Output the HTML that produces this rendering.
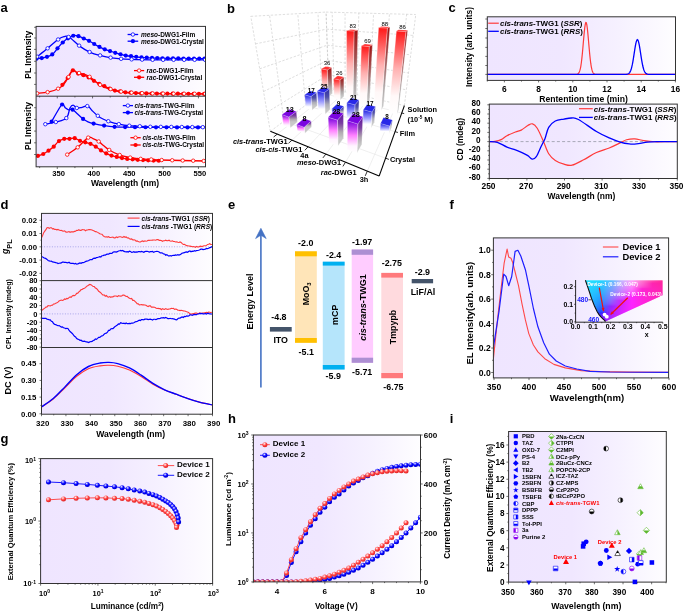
<!DOCTYPE html>
<html><head><meta charset="utf-8"><style>
html,body{margin:0;padding:0;background:#fff;}
svg{display:block;font-family:"Liberation Sans", sans-serif;will-change:transform;}
</style></head><body>
<svg width="685" height="613" viewBox="0 0 685 613">
<defs><linearGradient id="bgL" x1="0" y1="0" x2="1" y2="0"><stop offset="0" stop-color="#efe5ff"/><stop offset="0.4" stop-color="#f0e7ff"/><stop offset="0.7" stop-color="#f6f1ff"/><stop offset="1" stop-color="#fefdff"/></linearGradient><linearGradient id="bgLc" x1="0" y1="0" x2="1" y2="0"><stop offset="0" stop-color="#eee6ff"/><stop offset="0.45" stop-color="#f0e9ff"/><stop offset="1" stop-color="#fdfcff"/></linearGradient><clipPath id="clipA"><rect x="36.1" y="26.4" width="169.4" height="140.4"/></clipPath><clipPath id="clipC1"><rect x="487.3" y="16.8" width="188.2" height="63.6"/></clipPath><clipPath id="clipC2"><rect x="489.3" y="104.1" width="188" height="74.4"/></clipPath><linearGradient id="bgC" x1="0" y1="0" x2="1" y2="0"><stop offset="0" stop-color="#efe5ff"/><stop offset="0.4" stop-color="#f0e7ff"/><stop offset="0.7" stop-color="#f6f1ff"/><stop offset="1" stop-color="#fefdff"/></linearGradient><clipPath id="clipD"><rect x="41.5" y="213.4" width="171" height="200.8"/></clipPath><linearGradient id="cr0" gradientUnits="userSpaceOnUse" x1="580" y1="0" x2="663" y2="0"><stop offset="0.000" stop-color="#00e6ff"/><stop offset="0.125" stop-color="#00dfff"/><stop offset="0.250" stop-color="#00d2ff"/><stop offset="0.375" stop-color="#35b7ff"/><stop offset="0.500" stop-color="#b9acff"/><stop offset="0.625" stop-color="#ff97f9"/><stop offset="0.750" stop-color="#ff62c4"/><stop offset="0.875" stop-color="#ff2ea0"/><stop offset="1.000" stop-color="#ff008a"/></linearGradient><linearGradient id="cr1" gradientUnits="userSpaceOnUse" x1="580" y1="0" x2="663" y2="0"><stop offset="0.000" stop-color="#00e4ff"/><stop offset="0.125" stop-color="#00ddff"/><stop offset="0.250" stop-color="#00cfff"/><stop offset="0.375" stop-color="#3cb3ff"/><stop offset="0.500" stop-color="#baa7ff"/><stop offset="0.625" stop-color="#ff92f9"/><stop offset="0.750" stop-color="#ff5cc5"/><stop offset="0.875" stop-color="#ff21a1"/><stop offset="1.000" stop-color="#ff008d"/></linearGradient><linearGradient id="cr2" gradientUnits="userSpaceOnUse" x1="580" y1="0" x2="663" y2="0"><stop offset="0.000" stop-color="#00e3ff"/><stop offset="0.125" stop-color="#00daff"/><stop offset="0.250" stop-color="#00ccff"/><stop offset="0.375" stop-color="#43afff"/><stop offset="0.500" stop-color="#bba2ff"/><stop offset="0.625" stop-color="#ff8bf9"/><stop offset="0.750" stop-color="#ff55c6"/><stop offset="0.875" stop-color="#ff0da2"/><stop offset="1.000" stop-color="#ff008f"/></linearGradient><linearGradient id="cr3" gradientUnits="userSpaceOnUse" x1="580" y1="0" x2="663" y2="0"><stop offset="0.000" stop-color="#00e1ff"/><stop offset="0.125" stop-color="#00d8ff"/><stop offset="0.250" stop-color="#00c9ff"/><stop offset="0.375" stop-color="#48aaff"/><stop offset="0.500" stop-color="#bc9cff"/><stop offset="0.625" stop-color="#ff85fa"/><stop offset="0.750" stop-color="#ff4ec7"/><stop offset="0.875" stop-color="#ff00a4"/><stop offset="1.000" stop-color="#ff0092"/></linearGradient><linearGradient id="cr4" gradientUnits="userSpaceOnUse" x1="580" y1="0" x2="663" y2="0"><stop offset="0.000" stop-color="#00dfff"/><stop offset="0.125" stop-color="#00d6ff"/><stop offset="0.250" stop-color="#00c5ff"/><stop offset="0.375" stop-color="#4da6ff"/><stop offset="0.500" stop-color="#bc97ff"/><stop offset="0.625" stop-color="#ff7ffa"/><stop offset="0.750" stop-color="#ff46c7"/><stop offset="0.875" stop-color="#ff00a7"/><stop offset="1.000" stop-color="#ff0094"/></linearGradient><linearGradient id="cr5" gradientUnits="userSpaceOnUse" x1="580" y1="0" x2="663" y2="0"><stop offset="0.000" stop-color="#00deff"/><stop offset="0.125" stop-color="#00d4ff"/><stop offset="0.250" stop-color="#00c2ff"/><stop offset="0.375" stop-color="#51a1ff"/><stop offset="0.500" stop-color="#bd92ff"/><stop offset="0.625" stop-color="#ff78fa"/><stop offset="0.750" stop-color="#ff3cc8"/><stop offset="0.875" stop-color="#ff00a9"/><stop offset="1.000" stop-color="#ff0096"/></linearGradient><linearGradient id="cr6" gradientUnits="userSpaceOnUse" x1="580" y1="0" x2="663" y2="0"><stop offset="0.000" stop-color="#00dcff"/><stop offset="0.125" stop-color="#00d2ff"/><stop offset="0.250" stop-color="#00bfff"/><stop offset="0.375" stop-color="#569dff"/><stop offset="0.500" stop-color="#be8cff"/><stop offset="0.625" stop-color="#ff71fb"/><stop offset="0.750" stop-color="#ff31c9"/><stop offset="0.875" stop-color="#ff00ab"/><stop offset="1.000" stop-color="#ff0099"/></linearGradient><linearGradient id="cr7" gradientUnits="userSpaceOnUse" x1="580" y1="0" x2="663" y2="0"><stop offset="0.000" stop-color="#00daff"/><stop offset="0.125" stop-color="#00cfff"/><stop offset="0.250" stop-color="#00bbff"/><stop offset="0.375" stop-color="#5998ff"/><stop offset="0.500" stop-color="#be87ff"/><stop offset="0.625" stop-color="#ff69fb"/><stop offset="0.750" stop-color="#ff22ca"/><stop offset="0.875" stop-color="#ff00ad"/><stop offset="1.000" stop-color="#ff009b"/></linearGradient><linearGradient id="cr8" gradientUnits="userSpaceOnUse" x1="580" y1="0" x2="663" y2="0"><stop offset="0.000" stop-color="#00d8ff"/><stop offset="0.125" stop-color="#00cdff"/><stop offset="0.250" stop-color="#00b8ff"/><stop offset="0.375" stop-color="#5d94ff"/><stop offset="0.500" stop-color="#bf81ff"/><stop offset="0.625" stop-color="#ff61fb"/><stop offset="0.750" stop-color="#ff06cb"/><stop offset="0.875" stop-color="#ff00af"/><stop offset="1.000" stop-color="#ff009d"/></linearGradient><linearGradient id="cr9" gradientUnits="userSpaceOnUse" x1="580" y1="0" x2="663" y2="0"><stop offset="0.000" stop-color="#00d7ff"/><stop offset="0.125" stop-color="#00cbff"/><stop offset="0.250" stop-color="#00b4ff"/><stop offset="0.375" stop-color="#608fff"/><stop offset="0.500" stop-color="#c07bff"/><stop offset="0.625" stop-color="#ff58fc"/><stop offset="0.750" stop-color="#ff00cc"/><stop offset="0.875" stop-color="#ff00b1"/><stop offset="1.000" stop-color="#ff009f"/></linearGradient><linearGradient id="cr10" gradientUnits="userSpaceOnUse" x1="580" y1="0" x2="663" y2="0"><stop offset="0.000" stop-color="#00d5ff"/><stop offset="0.125" stop-color="#00c8ff"/><stop offset="0.250" stop-color="#00b1ff"/><stop offset="0.375" stop-color="#638aff"/><stop offset="0.500" stop-color="#c075ff"/><stop offset="0.625" stop-color="#ff4ffc"/><stop offset="0.750" stop-color="#ff00ce"/><stop offset="0.875" stop-color="#ff00b3"/><stop offset="1.000" stop-color="#ff00a1"/></linearGradient><linearGradient id="cr11" gradientUnits="userSpaceOnUse" x1="580" y1="0" x2="663" y2="0"><stop offset="0.000" stop-color="#00d3ff"/><stop offset="0.125" stop-color="#00c6ff"/><stop offset="0.250" stop-color="#00adff"/><stop offset="0.375" stop-color="#6685ff"/><stop offset="0.500" stop-color="#c16eff"/><stop offset="0.625" stop-color="#ff44fc"/><stop offset="0.750" stop-color="#ff00cf"/><stop offset="0.875" stop-color="#ff00b4"/><stop offset="1.000" stop-color="#ff00a2"/></linearGradient><linearGradient id="cr12" gradientUnits="userSpaceOnUse" x1="580" y1="0" x2="663" y2="0"><stop offset="0.000" stop-color="#00d2ff"/><stop offset="0.125" stop-color="#00c4ff"/><stop offset="0.250" stop-color="#00a9ff"/><stop offset="0.375" stop-color="#6980ff"/><stop offset="0.500" stop-color="#c167ff"/><stop offset="0.625" stop-color="#ff36fd"/><stop offset="0.750" stop-color="#ff00d0"/><stop offset="0.875" stop-color="#ff00b6"/><stop offset="1.000" stop-color="#ff00a4"/></linearGradient><linearGradient id="cr13" gradientUnits="userSpaceOnUse" x1="580" y1="0" x2="663" y2="0"><stop offset="0.000" stop-color="#00d0ff"/><stop offset="0.125" stop-color="#00c1ff"/><stop offset="0.250" stop-color="#00a5ff"/><stop offset="0.375" stop-color="#6b7bff"/><stop offset="0.500" stop-color="#c260ff"/><stop offset="0.625" stop-color="#ff24fd"/><stop offset="0.750" stop-color="#ff00d2"/><stop offset="0.875" stop-color="#ff00b8"/><stop offset="1.000" stop-color="#ff00a6"/></linearGradient><linearGradient id="cr14" gradientUnits="userSpaceOnUse" x1="580" y1="0" x2="663" y2="0"><stop offset="0.000" stop-color="#00ceff"/><stop offset="0.125" stop-color="#00bfff"/><stop offset="0.250" stop-color="#00a1ff"/><stop offset="0.375" stop-color="#6e76ff"/><stop offset="0.500" stop-color="#c358ff"/><stop offset="0.625" stop-color="#ff00fd"/><stop offset="0.750" stop-color="#ff00d3"/><stop offset="0.875" stop-color="#ff00b9"/><stop offset="1.000" stop-color="#ff00a7"/></linearGradient><linearGradient id="cr15" gradientUnits="userSpaceOnUse" x1="580" y1="0" x2="663" y2="0"><stop offset="0.000" stop-color="#00ccff"/><stop offset="0.125" stop-color="#00bcff"/><stop offset="0.250" stop-color="#009dff"/><stop offset="0.375" stop-color="#7070ff"/><stop offset="0.500" stop-color="#c350ff"/><stop offset="0.625" stop-color="#ff00fe"/><stop offset="0.750" stop-color="#ff00d4"/><stop offset="0.875" stop-color="#ff00bb"/><stop offset="1.000" stop-color="#ff00a9"/></linearGradient><linearGradient id="cr16" gradientUnits="userSpaceOnUse" x1="580" y1="0" x2="663" y2="0"><stop offset="0.000" stop-color="#00caff"/><stop offset="0.125" stop-color="#00baff"/><stop offset="0.250" stop-color="#0099ff"/><stop offset="0.375" stop-color="#736bff"/><stop offset="0.500" stop-color="#c447ff"/><stop offset="0.625" stop-color="#ff00fe"/><stop offset="0.750" stop-color="#ff00d5"/><stop offset="0.875" stop-color="#ff00bc"/><stop offset="1.000" stop-color="#ff00aa"/></linearGradient><linearGradient id="cr17" gradientUnits="userSpaceOnUse" x1="580" y1="0" x2="663" y2="0"><stop offset="0.000" stop-color="#00c8ff"/><stop offset="0.125" stop-color="#00b7ff"/><stop offset="0.250" stop-color="#0094ff"/><stop offset="0.375" stop-color="#7565ff"/><stop offset="0.500" stop-color="#c43cff"/><stop offset="0.625" stop-color="#ff00fe"/><stop offset="0.750" stop-color="#ff00d6"/><stop offset="0.875" stop-color="#ff00bd"/><stop offset="1.000" stop-color="#ff00ac"/></linearGradient><linearGradient id="cr18" gradientUnits="userSpaceOnUse" x1="580" y1="0" x2="663" y2="0"><stop offset="0.000" stop-color="#00c7ff"/><stop offset="0.125" stop-color="#00b4ff"/><stop offset="0.250" stop-color="#0090ff"/><stop offset="0.375" stop-color="#775eff"/><stop offset="0.500" stop-color="#c52eff"/><stop offset="0.625" stop-color="#ff00fe"/><stop offset="0.750" stop-color="#ff00d7"/><stop offset="0.875" stop-color="#ff00bf"/><stop offset="1.000" stop-color="#ff00ad"/></linearGradient><linearGradient id="cr19" gradientUnits="userSpaceOnUse" x1="580" y1="0" x2="663" y2="0"><stop offset="0.000" stop-color="#00c5ff"/><stop offset="0.125" stop-color="#00b2ff"/><stop offset="0.250" stop-color="#008bff"/><stop offset="0.375" stop-color="#7958ff"/><stop offset="0.500" stop-color="#c51bff"/><stop offset="0.625" stop-color="#ff00ff"/><stop offset="0.750" stop-color="#ff00d8"/><stop offset="0.875" stop-color="#ff00c0"/><stop offset="1.000" stop-color="#ff00af"/></linearGradient><linearGradient id="cr20" gradientUnits="userSpaceOnUse" x1="580" y1="0" x2="663" y2="0"><stop offset="0.000" stop-color="#00c3ff"/><stop offset="0.125" stop-color="#00afff"/><stop offset="0.250" stop-color="#0086ff"/><stop offset="0.375" stop-color="#7b50ff"/><stop offset="0.500" stop-color="#c600ff"/><stop offset="0.625" stop-color="#ff00ff"/><stop offset="0.750" stop-color="#ff00d9"/><stop offset="0.875" stop-color="#ff00c1"/><stop offset="1.000" stop-color="#ff00b0"/></linearGradient><linearGradient id="cr21" gradientUnits="userSpaceOnUse" x1="580" y1="0" x2="663" y2="0"><stop offset="0.000" stop-color="#00c1ff"/><stop offset="0.125" stop-color="#00acff"/><stop offset="0.250" stop-color="#0081ff"/><stop offset="0.375" stop-color="#7c48ff"/><stop offset="0.500" stop-color="#c700ff"/><stop offset="0.625" stop-color="#ff00ff"/><stop offset="0.750" stop-color="#ff00da"/><stop offset="0.875" stop-color="#ff00c2"/><stop offset="1.000" stop-color="#ff00b1"/></linearGradient><linearGradient id="cr22" gradientUnits="userSpaceOnUse" x1="580" y1="0" x2="663" y2="0"><stop offset="0.000" stop-color="#00bfff"/><stop offset="0.125" stop-color="#00a9ff"/><stop offset="0.250" stop-color="#007bff"/><stop offset="0.375" stop-color="#7e3fff"/><stop offset="0.500" stop-color="#c900ff"/><stop offset="0.625" stop-color="#ff00ff"/><stop offset="0.750" stop-color="#ff00db"/><stop offset="0.875" stop-color="#ff00c3"/><stop offset="1.000" stop-color="#ff00b2"/></linearGradient><linearGradient id="cr23" gradientUnits="userSpaceOnUse" x1="580" y1="0" x2="663" y2="0"><stop offset="0.000" stop-color="#00bdff"/><stop offset="0.125" stop-color="#00a7ff"/><stop offset="0.250" stop-color="#0075ff"/><stop offset="0.375" stop-color="#8035ff"/><stop offset="0.500" stop-color="#ca00ff"/><stop offset="0.625" stop-color="#ff00ff"/><stop offset="0.750" stop-color="#ff00dc"/><stop offset="0.875" stop-color="#ff00c4"/><stop offset="1.000" stop-color="#ff00b4"/></linearGradient><linearGradient id="cr24" gradientUnits="userSpaceOnUse" x1="580" y1="0" x2="663" y2="0"><stop offset="0.000" stop-color="#00bbff"/><stop offset="0.125" stop-color="#00a4ff"/><stop offset="0.250" stop-color="#006fff"/><stop offset="0.375" stop-color="#8227ff"/><stop offset="0.500" stop-color="#cb00ff"/><stop offset="0.625" stop-color="#fe00ff"/><stop offset="0.750" stop-color="#ff00dd"/><stop offset="0.875" stop-color="#ff00c6"/><stop offset="1.000" stop-color="#ff00b5"/></linearGradient><linearGradient id="cr25" gradientUnits="userSpaceOnUse" x1="580" y1="0" x2="663" y2="0"><stop offset="0.000" stop-color="#00b9ff"/><stop offset="0.125" stop-color="#00a1ff"/><stop offset="0.250" stop-color="#0069ff"/><stop offset="0.375" stop-color="#8312ff"/><stop offset="0.500" stop-color="#cd00ff"/><stop offset="0.625" stop-color="#fe00ff"/><stop offset="0.750" stop-color="#ff00dd"/><stop offset="0.875" stop-color="#ff00c7"/><stop offset="1.000" stop-color="#ff00b6"/></linearGradient><linearGradient id="cr26" gradientUnits="userSpaceOnUse" x1="580" y1="0" x2="663" y2="0"><stop offset="0.000" stop-color="#00b7ff"/><stop offset="0.125" stop-color="#009eff"/><stop offset="0.250" stop-color="#0062ff"/><stop offset="0.375" stop-color="#8600ff"/><stop offset="0.500" stop-color="#ce00ff"/><stop offset="0.625" stop-color="#fe00ff"/><stop offset="0.750" stop-color="#ff00de"/><stop offset="0.875" stop-color="#ff00c8"/><stop offset="1.000" stop-color="#ff00b7"/></linearGradient><linearGradient id="cr27" gradientUnits="userSpaceOnUse" x1="580" y1="0" x2="663" y2="0"><stop offset="0.000" stop-color="#00b5ff"/><stop offset="0.125" stop-color="#009aff"/><stop offset="0.250" stop-color="#005aff"/><stop offset="0.375" stop-color="#8a00ff"/><stop offset="0.500" stop-color="#cf00ff"/><stop offset="0.625" stop-color="#fe00ff"/><stop offset="0.750" stop-color="#ff00df"/><stop offset="0.875" stop-color="#ff00c8"/><stop offset="1.000" stop-color="#ff00b8"/></linearGradient><linearGradient id="cr28" gradientUnits="userSpaceOnUse" x1="580" y1="0" x2="663" y2="0"><stop offset="0.000" stop-color="#00b2ff"/><stop offset="0.125" stop-color="#0097ff"/><stop offset="0.250" stop-color="#0051ff"/><stop offset="0.375" stop-color="#8e00ff"/><stop offset="0.500" stop-color="#d000ff"/><stop offset="0.625" stop-color="#fe00ff"/><stop offset="0.750" stop-color="#ff00e0"/><stop offset="0.875" stop-color="#ff00c9"/><stop offset="1.000" stop-color="#ff00b9"/></linearGradient><linearGradient id="cr29" gradientUnits="userSpaceOnUse" x1="580" y1="0" x2="663" y2="0"><stop offset="0.000" stop-color="#00b0ff"/><stop offset="0.125" stop-color="#0094ff"/><stop offset="0.250" stop-color="#0047ff"/><stop offset="0.375" stop-color="#9100ff"/><stop offset="0.500" stop-color="#d100ff"/><stop offset="0.625" stop-color="#fe00ff"/><stop offset="0.750" stop-color="#ff00e0"/><stop offset="0.875" stop-color="#ff00ca"/><stop offset="1.000" stop-color="#ff00ba"/></linearGradient><linearGradient id="cr30" gradientUnits="userSpaceOnUse" x1="580" y1="0" x2="663" y2="0"><stop offset="0.000" stop-color="#00aeff"/><stop offset="0.125" stop-color="#0091ff"/><stop offset="0.250" stop-color="#003bff"/><stop offset="0.375" stop-color="#9400ff"/><stop offset="0.500" stop-color="#d200ff"/><stop offset="0.625" stop-color="#fd00ff"/><stop offset="0.750" stop-color="#ff00e1"/><stop offset="0.875" stop-color="#ff00cb"/><stop offset="1.000" stop-color="#ff00bb"/></linearGradient><linearGradient id="cr31" gradientUnits="userSpaceOnUse" x1="580" y1="0" x2="663" y2="0"><stop offset="0.000" stop-color="#00acff"/><stop offset="0.125" stop-color="#008dff"/><stop offset="0.250" stop-color="#002cff"/><stop offset="0.375" stop-color="#9700ff"/><stop offset="0.500" stop-color="#d300ff"/><stop offset="0.625" stop-color="#fd00ff"/><stop offset="0.750" stop-color="#ff00e2"/><stop offset="0.875" stop-color="#ff00cc"/><stop offset="1.000" stop-color="#ff00bc"/></linearGradient><linearGradient id="cr32" gradientUnits="userSpaceOnUse" x1="580" y1="0" x2="663" y2="0"><stop offset="0.000" stop-color="#00aaff"/><stop offset="0.125" stop-color="#0089ff"/><stop offset="0.250" stop-color="#0012ff"/><stop offset="0.375" stop-color="#9a00ff"/><stop offset="0.500" stop-color="#d300ff"/><stop offset="0.625" stop-color="#fd00ff"/><stop offset="0.750" stop-color="#ff00e2"/><stop offset="0.875" stop-color="#ff00cd"/><stop offset="1.000" stop-color="#ff00bd"/></linearGradient><linearGradient id="cr33" gradientUnits="userSpaceOnUse" x1="580" y1="0" x2="663" y2="0"><stop offset="0.000" stop-color="#00a7ff"/><stop offset="0.125" stop-color="#0086ff"/><stop offset="0.250" stop-color="#1d00ff"/><stop offset="0.375" stop-color="#9d00ff"/><stop offset="0.500" stop-color="#d400ff"/><stop offset="0.625" stop-color="#fd00ff"/><stop offset="0.750" stop-color="#ff00e3"/><stop offset="0.875" stop-color="#ff00ce"/><stop offset="1.000" stop-color="#ff00be"/></linearGradient><linearGradient id="cr34" gradientUnits="userSpaceOnUse" x1="580" y1="0" x2="663" y2="0"><stop offset="0.000" stop-color="#00a5ff"/><stop offset="0.125" stop-color="#0082ff"/><stop offset="0.250" stop-color="#3100ff"/><stop offset="0.375" stop-color="#9f00ff"/><stop offset="0.500" stop-color="#d500ff"/><stop offset="0.625" stop-color="#fd00ff"/><stop offset="0.750" stop-color="#ff00e3"/><stop offset="0.875" stop-color="#ff00ce"/><stop offset="1.000" stop-color="#ff00bf"/></linearGradient><linearGradient id="cr35" gradientUnits="userSpaceOnUse" x1="580" y1="0" x2="663" y2="0"><stop offset="0.000" stop-color="#00a3ff"/><stop offset="0.125" stop-color="#007eff"/><stop offset="0.250" stop-color="#3e00ff"/><stop offset="0.375" stop-color="#a200ff"/><stop offset="0.500" stop-color="#d600ff"/><stop offset="0.625" stop-color="#fd00ff"/><stop offset="0.750" stop-color="#ff00e4"/><stop offset="0.875" stop-color="#ff00cf"/><stop offset="1.000" stop-color="#ff00bf"/></linearGradient><linearGradient id="cr36" gradientUnits="userSpaceOnUse" x1="580" y1="0" x2="663" y2="0"><stop offset="0.000" stop-color="#00a0ff"/><stop offset="0.125" stop-color="#007aff"/><stop offset="0.250" stop-color="#4800ff"/><stop offset="0.375" stop-color="#a400ff"/><stop offset="0.500" stop-color="#d600ff"/><stop offset="0.625" stop-color="#fd00ff"/><stop offset="0.750" stop-color="#ff00e4"/><stop offset="0.875" stop-color="#ff00d0"/><stop offset="1.000" stop-color="#ff00c0"/></linearGradient><linearGradient id="cr37" gradientUnits="userSpaceOnUse" x1="580" y1="0" x2="663" y2="0"><stop offset="0.000" stop-color="#009eff"/><stop offset="0.125" stop-color="#0076ff"/><stop offset="0.250" stop-color="#5000ff"/><stop offset="0.375" stop-color="#a600ff"/><stop offset="0.500" stop-color="#d700ff"/><stop offset="0.625" stop-color="#fd00ff"/><stop offset="0.750" stop-color="#ff00e5"/><stop offset="0.875" stop-color="#ff00d1"/><stop offset="1.000" stop-color="#ff00c1"/></linearGradient><linearGradient id="cr38" gradientUnits="userSpaceOnUse" x1="580" y1="0" x2="663" y2="0"><stop offset="0.000" stop-color="#009bff"/><stop offset="0.125" stop-color="#0071ff"/><stop offset="0.250" stop-color="#5700ff"/><stop offset="0.375" stop-color="#a800ff"/><stop offset="0.500" stop-color="#d800ff"/><stop offset="0.625" stop-color="#fc00ff"/><stop offset="0.750" stop-color="#ff00e5"/><stop offset="0.875" stop-color="#ff00d1"/><stop offset="1.000" stop-color="#ff00c2"/></linearGradient><linearGradient id="cr39" gradientUnits="userSpaceOnUse" x1="580" y1="0" x2="663" y2="0"><stop offset="0.000" stop-color="#0099ff"/><stop offset="0.125" stop-color="#006cff"/><stop offset="0.250" stop-color="#5e00ff"/><stop offset="0.375" stop-color="#aa00ff"/><stop offset="0.500" stop-color="#d800ff"/><stop offset="0.625" stop-color="#fc00ff"/><stop offset="0.750" stop-color="#ff00e6"/><stop offset="0.875" stop-color="#ff00d2"/><stop offset="1.000" stop-color="#ff00c3"/></linearGradient><linearGradient id="cr40" gradientUnits="userSpaceOnUse" x1="580" y1="0" x2="663" y2="0"><stop offset="0.000" stop-color="#0096ff"/><stop offset="0.125" stop-color="#0067ff"/><stop offset="0.250" stop-color="#6300ff"/><stop offset="0.375" stop-color="#ab00ff"/><stop offset="0.500" stop-color="#d900ff"/><stop offset="0.625" stop-color="#fc00ff"/><stop offset="0.750" stop-color="#ff00e6"/><stop offset="0.875" stop-color="#ff00d3"/><stop offset="1.000" stop-color="#ff00c3"/></linearGradient><linearGradient id="cr41" gradientUnits="userSpaceOnUse" x1="580" y1="0" x2="663" y2="0"><stop offset="0.000" stop-color="#0094ff"/><stop offset="0.125" stop-color="#0062ff"/><stop offset="0.250" stop-color="#6800ff"/><stop offset="0.375" stop-color="#ad00ff"/><stop offset="0.500" stop-color="#d900ff"/><stop offset="0.625" stop-color="#fc00ff"/><stop offset="0.750" stop-color="#ff00e7"/><stop offset="0.875" stop-color="#ff00d3"/><stop offset="1.000" stop-color="#ff00c4"/></linearGradient><clipPath id="clipF"><rect x="493.4" y="237.9" width="175.2" height="140"/></clipPath><linearGradient id="cieBase" gradientUnits="userSpaceOnUse" x1="585" y1="0" x2="663" y2="0"><stop offset="0" stop-color="#2a4cff"/><stop offset="0.25" stop-color="#5a22ff"/><stop offset="0.5" stop-color="#c012f0"/><stop offset="0.75" stop-color="#f010d0"/><stop offset="1" stop-color="#ff10a8"/></linearGradient><radialGradient id="cieCyan" gradientUnits="userSpaceOnUse" cx="586" cy="279" r="24"><stop offset="0" stop-color="#00f0f8" stop-opacity="1"/><stop offset="0.55" stop-color="#10c8f8" stop-opacity="0.85"/><stop offset="1" stop-color="#2060ff" stop-opacity="0"/></radialGradient><radialGradient id="cieWhite" gradientUnits="userSpaceOnUse" cx="620" cy="281" r="17"><stop offset="0" stop-color="#ffffff" stop-opacity="0.85"/><stop offset="1" stop-color="#ffd0ff" stop-opacity="0"/></radialGradient><clipPath id="cieClip"><path id="cieShape" d="M585.4,280.2 L587.6,286.6 L589.6,292.5 L591.5,298.5 L594.7,306.6 L597.2,311.7 L599.2,314.9 L600.7,316.7 L602.9,318.8 L604.6,320.4 L605.4,321.6 L662.6,295.3 L662.6,280.2 Z"/></clipPath><radialGradient id="ballB" cx="0.38" cy="0.32" r="0.65"><stop offset="0" stop-color="#ffffff"/><stop offset="0.28" stop-color="#6a6aff"/><stop offset="0.6" stop-color="#0000ff"/><stop offset="1" stop-color="#0000d0"/></radialGradient><radialGradient id="ballR" cx="0.38" cy="0.32" r="0.65"><stop offset="0" stop-color="#ffffff"/><stop offset="0.28" stop-color="#ff9a9a"/><stop offset="0.6" stop-color="#ff3c3c"/><stop offset="1" stop-color="#e02a2a"/></radialGradient><clipPath id="hT" clipPathUnits="objectBoundingBox"><rect x="0" y="0" width="1" height="0.5"/></clipPath><clipPath id="hB" clipPathUnits="objectBoundingBox"><rect x="0" y="0.5" width="1" height="0.5"/></clipPath><clipPath id="hL" clipPathUnits="objectBoundingBox"><rect x="0" y="0" width="0.5" height="1"/></clipPath><clipPath id="hR" clipPathUnits="objectBoundingBox"><rect x="0.5" y="0" width="0.5" height="1"/></clipPath></defs>
<rect width="685" height="613" fill="#fff"/>
<text x="0.40" y="11.90" font-size="13" font-weight="bold" text-anchor="start" fill="#000">a</text>
<rect x="36.10" y="26.40" width="169.40" height="140.40" fill="url(#bgL)" stroke="none" stroke-width="1"/>
<g clip-path="url(#clipA)">
<path d="M37.10,56.70 C38.92,55.25 44.40,50.95 48.00,48.00 C51.60,45.05 56.03,40.90 58.70,39.00 C61.37,37.10 62.28,36.93 64.00,36.60 C65.72,36.27 66.33,35.37 69.00,37.00 C71.67,38.63 76.48,43.85 80.00,46.40 C83.52,48.95 86.65,50.77 90.10,52.30 C93.55,53.83 97.15,54.68 100.70,55.60 C104.25,56.52 107.35,57.20 111.40,57.80 C115.45,58.40 118.57,58.87 125.00,59.20 C131.43,59.53 136.58,59.70 150.00,59.80 C163.42,59.90 196.25,59.80 205.50,59.80" fill="none" stroke="#0000ff" stroke-width="1.3"/>
<path d="M36.30,58.70 C37.25,58.58 40.15,58.33 42.00,58.00 C43.85,57.67 45.63,57.32 47.40,56.70 C49.17,56.08 50.87,55.75 52.60,54.30 C54.33,52.85 56.03,50.05 57.80,48.00 C59.57,45.95 61.40,43.68 63.20,42.00 C65.00,40.32 66.83,38.98 68.60,37.90 C70.37,36.82 72.07,35.77 73.80,35.50 C75.53,35.23 77.23,35.75 79.00,36.30 C80.77,36.85 82.60,37.98 84.40,38.80 C86.20,39.62 88.03,40.25 89.80,41.20 C91.57,42.15 93.25,43.47 95.00,44.50 C96.75,45.53 98.53,46.53 100.30,47.40 C102.07,48.27 103.83,49.05 105.60,49.70 C107.37,50.35 109.13,50.73 110.90,51.30 C112.67,51.87 113.85,52.40 116.20,53.10 C118.55,53.80 121.03,54.80 125.00,55.50 C128.97,56.20 134.17,56.85 140.00,57.30 C145.83,57.75 153.33,58.00 160.00,58.20 C166.67,58.40 172.42,58.43 180.00,58.50 C187.58,58.57 201.25,58.58 205.50,58.60" fill="none" stroke="#0000ff" stroke-width="1.3"/>
<path d="M37.10,93.40 C38.92,93.18 44.40,92.92 48.00,92.10 C51.60,91.28 56.03,89.85 58.70,88.50 C61.37,87.15 62.28,86.03 64.00,84.00 C65.72,81.97 67.55,78.60 69.00,76.30 C70.45,74.00 71.53,70.92 72.70,70.20 C73.87,69.48 74.78,71.48 76.00,72.00 C77.22,72.52 78.33,72.83 80.00,73.30 C81.67,73.77 84.32,74.17 86.00,74.80 C87.68,75.43 88.60,76.07 90.10,77.10 C91.60,78.13 93.23,79.63 95.00,81.00 C96.77,82.37 98.87,84.17 100.70,85.30 C102.53,86.43 104.22,87.13 106.00,87.80 C107.78,88.47 109.07,88.68 111.40,89.30 C113.73,89.92 116.07,90.88 120.00,91.50 C123.93,92.12 128.33,92.65 135.00,93.00 C141.67,93.35 148.25,93.47 160.00,93.60 C171.75,93.73 197.92,93.77 205.50,93.80" fill="none" stroke="#ff0000" stroke-width="1.3"/>
<path d="M62.40,84.80 C63.17,83.83 65.28,81.43 67.00,79.00 C68.72,76.57 70.87,71.12 72.70,70.20 C74.53,69.28 76.23,72.68 78.00,73.50 C79.77,74.32 81.63,74.52 83.30,75.10 C84.97,75.68 86.27,76.07 88.00,77.00 C89.73,77.93 91.87,79.57 93.70,80.70 C95.53,81.83 97.23,82.90 99.00,83.80 C100.77,84.70 102.63,85.35 104.30,86.10 C105.97,86.85 107.28,87.57 109.00,88.30 C110.72,89.03 111.93,89.83 114.60,90.50 C117.27,91.17 120.77,91.82 125.00,92.30 C129.23,92.78 126.58,93.13 140.00,93.40 C153.42,93.67 194.58,93.82 205.50,93.90" fill="none" stroke="#ff0000" stroke-width="1.3"/>
<path d="M45.30,124.20 C47.08,123.83 52.47,123.03 56.00,122.00 C59.53,120.97 64.17,120.33 66.50,118.00 C68.83,115.67 68.90,110.13 70.00,108.00 C71.10,105.87 71.93,105.18 73.10,105.20 C74.27,105.22 75.52,107.73 77.00,108.10 C78.48,108.47 80.22,107.75 82.00,107.40 C83.78,107.05 86.03,105.48 87.70,106.00 C89.37,106.52 90.30,108.85 92.00,110.50 C93.70,112.15 96.07,114.48 97.90,115.90 C99.73,117.32 101.23,118.10 103.00,119.00 C104.77,119.90 105.83,120.43 108.50,121.30 C111.17,122.17 115.53,123.47 119.00,124.20 C122.47,124.93 124.13,125.27 129.30,125.70 C134.47,126.13 137.30,126.55 150.00,126.80 C162.70,127.05 196.25,127.13 205.50,127.20" fill="none" stroke="#0000ff" stroke-width="1.3"/>
<path d="M51.60,121.70 C52.42,120.25 54.75,115.87 56.50,113.00 C58.25,110.13 60.60,105.33 62.10,104.50 C63.60,103.67 64.43,107.12 65.50,108.00 C66.57,108.88 67.42,109.60 68.50,109.80 C69.58,110.00 70.58,108.58 72.00,109.20 C73.42,109.82 75.12,111.85 77.00,113.50 C78.88,115.15 81.47,117.72 83.30,119.10 C85.13,120.48 86.25,121.05 88.00,121.80 C89.75,122.55 91.05,122.95 93.80,123.60 C96.55,124.25 101.02,125.17 104.50,125.70 C107.98,126.23 111.25,126.57 114.70,126.80 C118.15,127.03 119.32,127.02 125.20,127.10 C131.08,127.18 136.62,127.23 150.00,127.30 C163.38,127.37 196.25,127.47 205.50,127.50" fill="none" stroke="#0000ff" stroke-width="1.3"/>
<path d="M67.20,154.60 C68.90,153.43 73.92,150.43 77.40,147.60 C80.88,144.77 85.50,139.10 88.10,137.60 C90.70,136.10 91.25,137.97 93.00,138.60 C94.75,139.23 96.85,140.25 98.60,141.40 C100.35,142.55 101.80,144.12 103.50,145.50 C105.20,146.88 106.17,148.13 108.80,149.70 C111.43,151.27 115.85,153.60 119.30,154.90 C122.75,156.20 126.10,156.85 129.50,157.50 C132.90,158.15 134.62,158.38 139.70,158.80 C144.78,159.22 149.03,159.63 160.00,160.00 C170.97,160.37 197.92,160.83 205.50,161.00" fill="none" stroke="#ff0000" stroke-width="1.3"/>
<path d="M36.10,156.50 C37.27,156.10 41.08,155.03 43.10,154.10 C45.12,153.17 46.45,152.12 48.20,150.90 C49.95,149.68 51.82,148.43 53.60,146.80 C55.38,145.17 57.12,142.43 58.90,141.10 C60.68,139.77 62.55,139.18 64.30,138.80 C66.05,138.42 67.70,138.92 69.40,138.80 C71.10,138.68 72.67,137.73 74.50,138.10 C76.33,138.47 78.57,140.28 80.40,141.00 C82.23,141.72 83.80,141.92 85.50,142.40 C87.20,142.88 88.85,143.17 90.60,143.90 C92.35,144.63 94.25,145.70 96.00,146.80 C97.75,147.90 99.40,149.40 101.10,150.50 C102.80,151.60 104.47,152.55 106.20,153.40 C107.93,154.25 109.72,155.00 111.50,155.60 C113.28,156.20 115.15,156.58 116.90,157.00 C118.65,157.42 120.30,157.78 122.00,158.10 C123.70,158.42 124.10,158.58 127.10,158.90 C130.10,159.22 134.02,159.67 140.00,160.00 C145.98,160.33 159.17,160.75 163.00,160.90" fill="none" stroke="#ff0000" stroke-width="1.3"/>
<circle cx="36.50" cy="58.68" r="2.1" fill="#0000ff" stroke="none" stroke-width="1"/>
<circle cx="41.75" cy="58.03" r="2.1" fill="#0000ff" stroke="none" stroke-width="1"/>
<circle cx="47.00" cy="56.80" r="2.1" fill="#0000ff" stroke="none" stroke-width="1"/>
<circle cx="52.25" cy="54.46" r="2.1" fill="#0000ff" stroke="none" stroke-width="1"/>
<circle cx="57.50" cy="48.36" r="2.1" fill="#0000ff" stroke="none" stroke-width="1"/>
<circle cx="62.75" cy="42.50" r="2.1" fill="#0000ff" stroke="none" stroke-width="1"/>
<circle cx="68.00" cy="38.36" r="2.1" fill="#0000ff" stroke="none" stroke-width="1"/>
<circle cx="73.25" cy="35.75" r="2.1" fill="#0000ff" stroke="none" stroke-width="1"/>
<circle cx="78.50" cy="36.22" r="2.1" fill="#0000ff" stroke="none" stroke-width="1"/>
<circle cx="83.75" cy="38.50" r="2.1" fill="#0000ff" stroke="none" stroke-width="1"/>
<circle cx="89.00" cy="40.84" r="2.1" fill="#0000ff" stroke="none" stroke-width="1"/>
<circle cx="94.25" cy="44.02" r="2.1" fill="#0000ff" stroke="none" stroke-width="1"/>
<circle cx="99.50" cy="46.96" r="2.1" fill="#0000ff" stroke="none" stroke-width="1"/>
<circle cx="104.75" cy="49.33" r="2.1" fill="#0000ff" stroke="none" stroke-width="1"/>
<circle cx="110.00" cy="51.03" r="2.1" fill="#0000ff" stroke="none" stroke-width="1"/>
<circle cx="115.25" cy="52.78" r="2.1" fill="#0000ff" stroke="none" stroke-width="1"/>
<circle cx="120.50" cy="54.27" r="2.1" fill="#0000ff" stroke="none" stroke-width="1"/>
<circle cx="125.75" cy="55.59" r="2.1" fill="#0000ff" stroke="none" stroke-width="1"/>
<circle cx="131.00" cy="56.22" r="2.1" fill="#0000ff" stroke="none" stroke-width="1"/>
<circle cx="136.25" cy="56.85" r="2.1" fill="#0000ff" stroke="none" stroke-width="1"/>
<circle cx="141.50" cy="57.37" r="2.1" fill="#0000ff" stroke="none" stroke-width="1"/>
<circle cx="146.75" cy="57.60" r="2.1" fill="#0000ff" stroke="none" stroke-width="1"/>
<circle cx="152.00" cy="57.84" r="2.1" fill="#0000ff" stroke="none" stroke-width="1"/>
<circle cx="157.25" cy="58.08" r="2.1" fill="#0000ff" stroke="none" stroke-width="1"/>
<circle cx="162.50" cy="58.24" r="2.1" fill="#0000ff" stroke="none" stroke-width="1"/>
<circle cx="167.75" cy="58.32" r="2.1" fill="#0000ff" stroke="none" stroke-width="1"/>
<circle cx="173.00" cy="58.40" r="2.1" fill="#0000ff" stroke="none" stroke-width="1"/>
<circle cx="178.25" cy="58.47" r="2.1" fill="#0000ff" stroke="none" stroke-width="1"/>
<circle cx="183.50" cy="58.51" r="2.1" fill="#0000ff" stroke="none" stroke-width="1"/>
<circle cx="188.75" cy="58.53" r="2.1" fill="#0000ff" stroke="none" stroke-width="1"/>
<circle cx="194.00" cy="58.55" r="2.1" fill="#0000ff" stroke="none" stroke-width="1"/>
<circle cx="199.25" cy="58.58" r="2.1" fill="#0000ff" stroke="none" stroke-width="1"/>
<circle cx="204.50" cy="58.60" r="2.1" fill="#0000ff" stroke="none" stroke-width="1"/>
<circle cx="37.10" cy="56.70" r="1.75" fill="#fff" stroke="#0000ff" stroke-width="0.8"/>
<circle cx="47.60" cy="48.32" r="1.75" fill="#fff" stroke="#0000ff" stroke-width="0.8"/>
<circle cx="58.10" cy="39.50" r="1.75" fill="#fff" stroke="#0000ff" stroke-width="0.8"/>
<circle cx="68.60" cy="36.97" r="1.75" fill="#fff" stroke="#0000ff" stroke-width="0.8"/>
<circle cx="79.10" cy="45.63" r="1.75" fill="#fff" stroke="#0000ff" stroke-width="0.8"/>
<circle cx="89.60" cy="52.01" r="1.75" fill="#fff" stroke="#0000ff" stroke-width="0.8"/>
<circle cx="100.10" cy="55.41" r="1.75" fill="#fff" stroke="#0000ff" stroke-width="0.8"/>
<circle cx="110.60" cy="57.64" r="1.75" fill="#fff" stroke="#0000ff" stroke-width="0.8"/>
<circle cx="121.10" cy="58.80" r="1.75" fill="#fff" stroke="#0000ff" stroke-width="0.8"/>
<circle cx="131.60" cy="59.36" r="1.75" fill="#fff" stroke="#0000ff" stroke-width="0.8"/>
<circle cx="142.10" cy="59.61" r="1.75" fill="#fff" stroke="#0000ff" stroke-width="0.8"/>
<circle cx="152.60" cy="59.80" r="1.75" fill="#fff" stroke="#0000ff" stroke-width="0.8"/>
<circle cx="163.10" cy="59.80" r="1.75" fill="#fff" stroke="#0000ff" stroke-width="0.8"/>
<circle cx="173.60" cy="59.80" r="1.75" fill="#fff" stroke="#0000ff" stroke-width="0.8"/>
<circle cx="184.10" cy="59.80" r="1.75" fill="#fff" stroke="#0000ff" stroke-width="0.8"/>
<circle cx="194.60" cy="59.80" r="1.75" fill="#fff" stroke="#0000ff" stroke-width="0.8"/>
<circle cx="205.10" cy="59.80" r="1.75" fill="#fff" stroke="#0000ff" stroke-width="0.8"/>
<circle cx="62.40" cy="84.80" r="2.1" fill="#ff0000" stroke="none" stroke-width="1"/>
<circle cx="67.65" cy="78.00" r="2.1" fill="#ff0000" stroke="none" stroke-width="1"/>
<circle cx="72.90" cy="70.32" r="2.1" fill="#ff0000" stroke="none" stroke-width="1"/>
<circle cx="78.15" cy="73.55" r="2.1" fill="#ff0000" stroke="none" stroke-width="1"/>
<circle cx="83.40" cy="75.14" r="2.1" fill="#ff0000" stroke="none" stroke-width="1"/>
<circle cx="88.65" cy="77.42" r="2.1" fill="#ff0000" stroke="none" stroke-width="1"/>
<circle cx="93.90" cy="80.82" r="2.1" fill="#ff0000" stroke="none" stroke-width="1"/>
<circle cx="99.15" cy="83.87" r="2.1" fill="#ff0000" stroke="none" stroke-width="1"/>
<circle cx="104.40" cy="86.15" r="2.1" fill="#ff0000" stroke="none" stroke-width="1"/>
<circle cx="109.65" cy="88.56" r="2.1" fill="#ff0000" stroke="none" stroke-width="1"/>
<circle cx="114.90" cy="90.55" r="2.1" fill="#ff0000" stroke="none" stroke-width="1"/>
<circle cx="120.15" cy="91.46" r="2.1" fill="#ff0000" stroke="none" stroke-width="1"/>
<circle cx="125.40" cy="92.33" r="2.1" fill="#ff0000" stroke="none" stroke-width="1"/>
<circle cx="130.65" cy="92.71" r="2.1" fill="#ff0000" stroke="none" stroke-width="1"/>
<circle cx="135.90" cy="93.10" r="2.1" fill="#ff0000" stroke="none" stroke-width="1"/>
<circle cx="141.15" cy="93.41" r="2.1" fill="#ff0000" stroke="none" stroke-width="1"/>
<circle cx="146.40" cy="93.45" r="2.1" fill="#ff0000" stroke="none" stroke-width="1"/>
<circle cx="151.65" cy="93.49" r="2.1" fill="#ff0000" stroke="none" stroke-width="1"/>
<circle cx="156.90" cy="93.53" r="2.1" fill="#ff0000" stroke="none" stroke-width="1"/>
<circle cx="162.15" cy="93.57" r="2.1" fill="#ff0000" stroke="none" stroke-width="1"/>
<circle cx="167.40" cy="93.61" r="2.1" fill="#ff0000" stroke="none" stroke-width="1"/>
<circle cx="172.65" cy="93.65" r="2.1" fill="#ff0000" stroke="none" stroke-width="1"/>
<circle cx="177.90" cy="93.69" r="2.1" fill="#ff0000" stroke="none" stroke-width="1"/>
<circle cx="183.15" cy="93.73" r="2.1" fill="#ff0000" stroke="none" stroke-width="1"/>
<circle cx="188.40" cy="93.77" r="2.1" fill="#ff0000" stroke="none" stroke-width="1"/>
<circle cx="193.65" cy="93.81" r="2.1" fill="#ff0000" stroke="none" stroke-width="1"/>
<circle cx="198.90" cy="93.85" r="2.1" fill="#ff0000" stroke="none" stroke-width="1"/>
<circle cx="204.15" cy="93.89" r="2.1" fill="#ff0000" stroke="none" stroke-width="1"/>
<circle cx="37.10" cy="93.40" r="1.75" fill="#fff" stroke="#ff0000" stroke-width="0.8"/>
<circle cx="47.60" cy="92.15" r="1.75" fill="#fff" stroke="#ff0000" stroke-width="0.8"/>
<circle cx="58.10" cy="88.70" r="1.75" fill="#fff" stroke="#ff0000" stroke-width="0.8"/>
<circle cx="68.60" cy="76.92" r="1.75" fill="#fff" stroke="#ff0000" stroke-width="0.8"/>
<circle cx="79.10" cy="73.01" r="1.75" fill="#fff" stroke="#ff0000" stroke-width="0.8"/>
<circle cx="89.60" cy="76.82" r="1.75" fill="#fff" stroke="#ff0000" stroke-width="0.8"/>
<circle cx="100.10" cy="84.85" r="1.75" fill="#fff" stroke="#ff0000" stroke-width="0.8"/>
<circle cx="110.60" cy="89.08" r="1.75" fill="#fff" stroke="#ff0000" stroke-width="0.8"/>
<circle cx="121.10" cy="91.61" r="1.75" fill="#fff" stroke="#ff0000" stroke-width="0.8"/>
<circle cx="131.60" cy="92.66" r="1.75" fill="#fff" stroke="#ff0000" stroke-width="0.8"/>
<circle cx="142.10" cy="93.17" r="1.75" fill="#fff" stroke="#ff0000" stroke-width="0.8"/>
<circle cx="152.60" cy="93.42" r="1.75" fill="#fff" stroke="#ff0000" stroke-width="0.8"/>
<circle cx="163.10" cy="93.61" r="1.75" fill="#fff" stroke="#ff0000" stroke-width="0.8"/>
<circle cx="173.60" cy="93.66" r="1.75" fill="#fff" stroke="#ff0000" stroke-width="0.8"/>
<circle cx="184.10" cy="93.71" r="1.75" fill="#fff" stroke="#ff0000" stroke-width="0.8"/>
<circle cx="194.60" cy="93.75" r="1.75" fill="#fff" stroke="#ff0000" stroke-width="0.8"/>
<circle cx="205.10" cy="93.80" r="1.75" fill="#fff" stroke="#ff0000" stroke-width="0.8"/>
<circle cx="51.60" cy="121.70" r="2.1" fill="#0000ff" stroke="none" stroke-width="1"/>
<circle cx="62.10" cy="104.50" r="2.1" fill="#0000ff" stroke="none" stroke-width="1"/>
<circle cx="72.60" cy="109.72" r="2.1" fill="#0000ff" stroke="none" stroke-width="1"/>
<circle cx="83.10" cy="118.92" r="2.1" fill="#0000ff" stroke="none" stroke-width="1"/>
<circle cx="93.60" cy="123.54" r="2.1" fill="#0000ff" stroke="none" stroke-width="1"/>
<circle cx="104.10" cy="125.62" r="2.1" fill="#0000ff" stroke="none" stroke-width="1"/>
<circle cx="114.60" cy="126.79" r="2.1" fill="#0000ff" stroke="none" stroke-width="1"/>
<circle cx="125.10" cy="127.10" r="2.1" fill="#0000ff" stroke="none" stroke-width="1"/>
<circle cx="135.00" cy="127.18" r="2.1" fill="#0000ff" stroke="none" stroke-width="1"/>
<circle cx="145.50" cy="127.26" r="2.1" fill="#0000ff" stroke="none" stroke-width="1"/>
<circle cx="156.00" cy="127.32" r="2.1" fill="#0000ff" stroke="none" stroke-width="1"/>
<circle cx="166.50" cy="127.36" r="2.1" fill="#0000ff" stroke="none" stroke-width="1"/>
<circle cx="177.00" cy="127.40" r="2.1" fill="#0000ff" stroke="none" stroke-width="1"/>
<circle cx="187.50" cy="127.44" r="2.1" fill="#0000ff" stroke="none" stroke-width="1"/>
<circle cx="198.00" cy="127.47" r="2.1" fill="#0000ff" stroke="none" stroke-width="1"/>
<circle cx="45.30" cy="124.20" r="1.75" fill="#fff" stroke="#0000ff" stroke-width="0.8"/>
<circle cx="55.80" cy="122.04" r="1.75" fill="#fff" stroke="#0000ff" stroke-width="0.8"/>
<circle cx="66.30" cy="118.08" r="1.75" fill="#fff" stroke="#0000ff" stroke-width="0.8"/>
<circle cx="76.80" cy="107.95" r="1.75" fill="#fff" stroke="#0000ff" stroke-width="0.8"/>
<circle cx="87.30" cy="106.10" r="1.75" fill="#fff" stroke="#0000ff" stroke-width="0.8"/>
<circle cx="97.80" cy="115.81" r="1.75" fill="#fff" stroke="#0000ff" stroke-width="0.8"/>
<circle cx="108.30" cy="121.22" r="1.75" fill="#fff" stroke="#0000ff" stroke-width="0.8"/>
<circle cx="118.80" cy="124.14" r="1.75" fill="#fff" stroke="#0000ff" stroke-width="0.8"/>
<circle cx="129.30" cy="125.70" r="1.75" fill="#fff" stroke="#0000ff" stroke-width="0.8"/>
<circle cx="139.80" cy="126.26" r="1.75" fill="#fff" stroke="#0000ff" stroke-width="0.8"/>
<circle cx="150.30" cy="126.80" r="1.75" fill="#fff" stroke="#0000ff" stroke-width="0.8"/>
<circle cx="160.80" cy="126.88" r="1.75" fill="#fff" stroke="#0000ff" stroke-width="0.8"/>
<circle cx="171.30" cy="126.95" r="1.75" fill="#fff" stroke="#0000ff" stroke-width="0.8"/>
<circle cx="181.80" cy="127.03" r="1.75" fill="#fff" stroke="#0000ff" stroke-width="0.8"/>
<circle cx="192.30" cy="127.10" r="1.75" fill="#fff" stroke="#0000ff" stroke-width="0.8"/>
<circle cx="202.80" cy="127.18" r="1.75" fill="#fff" stroke="#0000ff" stroke-width="0.8"/>
<circle cx="38.00" cy="155.85" r="2.1" fill="#ff0000" stroke="none" stroke-width="1"/>
<circle cx="43.25" cy="154.01" r="2.1" fill="#ff0000" stroke="none" stroke-width="1"/>
<circle cx="48.50" cy="150.67" r="2.1" fill="#ff0000" stroke="none" stroke-width="1"/>
<circle cx="53.75" cy="146.64" r="2.1" fill="#ff0000" stroke="none" stroke-width="1"/>
<circle cx="59.00" cy="141.06" r="2.1" fill="#ff0000" stroke="none" stroke-width="1"/>
<circle cx="64.25" cy="138.82" r="2.1" fill="#ff0000" stroke="none" stroke-width="1"/>
<circle cx="69.50" cy="138.79" r="2.1" fill="#ff0000" stroke="none" stroke-width="1"/>
<circle cx="74.75" cy="138.22" r="2.1" fill="#ff0000" stroke="none" stroke-width="1"/>
<circle cx="80.00" cy="140.80" r="2.1" fill="#ff0000" stroke="none" stroke-width="1"/>
<circle cx="85.25" cy="142.33" r="2.1" fill="#ff0000" stroke="none" stroke-width="1"/>
<circle cx="90.50" cy="143.87" r="2.1" fill="#ff0000" stroke="none" stroke-width="1"/>
<circle cx="95.75" cy="146.67" r="2.1" fill="#ff0000" stroke="none" stroke-width="1"/>
<circle cx="101.00" cy="150.43" r="2.1" fill="#ff0000" stroke="none" stroke-width="1"/>
<circle cx="106.25" cy="153.42" r="2.1" fill="#ff0000" stroke="none" stroke-width="1"/>
<circle cx="111.50" cy="155.60" r="2.1" fill="#ff0000" stroke="none" stroke-width="1"/>
<circle cx="116.75" cy="156.96" r="2.1" fill="#ff0000" stroke="none" stroke-width="1"/>
<circle cx="122.00" cy="158.10" r="2.1" fill="#ff0000" stroke="none" stroke-width="1"/>
<circle cx="127.25" cy="158.91" r="2.1" fill="#ff0000" stroke="none" stroke-width="1"/>
<circle cx="132.50" cy="159.36" r="2.1" fill="#ff0000" stroke="none" stroke-width="1"/>
<circle cx="137.75" cy="159.81" r="2.1" fill="#ff0000" stroke="none" stroke-width="1"/>
<circle cx="143.00" cy="160.12" r="2.1" fill="#ff0000" stroke="none" stroke-width="1"/>
<circle cx="148.25" cy="160.32" r="2.1" fill="#ff0000" stroke="none" stroke-width="1"/>
<circle cx="153.50" cy="160.53" r="2.1" fill="#ff0000" stroke="none" stroke-width="1"/>
<circle cx="158.75" cy="160.73" r="2.1" fill="#ff0000" stroke="none" stroke-width="1"/>
<circle cx="67.20" cy="154.60" r="1.75" fill="#fff" stroke="#ff0000" stroke-width="0.8"/>
<circle cx="77.70" cy="147.32" r="1.75" fill="#fff" stroke="#ff0000" stroke-width="0.8"/>
<circle cx="88.20" cy="137.62" r="1.75" fill="#fff" stroke="#ff0000" stroke-width="0.8"/>
<circle cx="98.70" cy="141.48" r="1.75" fill="#fff" stroke="#ff0000" stroke-width="0.8"/>
<circle cx="109.20" cy="149.90" r="1.75" fill="#fff" stroke="#ff0000" stroke-width="0.8"/>
<circle cx="119.70" cy="155.00" r="1.75" fill="#fff" stroke="#ff0000" stroke-width="0.8"/>
<circle cx="130.20" cy="157.59" r="1.75" fill="#fff" stroke="#ff0000" stroke-width="0.8"/>
<circle cx="140.70" cy="158.86" r="1.75" fill="#fff" stroke="#ff0000" stroke-width="0.8"/>
<circle cx="151.20" cy="159.48" r="1.75" fill="#fff" stroke="#ff0000" stroke-width="0.8"/>
<circle cx="161.70" cy="160.04" r="1.75" fill="#fff" stroke="#ff0000" stroke-width="0.8"/>
<circle cx="172.20" cy="160.27" r="1.75" fill="#fff" stroke="#ff0000" stroke-width="0.8"/>
<circle cx="182.70" cy="160.50" r="1.75" fill="#fff" stroke="#ff0000" stroke-width="0.8"/>
<circle cx="193.20" cy="160.73" r="1.75" fill="#fff" stroke="#ff0000" stroke-width="0.8"/>
<circle cx="203.70" cy="160.96" r="1.75" fill="#fff" stroke="#ff0000" stroke-width="0.8"/>
</g>
<rect x="36.10" y="26.40" width="169.40" height="140.40" fill="none" stroke="#333" stroke-width="1"/>
<line x1="36.10" y1="96.20" x2="205.50" y2="96.20" stroke="#333" stroke-width="1"/>
<line x1="39.63" y1="166.80" x2="39.63" y2="168.10" stroke="#333" stroke-width="0.7"/>
<line x1="39.63" y1="96.20" x2="39.63" y2="97.50" stroke="#333" stroke-width="0.7"/>
<line x1="57.27" y1="166.80" x2="57.27" y2="169.00" stroke="#333" stroke-width="0.7"/>
<line x1="57.27" y1="96.20" x2="57.27" y2="98.40" stroke="#333" stroke-width="0.7"/>
<text x="58.67" y="176.00" font-size="7.6" font-weight="bold" text-anchor="middle" fill="#000">350</text>
<line x1="74.92" y1="166.80" x2="74.92" y2="168.10" stroke="#333" stroke-width="0.7"/>
<line x1="74.92" y1="96.20" x2="74.92" y2="97.50" stroke="#333" stroke-width="0.7"/>
<line x1="92.56" y1="166.80" x2="92.56" y2="169.00" stroke="#333" stroke-width="0.7"/>
<line x1="92.56" y1="96.20" x2="92.56" y2="98.40" stroke="#333" stroke-width="0.7"/>
<text x="93.96" y="176.00" font-size="7.6" font-weight="bold" text-anchor="middle" fill="#000">400</text>
<line x1="110.21" y1="166.80" x2="110.21" y2="168.10" stroke="#333" stroke-width="0.7"/>
<line x1="110.21" y1="96.20" x2="110.21" y2="97.50" stroke="#333" stroke-width="0.7"/>
<line x1="127.85" y1="166.80" x2="127.85" y2="169.00" stroke="#333" stroke-width="0.7"/>
<line x1="127.85" y1="96.20" x2="127.85" y2="98.40" stroke="#333" stroke-width="0.7"/>
<text x="129.25" y="176.00" font-size="7.6" font-weight="bold" text-anchor="middle" fill="#000">450</text>
<line x1="145.50" y1="166.80" x2="145.50" y2="168.10" stroke="#333" stroke-width="0.7"/>
<line x1="145.50" y1="96.20" x2="145.50" y2="97.50" stroke="#333" stroke-width="0.7"/>
<line x1="163.14" y1="166.80" x2="163.14" y2="169.00" stroke="#333" stroke-width="0.7"/>
<line x1="163.14" y1="96.20" x2="163.14" y2="98.40" stroke="#333" stroke-width="0.7"/>
<text x="164.54" y="176.00" font-size="7.6" font-weight="bold" text-anchor="middle" fill="#000">500</text>
<line x1="180.79" y1="166.80" x2="180.79" y2="168.10" stroke="#333" stroke-width="0.7"/>
<line x1="180.79" y1="96.20" x2="180.79" y2="97.50" stroke="#333" stroke-width="0.7"/>
<line x1="198.43" y1="166.80" x2="198.43" y2="169.00" stroke="#333" stroke-width="0.7"/>
<line x1="198.43" y1="96.20" x2="198.43" y2="98.40" stroke="#333" stroke-width="0.7"/>
<text x="199.83" y="176.00" font-size="7.6" font-weight="bold" text-anchor="middle" fill="#000">550</text>
<line x1="34.10" y1="27.30" x2="36.10" y2="27.30" stroke="#333" stroke-width="0.7"/>
<line x1="34.10" y1="38.00" x2="36.10" y2="38.00" stroke="#333" stroke-width="0.7"/>
<line x1="34.10" y1="49.40" x2="36.10" y2="49.40" stroke="#333" stroke-width="0.7"/>
<line x1="34.10" y1="61.30" x2="36.10" y2="61.30" stroke="#333" stroke-width="0.7"/>
<line x1="34.10" y1="73.00" x2="36.10" y2="73.00" stroke="#333" stroke-width="0.7"/>
<line x1="34.10" y1="84.40" x2="36.10" y2="84.40" stroke="#333" stroke-width="0.7"/>
<line x1="34.10" y1="107.70" x2="36.10" y2="107.70" stroke="#333" stroke-width="0.7"/>
<line x1="34.10" y1="119.40" x2="36.10" y2="119.40" stroke="#333" stroke-width="0.7"/>
<line x1="34.10" y1="131.10" x2="36.10" y2="131.10" stroke="#333" stroke-width="0.7"/>
<line x1="34.10" y1="142.80" x2="36.10" y2="142.80" stroke="#333" stroke-width="0.7"/>
<line x1="34.10" y1="154.50" x2="36.10" y2="154.50" stroke="#333" stroke-width="0.7"/>
<text x="125.00" y="186.00" font-size="8.5" font-weight="bold" text-anchor="middle" fill="#000">Wavelength (nm)</text>
<text x="31.20" y="54.70" font-size="8.5" font-weight="bold" text-anchor="middle" fill="#000" transform="rotate(-90 31.20 54.70)">PL Intensity</text>
<text x="31.20" y="126.00" font-size="8.5" font-weight="bold" text-anchor="middle" fill="#000" transform="rotate(-90 31.20 126.00)">PL Intensity</text>
<line x1="127.60" y1="34.50" x2="138.20" y2="34.50" stroke="#0000ff" stroke-width="1.3"/>
<circle cx="132.90" cy="34.50" r="1.75" fill="#fff" stroke="#0000ff" stroke-width="0.8"/>
<text x="141.00" y="36.80" font-size="6.5" font-weight="bold" text-anchor="start" fill="#000"><tspan font-style="italic">meso</tspan>-DWG1-Film</text>
<line x1="127.60" y1="41.20" x2="138.20" y2="41.20" stroke="#0000ff" stroke-width="1.3"/>
<circle cx="132.90" cy="41.20" r="2.1" fill="#0000ff" stroke="none" stroke-width="1"/>
<text x="141.00" y="43.50" font-size="6.5" font-weight="bold" text-anchor="start" fill="#000"><tspan font-style="italic">meso</tspan>-DWG1-Crystal</text>
<line x1="134.00" y1="70.60" x2="144.20" y2="70.60" stroke="#ff0000" stroke-width="1.3"/>
<circle cx="139.10" cy="70.60" r="1.75" fill="#fff" stroke="#ff0000" stroke-width="0.8"/>
<text x="146.60" y="72.90" font-size="6.5" font-weight="bold" text-anchor="start" fill="#000"><tspan font-style="italic">rac</tspan>-DWG1-Film</text>
<line x1="134.00" y1="77.30" x2="144.20" y2="77.30" stroke="#ff0000" stroke-width="1.3"/>
<circle cx="139.10" cy="77.30" r="2.1" fill="#ff0000" stroke="none" stroke-width="1"/>
<text x="146.60" y="79.60" font-size="6.5" font-weight="bold" text-anchor="start" fill="#000"><tspan font-style="italic">rac</tspan>-DWG1-Crystal</text>
<line x1="122.80" y1="105.60" x2="133.00" y2="105.60" stroke="#0000ff" stroke-width="1.3"/>
<circle cx="127.90" cy="105.60" r="1.75" fill="#fff" stroke="#0000ff" stroke-width="0.8"/>
<text x="134.50" y="107.90" font-size="6.5" font-weight="bold" text-anchor="start" fill="#000"><tspan font-style="italic">cis-trans</tspan>-TWG-Film</text>
<line x1="122.80" y1="112.60" x2="133.00" y2="112.60" stroke="#0000ff" stroke-width="1.3"/>
<circle cx="127.90" cy="112.60" r="2.1" fill="#0000ff" stroke="none" stroke-width="1"/>
<text x="134.50" y="114.90" font-size="6.5" font-weight="bold" text-anchor="start" fill="#000"><tspan font-style="italic">cis-trans</tspan>-TWG-Crystal</text>
<line x1="130.40" y1="137.70" x2="140.70" y2="137.70" stroke="#ff0000" stroke-width="1.3"/>
<circle cx="135.55" cy="137.70" r="1.75" fill="#fff" stroke="#ff0000" stroke-width="0.8"/>
<text x="142.40" y="140.00" font-size="6.5" font-weight="bold" text-anchor="start" fill="#000"><tspan font-style="italic">cis-cis</tspan>-TWG-Film</text>
<line x1="130.40" y1="145.00" x2="140.70" y2="145.00" stroke="#ff0000" stroke-width="1.3"/>
<circle cx="135.55" cy="145.00" r="2.1" fill="#ff0000" stroke="none" stroke-width="1"/>
<text x="142.40" y="147.30" font-size="6.5" font-weight="bold" text-anchor="start" fill="#000"><tspan font-style="italic">cis-cis</tspan>-TWG-Crystal</text>
<text x="227.00" y="12.80" font-size="13" font-weight="bold" text-anchor="start" fill="#000">b</text>
<line x1="270.31" y1="131.34" x2="328.71" y2="88.11" stroke="#c8c8c8" stroke-width="0.6" stroke-dasharray="2.4,1.6"/>
<line x1="328.71" y1="88.11" x2="404.39" y2="105.59" stroke="#c8c8c8" stroke-width="0.6" stroke-dasharray="2.4,1.6"/>
<line x1="267.07" y1="112.29" x2="328.24" y2="74.59" stroke="#c8c8c8" stroke-width="0.6" stroke-dasharray="2.4,1.6"/>
<line x1="328.24" y1="74.59" x2="406.36" y2="89.82" stroke="#c8c8c8" stroke-width="0.6" stroke-dasharray="2.4,1.6"/>
<line x1="263.55" y1="91.53" x2="327.74" y2="60.30" stroke="#c8c8c8" stroke-width="0.6" stroke-dasharray="2.4,1.6"/>
<line x1="327.74" y1="60.30" x2="408.47" y2="72.96" stroke="#c8c8c8" stroke-width="0.6" stroke-dasharray="2.4,1.6"/>
<line x1="259.69" y1="68.82" x2="327.22" y2="45.17" stroke="#c8c8c8" stroke-width="0.6" stroke-dasharray="2.4,1.6"/>
<line x1="327.22" y1="45.17" x2="410.73" y2="54.88" stroke="#c8c8c8" stroke-width="0.6" stroke-dasharray="2.4,1.6"/>
<line x1="255.46" y1="43.88" x2="326.66" y2="29.12" stroke="#c8c8c8" stroke-width="0.6" stroke-dasharray="2.4,1.6"/>
<line x1="326.66" y1="29.12" x2="413.16" y2="35.45" stroke="#c8c8c8" stroke-width="0.6" stroke-dasharray="2.4,1.6"/>
<line x1="250.79" y1="16.35" x2="326.07" y2="12.07" stroke="#c8c8c8" stroke-width="0.6" stroke-dasharray="2.4,1.6"/>
<line x1="326.07" y1="12.07" x2="415.77" y2="14.52" stroke="#c8c8c8" stroke-width="0.6" stroke-dasharray="2.4,1.6"/>
<line x1="270.31" y1="131.34" x2="250.79" y2="16.35" stroke="#c8c8c8" stroke-width="0.6" stroke-dasharray="2.4,1.6"/>
<line x1="283.95" y1="121.24" x2="269.55" y2="15.28" stroke="#c8c8c8" stroke-width="0.6" stroke-dasharray="2.4,1.6"/>
<line x1="305.57" y1="105.24" x2="297.76" y2="13.68" stroke="#c8c8c8" stroke-width="0.6" stroke-dasharray="2.4,1.6"/>
<line x1="321.94" y1="93.12" x2="317.97" y2="12.53" stroke="#c8c8c8" stroke-width="0.6" stroke-dasharray="2.4,1.6"/>
<line x1="328.71" y1="88.11" x2="326.07" y2="12.07" stroke="#c8c8c8" stroke-width="0.6" stroke-dasharray="2.4,1.6"/>
<line x1="328.71" y1="88.11" x2="326.07" y2="12.07" stroke="#c8c8c8" stroke-width="0.6" stroke-dasharray="2.4,1.6"/>
<line x1="334.03" y1="89.34" x2="332.18" y2="12.24" stroke="#c8c8c8" stroke-width="0.6" stroke-dasharray="2.4,1.6"/>
<line x1="345.13" y1="91.90" x2="345.04" y2="12.59" stroke="#c8c8c8" stroke-width="0.6" stroke-dasharray="2.4,1.6"/>
<line x1="356.91" y1="94.62" x2="358.81" y2="12.97" stroke="#c8c8c8" stroke-width="0.6" stroke-dasharray="2.4,1.6"/>
<line x1="369.42" y1="97.51" x2="373.59" y2="13.37" stroke="#c8c8c8" stroke-width="0.6" stroke-dasharray="2.4,1.6"/>
<line x1="382.73" y1="100.59" x2="389.50" y2="13.80" stroke="#c8c8c8" stroke-width="0.6" stroke-dasharray="2.4,1.6"/>
<line x1="396.93" y1="103.87" x2="406.67" y2="14.27" stroke="#c8c8c8" stroke-width="0.6" stroke-dasharray="2.4,1.6"/>
<line x1="404.39" y1="105.59" x2="415.77" y2="14.52" stroke="#c8c8c8" stroke-width="0.6" stroke-dasharray="2.4,1.6"/>
<line x1="277.19" y1="134.17" x2="334.03" y2="89.34" stroke="#e4e4e4" stroke-width="0.6"/>
<line x1="291.91" y1="140.23" x2="345.13" y2="91.90" stroke="#e4e4e4" stroke-width="0.6"/>
<line x1="308.04" y1="146.86" x2="356.91" y2="94.62" stroke="#e4e4e4" stroke-width="0.6"/>
<line x1="325.79" y1="154.17" x2="369.42" y2="97.51" stroke="#e4e4e4" stroke-width="0.6"/>
<line x1="345.43" y1="162.25" x2="382.73" y2="100.59" stroke="#e4e4e4" stroke-width="0.6"/>
<line x1="367.27" y1="171.23" x2="396.93" y2="103.87" stroke="#e4e4e4" stroke-width="0.6"/>
<line x1="283.95" y1="121.24" x2="385.56" y2="158.18" stroke="#e4e4e4" stroke-width="0.6"/>
<line x1="305.57" y1="105.24" x2="395.06" y2="131.66" stroke="#e4e4e4" stroke-width="0.6"/>
<line x1="321.94" y1="93.12" x2="401.74" y2="112.99" stroke="#e4e4e4" stroke-width="0.6"/>
<linearGradient id="bf1" gradientUnits="userSpaceOnUse" x1="0" y1="68.83" x2="0" y2="96.91"><stop offset="0" stop-color="#ff1616"/><stop offset="0.45" stop-color="#ffb0b0"/><stop offset="0.78" stop-color="#fff8f8"/><stop offset="1" stop-color="#ffffff"/></linearGradient>
<linearGradient id="bs1" gradientUnits="userSpaceOnUse" x1="0" y1="67.44" x2="0" y2="93.57"><stop offset="0" stop-color="#a01010"/><stop offset="0.4" stop-color="#a05050"/><stop offset="0.75" stop-color="#aca4a4"/><stop offset="1" stop-color="#c8c8c8"/></linearGradient>
<polygon points="327.23,69.92 331.59,67.44 332.31,93.57 328.21,96.91" fill="url(#bs1)" stroke="#ffffff" stroke-width="0.3"/>
<polygon points="321.26,68.83 327.23,69.92 328.21,96.91 322.54,95.46" fill="url(#bf1)" stroke="#ffffff" stroke-width="0.3"/>
<polygon points="321.26,68.83 327.23,69.92 331.59,67.44 325.78,66.43" fill="#ff3030" stroke="#ffffff" stroke-width="0.3" stroke-opacity="0.6"/>
<text x="327.02" y="65.43" font-size="6.0" text-anchor="middle" fill="#000">36</text>
<linearGradient id="bf2" gradientUnits="userSpaceOnUse" x1="0" y1="78.67" x2="0" y2="99.96"><stop offset="0" stop-color="#ff1616"/><stop offset="0.45" stop-color="#ffb0b0"/><stop offset="0.78" stop-color="#fff8f8"/><stop offset="1" stop-color="#ffffff"/></linearGradient>
<linearGradient id="bs2" gradientUnits="userSpaceOnUse" x1="0" y1="77.02" x2="0" y2="96.39"><stop offset="0" stop-color="#a01010"/><stop offset="0.4" stop-color="#a05050"/><stop offset="0.75" stop-color="#aca4a4"/><stop offset="1" stop-color="#c8c8c8"/></linearGradient>
<polygon points="339.93,79.94 343.86,77.02 343.94,96.39 340.16,99.96" fill="url(#bs2)" stroke="#ffffff" stroke-width="0.3"/>
<polygon points="333.64,78.67 339.93,79.94 340.16,99.96 334.12,98.42" fill="url(#bf2)" stroke="#ffffff" stroke-width="0.3"/>
<polygon points="333.64,78.67 339.93,79.94 343.86,77.02 337.76,75.84" fill="#ff3030" stroke="#ffffff" stroke-width="0.3" stroke-opacity="0.6"/>
<text x="339.35" y="74.84" font-size="6.0" text-anchor="middle" fill="#000">26</text>
<linearGradient id="bf3" gradientUnits="userSpaceOnUse" x1="0" y1="30.49" x2="0" y2="103.20"><stop offset="0" stop-color="#ff1616"/><stop offset="0.45" stop-color="#ffb0b0"/><stop offset="0.78" stop-color="#fff8f8"/><stop offset="1" stop-color="#ffffff"/></linearGradient>
<linearGradient id="bs3" gradientUnits="userSpaceOnUse" x1="0" y1="29.90" x2="0" y2="99.40"><stop offset="0" stop-color="#a01010"/><stop offset="0.4" stop-color="#a05050"/><stop offset="0.75" stop-color="#aca4a4"/><stop offset="1" stop-color="#c8c8c8"/></linearGradient>
<polygon points="354.00,31.04 357.85,29.90 356.30,99.40 352.90,103.20" fill="url(#bs3)" stroke="#ffffff" stroke-width="0.3"/>
<polygon points="346.58,30.49 354.00,31.04 352.90,103.20 346.46,101.56" fill="url(#bf3)" stroke="#ffffff" stroke-width="0.3"/>
<polygon points="346.58,30.49 354.00,31.04 357.85,29.90 350.68,29.40" fill="#ff3030" stroke="#ffffff" stroke-width="0.3" stroke-opacity="0.6"/>
<text x="352.81" y="28.40" font-size="6.0" text-anchor="middle" fill="#000">83</text>
<linearGradient id="bf4" gradientUnits="userSpaceOnUse" x1="0" y1="45.74" x2="0" y2="106.67"><stop offset="0" stop-color="#ff1616"/><stop offset="0.45" stop-color="#ffb0b0"/><stop offset="0.78" stop-color="#fff8f8"/><stop offset="1" stop-color="#ffffff"/></linearGradient>
<linearGradient id="bs4" gradientUnits="userSpaceOnUse" x1="0" y1="44.73" x2="0" y2="102.61"><stop offset="0" stop-color="#a01010"/><stop offset="0.4" stop-color="#a05050"/><stop offset="0.75" stop-color="#aca4a4"/><stop offset="1" stop-color="#c8c8c8"/></linearGradient>
<polygon points="369.18,46.58 372.39,44.73 369.48,102.61 366.51,106.67" fill="url(#bs4)" stroke="#ffffff" stroke-width="0.3"/>
<polygon points="361.38,45.74 369.18,46.58 366.51,106.67 359.63,104.92" fill="url(#bf4)" stroke="#ffffff" stroke-width="0.3"/>
<polygon points="361.38,45.74 369.18,46.58 372.39,44.73 364.88,43.96" fill="#ff3030" stroke="#ffffff" stroke-width="0.3" stroke-opacity="0.6"/>
<text x="367.49" y="42.96" font-size="6.0" text-anchor="middle" fill="#000">69</text>
<linearGradient id="bf5" gradientUnits="userSpaceOnUse" x1="0" y1="27.56" x2="0" y2="110.39"><stop offset="0" stop-color="#ff1616"/><stop offset="0.45" stop-color="#ffb0b0"/><stop offset="0.78" stop-color="#fff8f8"/><stop offset="1" stop-color="#ffffff"/></linearGradient>
<linearGradient id="bs5" gradientUnits="userSpaceOnUse" x1="0" y1="27.00" x2="0" y2="106.03"><stop offset="0" stop-color="#a01010"/><stop offset="0.4" stop-color="#a05050"/><stop offset="0.75" stop-color="#aca4a4"/><stop offset="1" stop-color="#c8c8c8"/></linearGradient>
<polygon points="387.36,28.09 389.93,27.00 383.55,106.03 381.09,110.39" fill="url(#bs5)" stroke="#ffffff" stroke-width="0.3"/>
<polygon points="378.58,27.56 387.36,28.09 381.09,110.39 373.72,108.51" fill="url(#bf5)" stroke="#ffffff" stroke-width="0.3"/>
<polygon points="378.58,27.56 387.36,28.09 389.93,27.00 381.51,26.51" fill="#ff3030" stroke="#ffffff" stroke-width="0.3" stroke-opacity="0.6"/>
<text x="384.85" y="25.51" font-size="6.0" text-anchor="middle" fill="#000">88</text>
<linearGradient id="bf6" gradientUnits="userSpaceOnUse" x1="0" y1="30.88" x2="0" y2="114.38"><stop offset="0" stop-color="#ff1616"/><stop offset="0.45" stop-color="#ffb0b0"/><stop offset="0.78" stop-color="#fff8f8"/><stop offset="1" stop-color="#ffffff"/></linearGradient>
<linearGradient id="bs6" gradientUnits="userSpaceOnUse" x1="0" y1="30.20" x2="0" y2="109.70"><stop offset="0" stop-color="#a01010"/><stop offset="0.4" stop-color="#a05050"/><stop offset="0.75" stop-color="#aca4a4"/><stop offset="1" stop-color="#c8c8c8"/></linearGradient>
<polygon points="405.93,31.51 407.66,30.20 398.62,109.70 396.75,114.38" fill="url(#bs6)" stroke="#ffffff" stroke-width="0.3"/>
<polygon points="396.41,30.88 405.93,31.51 396.75,114.38 388.82,112.36" fill="url(#bf6)" stroke="#ffffff" stroke-width="0.3"/>
<polygon points="396.41,30.88 405.93,31.51 407.66,30.20 398.58,29.63" fill="#ff3030" stroke="#ffffff" stroke-width="0.3" stroke-opacity="0.6"/>
<text x="402.63" y="28.63" font-size="6.0" text-anchor="middle" fill="#000">86</text>
<linearGradient id="bf7" gradientUnits="userSpaceOnUse" x1="0" y1="94.77" x2="0" y2="110.16"><stop offset="0" stop-color="#2020e0"/><stop offset="0.45" stop-color="#9a9aff"/><stop offset="0.78" stop-color="#ffffff"/><stop offset="1" stop-color="#ffffff"/></linearGradient>
<linearGradient id="bs7" gradientUnits="userSpaceOnUse" x1="0" y1="92.56" x2="0" y2="105.80"><stop offset="0" stop-color="#2a2aa8"/><stop offset="0.4" stop-color="#5050a8"/><stop offset="0.75" stop-color="#acacb8"/><stop offset="1" stop-color="#c8c8c8"/></linearGradient>
<polygon points="310.97,96.46 316.51,92.56 317.31,105.80 311.96,110.16" fill="url(#bs7)" stroke="#ffffff" stroke-width="0.3"/>
<polygon points="304.61,94.77 310.97,96.46 311.96,110.16 305.77,108.28" fill="url(#bf7)" stroke="#ffffff" stroke-width="0.3"/>
<polygon points="304.61,94.77 310.97,96.46 316.51,92.56 310.33,91.01" fill="#2828e8" stroke="#ffffff" stroke-width="0.3" stroke-opacity="0.6"/>
<text x="311.16" y="92.61" font-size="6.3" font-weight="bold" text-anchor="middle" fill="#000">17</text>
<linearGradient id="bf8" gradientUnits="userSpaceOnUse" x1="0" y1="90.94" x2="0" y2="114.15"><stop offset="0" stop-color="#2020e0"/><stop offset="0.45" stop-color="#9a9aff"/><stop offset="0.78" stop-color="#ffffff"/><stop offset="1" stop-color="#ffffff"/></linearGradient>
<linearGradient id="bs8" gradientUnits="userSpaceOnUse" x1="0" y1="88.72" x2="0" y2="109.46"><stop offset="0" stop-color="#2a2aa8"/><stop offset="0.4" stop-color="#5050a8"/><stop offset="0.75" stop-color="#acacb8"/><stop offset="1" stop-color="#c8c8c8"/></linearGradient>
<polygon points="324.15,92.65 329.38,88.72 330.08,109.46 325.11,114.15" fill="url(#bs8)" stroke="#ffffff" stroke-width="0.3"/>
<polygon points="317.21,90.94 324.15,92.65 325.11,114.15 318.45,112.13" fill="url(#bf8)" stroke="#ffffff" stroke-width="0.3"/>
<polygon points="317.21,90.94 324.15,92.65 329.38,88.72 322.65,87.16" fill="#2828e8" stroke="#ffffff" stroke-width="0.3" stroke-opacity="0.6"/>
<text x="323.90" y="88.76" font-size="6.3" font-weight="bold" text-anchor="middle" fill="#000">25</text>
<linearGradient id="bf9" gradientUnits="userSpaceOnUse" x1="0" y1="108.87" x2="0" y2="118.45"><stop offset="0" stop-color="#2020e0"/><stop offset="0.45" stop-color="#9a9aff"/><stop offset="0.78" stop-color="#ffffff"/><stop offset="1" stop-color="#ffffff"/></linearGradient>
<linearGradient id="bs9" gradientUnits="userSpaceOnUse" x1="0" y1="106.15" x2="0" y2="113.40"><stop offset="0" stop-color="#2a2aa8"/><stop offset="0.4" stop-color="#5050a8"/><stop offset="0.75" stop-color="#acacb8"/><stop offset="1" stop-color="#c8c8c8"/></linearGradient>
<polygon points="339.16,110.94 343.75,106.15 343.78,113.40 339.26,118.45" fill="url(#bs9)" stroke="#ffffff" stroke-width="0.3"/>
<polygon points="331.87,108.87 339.16,110.94 339.26,118.45 332.09,116.27" fill="url(#bf9)" stroke="#ffffff" stroke-width="0.3"/>
<polygon points="331.87,108.87 339.16,110.94 343.75,106.15 336.71,104.26" fill="#2828e8" stroke="#ffffff" stroke-width="0.3" stroke-opacity="0.6"/>
<text x="338.41" y="105.86" font-size="6.3" font-weight="bold" text-anchor="middle" fill="#000">9</text>
<linearGradient id="bf10" gradientUnits="userSpaceOnUse" x1="0" y1="102.67" x2="0" y2="123.09"><stop offset="0" stop-color="#2020e0"/><stop offset="0.45" stop-color="#9a9aff"/><stop offset="0.78" stop-color="#ffffff"/><stop offset="1" stop-color="#ffffff"/></linearGradient>
<linearGradient id="bs10" gradientUnits="userSpaceOnUse" x1="0" y1="99.96" x2="0" y2="117.63"><stop offset="0" stop-color="#2a2aa8"/><stop offset="0.4" stop-color="#5050a8"/><stop offset="0.75" stop-color="#acacb8"/><stop offset="1" stop-color="#c8c8c8"/></linearGradient>
<polygon points="354.90,104.75 359.02,99.96 358.52,117.63 354.54,123.09" fill="url(#bs10)" stroke="#ffffff" stroke-width="0.3"/>
<polygon points="346.84,102.67 354.90,104.75 354.54,123.09 346.80,120.74" fill="url(#bf10)" stroke="#ffffff" stroke-width="0.3"/>
<polygon points="346.84,102.67 354.90,104.75 359.02,99.96 351.26,98.07" fill="#2828e8" stroke="#ffffff" stroke-width="0.3" stroke-opacity="0.6"/>
<text x="353.53" y="99.67" font-size="6.3" font-weight="bold" text-anchor="middle" fill="#000">21</text>
<linearGradient id="bf11" gradientUnits="userSpaceOnUse" x1="0" y1="109.63" x2="0" y2="128.12"><stop offset="0" stop-color="#2020e0"/><stop offset="0.45" stop-color="#9a9aff"/><stop offset="0.78" stop-color="#ffffff"/><stop offset="1" stop-color="#ffffff"/></linearGradient>
<linearGradient id="bs11" gradientUnits="userSpaceOnUse" x1="0" y1="106.62" x2="0" y2="122.20"><stop offset="0" stop-color="#2a2aa8"/><stop offset="0.4" stop-color="#5050a8"/><stop offset="0.75" stop-color="#acacb8"/><stop offset="1" stop-color="#c8c8c8"/></linearGradient>
<polygon points="372.01,111.93 375.42,106.62 374.43,122.20 371.10,128.12" fill="url(#bs11)" stroke="#ffffff" stroke-width="0.3"/>
<polygon points="363.30,109.63 372.01,111.93 371.10,128.12 362.70,125.57" fill="url(#bf11)" stroke="#ffffff" stroke-width="0.3"/>
<polygon points="363.30,109.63 372.01,111.93 375.42,106.62 367.06,104.53" fill="#2828e8" stroke="#ffffff" stroke-width="0.3" stroke-opacity="0.6"/>
<text x="369.96" y="106.13" font-size="6.3" font-weight="bold" text-anchor="middle" fill="#000">17</text>
<linearGradient id="bf12" gradientUnits="userSpaceOnUse" x1="0" y1="123.39" x2="0" y2="133.59"><stop offset="0" stop-color="#2020e0"/><stop offset="0.45" stop-color="#9a9aff"/><stop offset="0.78" stop-color="#ffffff"/><stop offset="1" stop-color="#ffffff"/></linearGradient>
<linearGradient id="bs12" gradientUnits="userSpaceOnUse" x1="0" y1="119.90" x2="0" y2="127.15"><stop offset="0" stop-color="#2a2aa8"/><stop offset="0.4" stop-color="#5050a8"/><stop offset="0.75" stop-color="#acacb8"/><stop offset="1" stop-color="#c8c8c8"/></linearGradient>
<polygon points="389.82,126.05 392.39,119.90 391.65,127.15 389.08,133.59" fill="url(#bs12)" stroke="#ffffff" stroke-width="0.3"/>
<polygon points="380.52,123.39 389.82,126.05 389.08,133.59 379.95,130.81" fill="url(#bf12)" stroke="#ffffff" stroke-width="0.3"/>
<polygon points="380.52,123.39 389.82,126.05 392.39,119.90 383.50,117.50" fill="#2828e8" stroke="#ffffff" stroke-width="0.3" stroke-opacity="0.6"/>
<text x="387.06" y="119.10" font-size="6.3" font-weight="bold" text-anchor="middle" fill="#000">8</text>
<linearGradient id="bf13" gradientUnits="userSpaceOnUse" x1="0" y1="114.53" x2="0" y2="127.91"><stop offset="0" stop-color="#7400dc"/><stop offset="0.45" stop-color="#ff80ff"/><stop offset="0.78" stop-color="#fff4ff"/><stop offset="1" stop-color="#ffffff"/></linearGradient>
<linearGradient id="bs13" gradientUnits="userSpaceOnUse" x1="0" y1="111.40" x2="0" y2="121.98"><stop offset="0" stop-color="#6010a0"/><stop offset="0.4" stop-color="#7a40a0"/><stop offset="0.75" stop-color="#b0a8b0"/><stop offset="1" stop-color="#c8c8c8"/></linearGradient>
<polygon points="288.84,116.92 296.34,111.40 297.47,121.98 290.20,127.91" fill="url(#bs13)" stroke="#ffffff" stroke-width="0.3"/>
<polygon points="281.92,114.53 288.84,116.92 290.20,127.91 283.42,125.35" fill="url(#bf13)" stroke="#ffffff" stroke-width="0.3"/>
<polygon points="281.92,114.53 288.84,116.92 296.34,111.40 289.61,109.24" fill="#7a06e0" stroke="#ffffff" stroke-width="0.3" stroke-opacity="0.6"/>
<text x="289.73" y="112.04" font-size="7.2" font-weight="bold" text-anchor="middle" fill="#000">13</text>
<linearGradient id="bf14" gradientUnits="userSpaceOnUse" x1="0" y1="124.47" x2="0" y2="133.38"><stop offset="0" stop-color="#7400dc"/><stop offset="0.45" stop-color="#ff80ff"/><stop offset="0.78" stop-color="#fff4ff"/><stop offset="1" stop-color="#ffffff"/></linearGradient>
<linearGradient id="bs14" gradientUnits="userSpaceOnUse" x1="0" y1="120.94" x2="0" y2="126.93"><stop offset="0" stop-color="#6010a0"/><stop offset="0.4" stop-color="#7a40a0"/><stop offset="0.75" stop-color="#b0a8b0"/><stop offset="1" stop-color="#c8c8c8"/></linearGradient>
<polygon points="304.15,127.15 311.11,120.94 311.56,126.93 304.73,133.38" fill="url(#bs14)" stroke="#ffffff" stroke-width="0.3"/>
<polygon points="296.68,124.47 304.15,127.15 304.73,133.38 297.35,130.60" fill="url(#bf14)" stroke="#ffffff" stroke-width="0.3"/>
<polygon points="296.68,124.47 304.15,127.15 311.11,120.94 303.87,118.51" fill="#7a06e0" stroke="#ffffff" stroke-width="0.3" stroke-opacity="0.6"/>
<text x="304.50" y="121.31" font-size="7.2" font-weight="bold" text-anchor="middle" fill="#000">8</text>
<linearGradient id="bf15" gradientUnits="userSpaceOnUse" x1="0" y1="117.21" x2="0" y2="145.88"><stop offset="0" stop-color="#7400dc"/><stop offset="0.45" stop-color="#ff80ff"/><stop offset="0.78" stop-color="#fff4ff"/><stop offset="1" stop-color="#ffffff"/></linearGradient>
<linearGradient id="bs15" gradientUnits="userSpaceOnUse" x1="0" y1="113.45" x2="0" y2="138.17"><stop offset="0" stop-color="#6010a0"/><stop offset="0.4" stop-color="#7a40a0"/><stop offset="0.75" stop-color="#b0a8b0"/><stop offset="1" stop-color="#c8c8c8"/></linearGradient>
<polygon points="337.47,120.10 343.44,113.45 343.56,138.17 337.93,145.88" fill="url(#bs15)" stroke="#ffffff" stroke-width="0.3"/>
<polygon points="328.13,117.21 337.47,120.10 337.93,145.88 329.10,142.56" fill="url(#bf15)" stroke="#ffffff" stroke-width="0.3"/>
<polygon points="328.13,117.21 337.47,120.10 343.44,113.45 334.49,110.87" fill="#7a06e0" stroke="#ffffff" stroke-width="0.3" stroke-opacity="0.6"/>
<text x="336.38" y="113.67" font-size="7.2" font-weight="bold" text-anchor="middle" fill="#000">28</text>
<linearGradient id="bf16" gradientUnits="userSpaceOnUse" x1="0" y1="120.74" x2="0" y2="153.07"><stop offset="0" stop-color="#7400dc"/><stop offset="0.45" stop-color="#ff80ff"/><stop offset="0.78" stop-color="#fff4ff"/><stop offset="1" stop-color="#ffffff"/></linearGradient>
<linearGradient id="bs16" gradientUnits="userSpaceOnUse" x1="0" y1="116.64" x2="0" y2="144.58"><stop offset="0" stop-color="#6010a0"/><stop offset="0.4" stop-color="#7a40a0"/><stop offset="0.75" stop-color="#b0a8b0"/><stop offset="1" stop-color="#c8c8c8"/></linearGradient>
<polygon points="357.81,123.90 362.86,116.64 361.81,144.58 357.02,153.07" fill="url(#bs16)" stroke="#ffffff" stroke-width="0.3"/>
<polygon points="347.41,120.74 357.81,123.90 357.02,153.07 347.30,149.41" fill="url(#bf16)" stroke="#ffffff" stroke-width="0.3"/>
<polygon points="347.41,120.74 357.81,123.90 362.86,116.64 352.96,113.85" fill="#7a06e0" stroke="#ffffff" stroke-width="0.3" stroke-opacity="0.6"/>
<text x="355.73" y="116.65" font-size="7.2" font-weight="bold" text-anchor="middle" fill="#000">28</text>
<line x1="270.31" y1="131.34" x2="379.14" y2="176.11" stroke="#000" stroke-width="1.1"/>
<line x1="379.14" y1="176.11" x2="404.39" y2="105.59" stroke="#000" stroke-width="1.1"/>
<line x1="277.19" y1="134.17" x2="273.63" y2="136.99" stroke="#000" stroke-width="0.8"/>
<line x1="291.91" y1="140.23" x2="288.51" y2="143.31" stroke="#000" stroke-width="0.8"/>
<line x1="308.04" y1="146.86" x2="304.86" y2="150.26" stroke="#000" stroke-width="0.8"/>
<line x1="325.79" y1="154.17" x2="322.90" y2="157.92" stroke="#000" stroke-width="0.8"/>
<line x1="345.43" y1="162.25" x2="342.90" y2="166.42" stroke="#000" stroke-width="0.8"/>
<line x1="367.27" y1="171.23" x2="365.22" y2="175.90" stroke="#000" stroke-width="0.8"/>
<line x1="385.56" y1="158.18" x2="388.91" y2="159.40" stroke="#000" stroke-width="0.8"/>
<line x1="395.06" y1="131.66" x2="397.88" y2="132.49" stroke="#000" stroke-width="0.8"/>
<line x1="401.74" y1="112.99" x2="404.18" y2="113.60" stroke="#000" stroke-width="0.8"/>
<text x="287.50" y="144.40" font-size="7.4" font-weight="bold" text-anchor="end" fill="#000"><tspan font-style="italic">cis-trans</tspan>-TWG1</text>
<text x="302.30" y="151.90" font-size="7.4" font-weight="bold" text-anchor="end" fill="#000"><tspan font-style="italic">cis-cis</tspan>-TWG1</text>
<text x="304.40" y="157.60" font-size="7.4" font-weight="bold" text-anchor="middle" fill="#000">4a</text>
<text x="341.00" y="165.40" font-size="7.4" font-weight="bold" text-anchor="end" fill="#000"><tspan font-style="italic">meso</tspan>-DWG1</text>
<text x="356.50" y="175.30" font-size="7.4" font-weight="bold" text-anchor="end" fill="#000"><tspan font-style="italic">rac</tspan>-DWG1</text>
<text x="364.00" y="182.00" font-size="7.4" font-weight="bold" text-anchor="middle" fill="#000">3h</text>
<text x="389.90" y="162.30" font-size="7.4" font-weight="bold" text-anchor="start" fill="#000">Crystal</text>
<text x="399.80" y="136.20" font-size="7.4" font-weight="bold" text-anchor="start" fill="#000">Film</text>
<text x="407.50" y="111.70" font-size="7.4" font-weight="bold" text-anchor="start" fill="#000">Solution</text>
<text x="407.50" y="121.90" font-size="7.4" font-weight="bold" text-anchor="start" fill="#000">(10<tspan font-size="4.6" dy="-2.8">-5</tspan><tspan dy="2.8"> M)</tspan></text>
<text x="448.60" y="11.70" font-size="13" font-weight="bold" text-anchor="start" fill="#000">c</text>
<rect x="487.30" y="16.80" width="188.20" height="63.60" fill="url(#bgC)" stroke="none" stroke-width="1"/>
<g clip-path="url(#clipC1)">
<path d="M487.30,74.40 L487.80,74.40 L488.30,74.40 L488.80,74.40 L489.30,74.40 L489.80,74.40 L490.30,74.40 L490.80,74.40 L491.30,74.40 L491.80,74.40 L492.30,74.40 L492.80,74.40 L493.30,74.40 L493.80,74.40 L494.30,74.40 L494.80,74.40 L495.30,74.40 L495.80,74.40 L496.30,74.40 L496.80,74.40 L497.30,74.40 L497.80,74.40 L498.30,74.40 L498.80,74.40 L499.30,74.40 L499.80,74.40 L500.30,74.40 L500.80,74.40 L501.30,74.40 L501.80,74.40 L502.30,74.40 L502.80,74.40 L503.30,74.40 L503.80,74.40 L504.30,74.40 L504.80,74.40 L505.30,74.40 L505.80,74.40 L506.30,74.40 L506.80,74.40 L507.30,74.40 L507.80,74.40 L508.30,74.40 L508.80,74.40 L509.30,74.40 L509.80,74.40 L510.30,74.40 L510.80,74.40 L511.30,74.40 L511.80,74.40 L512.30,74.40 L512.80,74.40 L513.30,74.40 L513.80,74.40 L514.30,74.40 L514.80,74.40 L515.30,74.40 L515.80,74.40 L516.30,74.40 L516.80,74.40 L517.30,74.40 L517.80,74.40 L518.30,74.40 L518.80,74.40 L519.30,74.40 L519.80,74.40 L520.30,74.40 L520.80,74.40 L521.30,74.40 L521.80,74.40 L522.30,74.40 L522.80,74.40 L523.30,74.40 L523.80,74.40 L524.30,74.40 L524.80,74.40 L525.30,74.40 L525.80,74.40 L526.30,74.40 L526.80,74.40 L527.30,74.40 L527.80,74.40 L528.30,74.40 L528.80,74.40 L529.30,74.40 L529.80,74.40 L530.30,74.40 L530.80,74.40 L531.30,74.40 L531.80,74.40 L532.30,74.40 L532.80,74.40 L533.30,74.40 L533.80,74.40 L534.30,74.40 L534.80,74.40 L535.30,74.40 L535.80,74.40 L536.30,74.40 L536.80,74.40 L537.30,74.40 L537.80,74.40 L538.30,74.40 L538.80,74.40 L539.30,74.40 L539.80,74.40 L540.30,74.40 L540.80,74.40 L541.30,74.40 L541.80,74.40 L542.30,74.40 L542.80,74.40 L543.30,74.40 L543.80,74.40 L544.30,74.40 L544.80,74.40 L545.30,74.40 L545.80,74.40 L546.30,74.40 L546.80,74.40 L547.30,74.40 L547.80,74.40 L548.30,74.40 L548.80,74.40 L549.30,74.40 L549.80,74.40 L550.30,74.40 L550.80,74.40 L551.30,74.40 L551.80,74.40 L552.30,74.40 L552.80,74.40 L553.30,74.40 L553.80,74.40 L554.30,74.40 L554.80,74.40 L555.30,74.40 L555.80,74.40 L556.30,74.40 L556.80,74.40 L557.30,74.40 L557.80,74.40 L558.30,74.40 L558.80,74.40 L559.30,74.40 L559.80,74.40 L560.30,74.40 L560.80,74.40 L561.30,74.40 L561.80,74.40 L562.30,74.40 L562.80,74.40 L563.30,74.40 L563.80,74.40 L564.30,74.40 L564.80,74.40 L565.30,74.40 L565.80,74.40 L566.30,74.40 L566.80,74.40 L567.30,74.40 L567.80,74.40 L568.30,74.40 L568.80,74.40 L569.30,74.40 L569.80,74.40 L570.30,74.40 L570.80,74.40 L571.30,74.40 L571.80,74.40 L572.30,74.40 L572.80,74.40 L573.30,74.40 L573.80,74.40 L574.30,74.40 L574.80,74.39 L575.30,74.38 L575.80,74.36 L576.30,74.32 L576.80,74.24 L577.30,74.11 L577.80,73.88 L578.30,73.51 L578.80,72.92 L579.30,72.01 L579.80,70.68 L580.30,68.81 L580.80,66.28 L581.30,62.99 L581.80,58.92 L582.30,54.11 L582.80,48.69 L583.30,42.92 L583.80,37.16 L584.30,31.83 L584.80,27.38 L585.30,24.22 L585.80,22.64 L586.30,22.82 L586.80,24.73 L587.30,28.18 L587.80,32.84 L588.30,38.29 L588.80,44.09 L589.30,49.81 L589.80,55.12 L590.30,59.80 L590.80,63.71 L591.30,66.84 L591.80,69.23 L592.30,70.99 L592.80,72.22 L593.30,73.06 L593.80,73.60 L594.30,73.94 L594.80,74.14 L595.30,74.26 L595.80,74.33 L596.30,74.36 L596.80,74.38 L597.30,74.39 L597.80,74.40 L598.30,74.40 L598.80,74.40 L599.30,74.40 L599.80,74.40 L600.30,74.40 L600.80,74.40 L601.30,74.40 L601.80,74.40 L602.30,74.40 L602.80,74.40 L603.30,74.40 L603.80,74.40 L604.30,74.40 L604.80,74.40 L605.30,74.40 L605.80,74.40 L606.30,74.40 L606.80,74.40 L607.30,74.40 L607.80,74.40 L608.30,74.40 L608.80,74.40 L609.30,74.40 L609.80,74.40 L610.30,74.40 L610.80,74.40 L611.30,74.40 L611.80,74.40 L612.30,74.40 L612.80,74.40 L613.30,74.40 L613.80,74.40 L614.30,74.40 L614.80,74.40 L615.30,74.40 L615.80,74.40 L616.30,74.40 L616.80,74.40 L617.30,74.40 L617.80,74.40 L618.30,74.40 L618.80,74.40 L619.30,74.40 L619.80,74.40 L620.30,74.40 L620.80,74.40 L621.30,74.40 L621.80,74.40 L622.30,74.40 L622.80,74.40 L623.30,74.40 L623.80,74.40 L624.30,74.40 L624.80,74.40 L625.30,74.40 L625.80,74.40 L626.30,74.40 L626.80,74.40 L627.30,74.40 L627.80,74.40 L628.30,74.40 L628.80,74.40 L629.30,74.40 L629.80,74.40 L630.30,74.40 L630.80,74.40 L631.30,74.40 L631.80,74.40 L632.30,74.40 L632.80,74.40 L633.30,74.40 L633.80,74.40 L634.30,74.40 L634.80,74.40 L635.30,74.40 L635.80,74.40 L636.30,74.40 L636.80,74.40 L637.30,74.40 L637.80,74.40 L638.30,74.40 L638.80,74.40 L639.30,74.40 L639.80,74.40 L640.30,74.40 L640.80,74.40 L641.30,74.40 L641.80,74.40 L642.30,74.40 L642.80,74.40 L643.30,74.40 L643.80,74.40 L644.30,74.40 L644.80,74.40 L645.30,74.40 L645.80,74.40 L646.30,74.40 L646.80,74.40 L647.30,74.40 L647.80,74.40 L648.30,74.40 L648.80,74.40 L649.30,74.40 L649.80,74.40 L650.30,74.40 L650.80,74.40 L651.30,74.40 L651.80,74.40 L652.30,74.40 L652.80,74.40 L653.30,74.40 L653.80,74.40 L654.30,74.40 L654.80,74.40 L655.30,74.40 L655.80,74.40 L656.30,74.40 L656.80,74.40 L657.30,74.40 L657.80,74.40 L658.30,74.40 L658.80,74.40 L659.30,74.40 L659.80,74.40 L660.30,74.40 L660.80,74.40 L661.30,74.40 L661.80,74.40 L662.30,74.40 L662.80,74.40 L663.30,74.40 L663.80,74.40 L664.30,74.40 L664.80,74.40 L665.30,74.40 L665.80,74.40 L666.30,74.40 L666.80,74.40 L667.30,74.40 L667.80,74.40 L668.30,74.40 L668.80,74.40 L669.30,74.40 L669.80,74.40 L670.30,74.40 L670.80,74.40 L671.30,74.40 L671.80,74.40 L672.30,74.40 L672.80,74.40 L673.30,74.40 L673.80,74.40 L674.30,74.40 L674.80,74.40 L675.30,74.40" fill="none" stroke="#ff3a3a" stroke-width="1.2"/>
<path d="M487.30,74.40 L487.80,74.40 L488.30,74.40 L488.80,74.40 L489.30,74.40 L489.80,74.40 L490.30,74.40 L490.80,74.40 L491.30,74.40 L491.80,74.40 L492.30,74.40 L492.80,74.40 L493.30,74.40 L493.80,74.40 L494.30,74.40 L494.80,74.40 L495.30,74.40 L495.80,74.40 L496.30,74.40 L496.80,74.40 L497.30,74.40 L497.80,74.40 L498.30,74.40 L498.80,74.40 L499.30,74.40 L499.80,74.40 L500.30,74.40 L500.80,74.40 L501.30,74.40 L501.80,74.40 L502.30,74.40 L502.80,74.40 L503.30,74.40 L503.80,74.40 L504.30,74.40 L504.80,74.40 L505.30,74.40 L505.80,74.40 L506.30,74.40 L506.80,74.40 L507.30,74.40 L507.80,74.40 L508.30,74.40 L508.80,74.40 L509.30,74.40 L509.80,74.40 L510.30,74.40 L510.80,74.40 L511.30,74.40 L511.80,74.40 L512.30,74.40 L512.80,74.40 L513.30,74.40 L513.80,74.40 L514.30,74.40 L514.80,74.40 L515.30,74.40 L515.80,74.40 L516.30,74.40 L516.80,74.40 L517.30,74.40 L517.80,74.40 L518.30,74.40 L518.80,74.40 L519.30,74.40 L519.80,74.40 L520.30,74.40 L520.80,74.40 L521.30,74.40 L521.80,74.40 L522.30,74.40 L522.80,74.40 L523.30,74.40 L523.80,74.40 L524.30,74.40 L524.80,74.40 L525.30,74.40 L525.80,74.40 L526.30,74.40 L526.80,74.40 L527.30,74.40 L527.80,74.40 L528.30,74.40 L528.80,74.40 L529.30,74.40 L529.80,74.40 L530.30,74.40 L530.80,74.40 L531.30,74.40 L531.80,74.40 L532.30,74.40 L532.80,74.40 L533.30,74.40 L533.80,74.40 L534.30,74.40 L534.80,74.40 L535.30,74.40 L535.80,74.40 L536.30,74.40 L536.80,74.40 L537.30,74.40 L537.80,74.40 L538.30,74.40 L538.80,74.40 L539.30,74.40 L539.80,74.40 L540.30,74.40 L540.80,74.40 L541.30,74.40 L541.80,74.40 L542.30,74.40 L542.80,74.40 L543.30,74.40 L543.80,74.40 L544.30,74.40 L544.80,74.40 L545.30,74.40 L545.80,74.40 L546.30,74.40 L546.80,74.40 L547.30,74.40 L547.80,74.40 L548.30,74.40 L548.80,74.40 L549.30,74.40 L549.80,74.40 L550.30,74.40 L550.80,74.40 L551.30,74.40 L551.80,74.40 L552.30,74.40 L552.80,74.40 L553.30,74.40 L553.80,74.40 L554.30,74.40 L554.80,74.40 L555.30,74.40 L555.80,74.40 L556.30,74.40 L556.80,74.40 L557.30,74.40 L557.80,74.40 L558.30,74.40 L558.80,74.40 L559.30,74.40 L559.80,74.40 L560.30,74.40 L560.80,74.40 L561.30,74.40 L561.80,74.40 L562.30,74.40 L562.80,74.40 L563.30,74.40 L563.80,74.40 L564.30,74.40 L564.80,74.40 L565.30,74.40 L565.80,74.40 L566.30,74.40 L566.80,74.40 L567.30,74.40 L567.80,74.40 L568.30,74.40 L568.80,74.40 L569.30,74.40 L569.80,74.40 L570.30,74.40 L570.80,74.40 L571.30,74.40 L571.80,74.40 L572.30,74.40 L572.80,74.40 L573.30,74.40 L573.80,74.40 L574.30,74.40 L574.80,74.40 L575.30,74.40 L575.80,74.40 L576.30,74.40 L576.80,74.40 L577.30,74.40 L577.80,74.40 L578.30,74.40 L578.80,74.40 L579.30,74.40 L579.80,74.40 L580.30,74.40 L580.80,74.40 L581.30,74.40 L581.80,74.40 L582.30,74.40 L582.80,74.40 L583.30,74.40 L583.80,74.40 L584.30,74.40 L584.80,74.40 L585.30,74.40 L585.80,74.40 L586.30,74.40 L586.80,74.40 L587.30,74.40 L587.80,74.40 L588.30,74.40 L588.80,74.40 L589.30,74.40 L589.80,74.40 L590.30,74.40 L590.80,74.40 L591.30,74.40 L591.80,74.40 L592.30,74.40 L592.80,74.40 L593.30,74.40 L593.80,74.40 L594.30,74.40 L594.80,74.40 L595.30,74.40 L595.80,74.40 L596.30,74.40 L596.80,74.40 L597.30,74.40 L597.80,74.40 L598.30,74.40 L598.80,74.40 L599.30,74.40 L599.80,74.40 L600.30,74.40 L600.80,74.40 L601.30,74.40 L601.80,74.40 L602.30,74.40 L602.80,74.40 L603.30,74.40 L603.80,74.40 L604.30,74.40 L604.80,74.40 L605.30,74.40 L605.80,74.40 L606.30,74.40 L606.80,74.40 L607.30,74.40 L607.80,74.40 L608.30,74.40 L608.80,74.40 L609.30,74.40 L609.80,74.40 L610.30,74.40 L610.80,74.40 L611.30,74.40 L611.80,74.40 L612.30,74.40 L612.80,74.40 L613.30,74.40 L613.80,74.40 L614.30,74.40 L614.80,74.40 L615.30,74.40 L615.80,74.40 L616.30,74.40 L616.80,74.40 L617.30,74.40 L617.80,74.40 L618.30,74.40 L618.80,74.40 L619.30,74.40 L619.80,74.40 L620.30,74.40 L620.80,74.40 L621.30,74.40 L621.80,74.40 L622.30,74.40 L622.80,74.40 L623.30,74.40 L623.80,74.40 L624.30,74.39 L624.80,74.39 L625.30,74.37 L625.80,74.35 L626.30,74.32 L626.80,74.26 L627.30,74.16 L627.80,74.01 L628.30,73.79 L628.80,73.46 L629.30,72.99 L629.80,72.33 L630.30,71.43 L630.80,70.25 L631.30,68.74 L631.80,66.87 L632.30,64.63 L632.80,62.02 L633.30,59.09 L633.80,55.92 L634.30,52.63 L634.80,49.38 L635.30,46.34 L635.80,43.69 L636.30,41.60 L636.80,40.21 L637.30,39.62 L637.80,39.87 L638.30,40.95 L638.80,42.78 L639.30,45.22 L639.80,48.13 L640.30,51.32 L640.80,54.61 L641.30,57.84 L641.80,60.88 L642.30,63.62 L642.80,66.02 L643.30,68.04 L643.80,69.69 L644.30,71.00 L644.80,72.00 L645.30,72.75 L645.80,73.29 L646.30,73.67 L646.80,73.93 L647.30,74.11 L647.80,74.22 L648.30,74.29 L648.80,74.34 L649.30,74.37 L649.80,74.38 L650.30,74.39 L650.80,74.39 L651.30,74.40 L651.80,74.40 L652.30,74.40 L652.80,74.40 L653.30,74.40 L653.80,74.40 L654.30,74.40 L654.80,74.40 L655.30,74.40 L655.80,74.40 L656.30,74.40 L656.80,74.40 L657.30,74.40 L657.80,74.40 L658.30,74.40 L658.80,74.40 L659.30,74.40 L659.80,74.40 L660.30,74.40 L660.80,74.40 L661.30,74.40 L661.80,74.40 L662.30,74.40 L662.80,74.40 L663.30,74.40 L663.80,74.40 L664.30,74.40 L664.80,74.40 L665.30,74.40 L665.80,74.40 L666.30,74.40 L666.80,74.40 L667.30,74.40 L667.80,74.40 L668.30,74.40 L668.80,74.40 L669.30,74.40 L669.80,74.40 L670.30,74.40 L670.80,74.40 L671.30,74.40 L671.80,74.40 L672.30,74.40 L672.80,74.40 L673.30,74.40 L673.80,74.40 L674.30,74.40 L674.80,74.40 L675.30,74.40" fill="none" stroke="#0000ff" stroke-width="1.3"/>
</g>
<rect x="487.30" y="16.80" width="188.20" height="63.60" fill="none" stroke="#333" stroke-width="1"/>
<line x1="487.30" y1="80.40" x2="487.30" y2="81.60" stroke="#333" stroke-width="0.7"/>
<line x1="504.40" y1="80.40" x2="504.40" y2="82.40" stroke="#333" stroke-width="0.7"/>
<text x="504.40" y="92.20" font-size="8.4" font-weight="bold" text-anchor="middle" fill="#000">6</text>
<line x1="521.50" y1="80.40" x2="521.50" y2="81.60" stroke="#333" stroke-width="0.7"/>
<line x1="538.60" y1="80.40" x2="538.60" y2="82.40" stroke="#333" stroke-width="0.7"/>
<text x="538.60" y="92.20" font-size="8.4" font-weight="bold" text-anchor="middle" fill="#000">8</text>
<line x1="555.70" y1="80.40" x2="555.70" y2="81.60" stroke="#333" stroke-width="0.7"/>
<line x1="572.80" y1="80.40" x2="572.80" y2="82.40" stroke="#333" stroke-width="0.7"/>
<text x="572.80" y="92.20" font-size="8.4" font-weight="bold" text-anchor="middle" fill="#000">10</text>
<line x1="589.90" y1="80.40" x2="589.90" y2="81.60" stroke="#333" stroke-width="0.7"/>
<line x1="607.00" y1="80.40" x2="607.00" y2="82.40" stroke="#333" stroke-width="0.7"/>
<text x="607.00" y="92.20" font-size="8.4" font-weight="bold" text-anchor="middle" fill="#000">12</text>
<line x1="624.10" y1="80.40" x2="624.10" y2="81.60" stroke="#333" stroke-width="0.7"/>
<line x1="641.20" y1="80.40" x2="641.20" y2="82.40" stroke="#333" stroke-width="0.7"/>
<text x="641.20" y="92.20" font-size="8.4" font-weight="bold" text-anchor="middle" fill="#000">14</text>
<line x1="658.30" y1="80.40" x2="658.30" y2="81.60" stroke="#333" stroke-width="0.7"/>
<line x1="675.40" y1="80.40" x2="675.40" y2="82.40" stroke="#333" stroke-width="0.7"/>
<text x="675.40" y="92.20" font-size="8.4" font-weight="bold" text-anchor="middle" fill="#000">16</text>
<line x1="485.30" y1="19.00" x2="487.30" y2="19.00" stroke="#333" stroke-width="0.7"/>
<line x1="485.30" y1="28.50" x2="487.30" y2="28.50" stroke="#333" stroke-width="0.7"/>
<line x1="485.30" y1="38.00" x2="487.30" y2="38.00" stroke="#333" stroke-width="0.7"/>
<line x1="485.30" y1="47.40" x2="487.30" y2="47.40" stroke="#333" stroke-width="0.7"/>
<line x1="485.30" y1="56.40" x2="487.30" y2="56.40" stroke="#333" stroke-width="0.7"/>
<line x1="485.30" y1="65.50" x2="487.30" y2="65.50" stroke="#333" stroke-width="0.7"/>
<line x1="485.30" y1="74.40" x2="487.30" y2="74.40" stroke="#333" stroke-width="0.7"/>
<text x="583.50" y="101.60" font-size="8.65" font-weight="bold" text-anchor="middle" fill="#000">Rentention time (min)</text>
<text x="471.80" y="47.00" font-size="8.4" font-weight="bold" text-anchor="middle" fill="#000" transform="rotate(-90 471.80 47.00)">Intensity (arb. units)</text>
<line x1="488.20" y1="23.20" x2="498.80" y2="23.20" stroke="#ff3a3a" stroke-width="1.2"/>
<line x1="488.20" y1="31.30" x2="498.80" y2="31.30" stroke="#0000ff" stroke-width="1.3"/>
<text x="500.00" y="26.00" font-size="7.95" font-weight="bold" text-anchor="start" fill="#000"><tspan font-style="italic">cis-trans</tspan>-TWG1 (<tspan font-style="italic">SSR</tspan>)</text>
<text x="500.00" y="34.10" font-size="7.95" font-weight="bold" text-anchor="start" fill="#000"><tspan font-style="italic">cis-trans</tspan>-TWG1 (<tspan font-style="italic">RRS</tspan>)</text>
<rect x="489.30" y="104.10" width="188.00" height="74.40" fill="url(#bgC)" stroke="none" stroke-width="1"/>
<line x1="489.30" y1="141.60" x2="677.30" y2="141.60" stroke="#a8a8b8" stroke-width="1" stroke-dasharray="3,2.2"/>
<g clip-path="url(#clipC2)">
<path d="M489.30,141.60 C490.24,141.55 492.97,141.65 494.94,141.32 C496.91,140.99 499.14,140.56 501.14,139.62 C503.15,138.69 504.59,136.99 506.97,135.71 C509.35,134.43 513.05,132.88 515.43,131.94 C517.81,131.00 519.19,131.17 521.26,130.10 C523.33,129.03 525.96,126.55 527.84,125.50 C529.72,124.45 530.97,123.34 532.54,123.80 C534.11,124.26 535.49,125.48 537.24,128.26 C538.99,131.04 541.16,136.24 543.07,140.50 C544.98,144.75 546.67,150.46 548.71,153.79 C550.74,157.12 552.75,158.73 555.29,160.46 C557.83,162.18 561.15,163.35 563.94,164.14 C566.72,164.93 568.73,165.93 572.02,165.20 C575.31,164.47 579.60,161.89 583.68,159.77 C587.75,157.65 592.20,154.47 596.46,152.50 C600.72,150.53 605.30,149.56 609.24,147.95 C613.19,146.34 617.27,144.21 620.15,142.84 C623.03,141.48 624.10,140.43 626.54,139.76 C628.98,139.09 631.93,138.69 634.81,138.84 C637.69,138.99 640.51,140.15 643.84,140.63 C647.16,141.12 650.73,141.58 654.74,141.74 C658.75,141.90 664.14,141.62 667.90,141.60 C671.66,141.58 675.73,141.60 677.30,141.60" fill="none" stroke="#ff3a3a" stroke-width="1.2"/>
<path d="M489.30,141.60 C490.65,141.72 494.44,141.37 497.38,142.29 C500.33,143.21 503.96,145.86 506.97,147.12 C509.98,148.38 512.93,148.96 515.43,149.88 C517.94,150.80 519.94,151.68 522.01,152.64 C524.08,153.60 526.15,154.56 527.84,155.63 C529.53,156.70 530.75,158.92 532.16,159.08 C533.57,159.24 534.80,158.74 536.30,156.60 C537.80,154.45 539.75,149.18 541.19,146.20 C542.63,143.22 543.69,141.85 544.95,138.70 C546.20,135.56 546.98,130.28 548.71,127.34 C550.43,124.40 552.75,122.41 555.29,121.04 C557.83,119.67 561.24,119.61 563.94,119.11 C566.63,118.60 569.04,117.93 571.46,118.00 C573.87,118.07 574.24,117.27 578.41,119.52 C582.58,121.77 591.32,128.41 596.46,131.48 C601.60,134.55 605.30,136.16 609.24,137.92 C613.19,139.68 616.83,141.06 620.15,142.06 C623.47,143.06 626.45,143.59 629.17,143.90 C631.90,144.21 633.43,144.21 636.50,143.90 C639.57,143.59 643.93,142.44 647.60,142.06 C651.26,141.68 653.55,141.68 658.50,141.60 C663.45,141.52 674.17,141.60 677.30,141.60" fill="none" stroke="#0000ff" stroke-width="1.3"/>
</g>
<rect x="489.30" y="104.10" width="188.00" height="74.40" fill="none" stroke="#333" stroke-width="1"/>
<line x1="489.30" y1="178.50" x2="489.30" y2="180.50" stroke="#333" stroke-width="0.7"/>
<text x="488.50" y="188.80" font-size="8.4" font-weight="bold" text-anchor="middle" fill="#000">250</text>
<line x1="508.10" y1="178.50" x2="508.10" y2="179.70" stroke="#333" stroke-width="0.7"/>
<line x1="526.90" y1="178.50" x2="526.90" y2="180.50" stroke="#333" stroke-width="0.7"/>
<text x="526.10" y="188.80" font-size="8.4" font-weight="bold" text-anchor="middle" fill="#000">270</text>
<line x1="545.70" y1="178.50" x2="545.70" y2="179.70" stroke="#333" stroke-width="0.7"/>
<line x1="564.50" y1="178.50" x2="564.50" y2="180.50" stroke="#333" stroke-width="0.7"/>
<text x="563.70" y="188.80" font-size="8.4" font-weight="bold" text-anchor="middle" fill="#000">290</text>
<line x1="583.30" y1="178.50" x2="583.30" y2="179.70" stroke="#333" stroke-width="0.7"/>
<line x1="602.10" y1="178.50" x2="602.10" y2="180.50" stroke="#333" stroke-width="0.7"/>
<text x="601.30" y="188.80" font-size="8.4" font-weight="bold" text-anchor="middle" fill="#000">310</text>
<line x1="620.90" y1="178.50" x2="620.90" y2="179.70" stroke="#333" stroke-width="0.7"/>
<line x1="639.70" y1="178.50" x2="639.70" y2="180.50" stroke="#333" stroke-width="0.7"/>
<text x="638.90" y="188.80" font-size="8.4" font-weight="bold" text-anchor="middle" fill="#000">330</text>
<line x1="658.50" y1="178.50" x2="658.50" y2="179.70" stroke="#333" stroke-width="0.7"/>
<line x1="677.30" y1="178.50" x2="677.30" y2="180.50" stroke="#333" stroke-width="0.7"/>
<text x="676.50" y="188.80" font-size="8.4" font-weight="bold" text-anchor="middle" fill="#000">350</text>
<line x1="487.30" y1="178.40" x2="489.30" y2="178.40" stroke="#333" stroke-width="0.7"/>
<text x="480.60" y="179.60" font-size="8.2" font-weight="bold" text-anchor="end" fill="#000">-80</text>
<line x1="488.10" y1="173.80" x2="489.30" y2="173.80" stroke="#333" stroke-width="0.7"/>
<line x1="487.30" y1="169.20" x2="489.30" y2="169.20" stroke="#333" stroke-width="0.7"/>
<text x="480.60" y="170.40" font-size="8.2" font-weight="bold" text-anchor="end" fill="#000">-60</text>
<line x1="488.10" y1="164.60" x2="489.30" y2="164.60" stroke="#333" stroke-width="0.7"/>
<line x1="487.30" y1="160.00" x2="489.30" y2="160.00" stroke="#333" stroke-width="0.7"/>
<text x="480.60" y="161.20" font-size="8.2" font-weight="bold" text-anchor="end" fill="#000">-40</text>
<line x1="488.10" y1="155.40" x2="489.30" y2="155.40" stroke="#333" stroke-width="0.7"/>
<line x1="487.30" y1="150.80" x2="489.30" y2="150.80" stroke="#333" stroke-width="0.7"/>
<text x="480.60" y="152.00" font-size="8.2" font-weight="bold" text-anchor="end" fill="#000">-20</text>
<line x1="488.10" y1="146.20" x2="489.30" y2="146.20" stroke="#333" stroke-width="0.7"/>
<line x1="487.30" y1="141.60" x2="489.30" y2="141.60" stroke="#333" stroke-width="0.7"/>
<text x="480.60" y="142.80" font-size="8.2" font-weight="bold" text-anchor="end" fill="#000">0</text>
<line x1="488.10" y1="137.00" x2="489.30" y2="137.00" stroke="#333" stroke-width="0.7"/>
<line x1="487.30" y1="132.40" x2="489.30" y2="132.40" stroke="#333" stroke-width="0.7"/>
<text x="480.60" y="133.60" font-size="8.2" font-weight="bold" text-anchor="end" fill="#000">20</text>
<line x1="488.10" y1="127.80" x2="489.30" y2="127.80" stroke="#333" stroke-width="0.7"/>
<line x1="487.30" y1="123.20" x2="489.30" y2="123.20" stroke="#333" stroke-width="0.7"/>
<text x="480.60" y="124.40" font-size="8.2" font-weight="bold" text-anchor="end" fill="#000">40</text>
<line x1="488.10" y1="118.60" x2="489.30" y2="118.60" stroke="#333" stroke-width="0.7"/>
<line x1="487.30" y1="114.00" x2="489.30" y2="114.00" stroke="#333" stroke-width="0.7"/>
<text x="480.60" y="115.20" font-size="8.2" font-weight="bold" text-anchor="end" fill="#000">60</text>
<line x1="488.10" y1="109.40" x2="489.30" y2="109.40" stroke="#333" stroke-width="0.7"/>
<line x1="487.30" y1="104.80" x2="489.30" y2="104.80" stroke="#333" stroke-width="0.7"/>
<text x="480.60" y="106.00" font-size="8.2" font-weight="bold" text-anchor="end" fill="#000">80</text>
<text x="581.40" y="199.40" font-size="8.45" font-weight="bold" text-anchor="middle" fill="#000">Wavelength (nm)</text>
<text x="463.50" y="139.20" font-size="8.45" font-weight="bold" text-anchor="middle" fill="#000" transform="rotate(-90 463.50 139.20)">CD (mdeg)</text>
<line x1="579.00" y1="108.70" x2="592.80" y2="108.70" stroke="#ff3a3a" stroke-width="1.2"/>
<line x1="579.00" y1="117.40" x2="592.80" y2="117.40" stroke="#0000ff" stroke-width="1.3"/>
<text x="593.80" y="111.50" font-size="7.95" font-weight="bold" text-anchor="start" fill="#000"><tspan font-style="italic">cis-trans</tspan>-TWG1 (<tspan font-style="italic">SSR</tspan>)</text>
<text x="593.80" y="120.20" font-size="7.95" font-weight="bold" text-anchor="start" fill="#000"><tspan font-style="italic">cis-trans</tspan>-TWG1 (<tspan font-style="italic">RRS</tspan>)</text>
<text x="0.50" y="208.80" font-size="13" font-weight="bold" text-anchor="start" fill="#000">d</text>
<rect x="41.50" y="213.40" width="171.00" height="200.80" fill="url(#bgL)" stroke="none" stroke-width="1"/>
<line x1="41.50" y1="246.80" x2="212.50" y2="246.80" stroke="#8a8ae0" stroke-width="0.7" stroke-dasharray="1,1.6"/>
<line x1="41.50" y1="313.90" x2="212.50" y2="313.90" stroke="#8a8ae0" stroke-width="0.7" stroke-dasharray="1,1.6"/>
<g clip-path="url(#clipD)">
<path d="M41.50,237.89 L42.60,235.54 L43.70,232.66 L44.80,231.16 L45.90,229.69 L47.00,227.74 L48.10,227.61 L49.20,228.45 L50.29,227.75 L51.39,227.70 L52.49,228.90 L53.59,228.68 L54.69,229.44 L55.79,229.40 L56.89,229.80 L57.99,229.41 L59.09,230.10 L60.19,230.50 L61.29,230.31 L62.39,230.90 L63.49,231.17 L64.59,230.84 L65.69,231.95 L66.79,232.11 L67.88,231.93 L68.98,231.51 L70.08,232.30 L71.18,231.74 L72.28,231.89 L73.38,231.92 L74.48,231.40 L75.58,231.29 L76.68,230.37 L77.78,230.48 L78.88,229.75 L79.98,230.36 L81.08,230.36 L82.18,229.57 L83.28,229.68 L84.37,229.83 L85.47,230.72 L86.57,229.99 L87.67,230.04 L88.77,229.52 L89.87,229.59 L90.97,229.69 L92.07,230.00 L93.17,230.61 L94.27,230.95 L95.37,231.65 L96.47,231.75 L97.57,232.37 L98.67,232.93 L99.77,233.76 L100.86,234.08 L101.96,234.20 L103.06,235.64 L104.16,236.43 L105.26,236.93 L106.36,236.74 L107.46,237.07 L108.56,236.69 L109.66,237.55 L110.76,237.44 L111.86,237.29 L112.96,237.13 L114.06,237.91 L115.16,237.96 L116.26,236.88 L117.36,237.57 L118.45,237.07 L119.55,236.72 L120.65,236.81 L121.75,237.27 L122.85,237.32 L123.95,236.38 L125.05,237.29 L126.15,236.96 L127.25,237.99 L128.35,237.85 L129.45,238.74 L130.55,239.14 L131.65,238.95 L132.75,239.99 L133.85,239.73 L134.94,239.98 L136.04,241.05 L137.14,240.92 L138.24,241.60 L139.34,241.94 L140.44,241.95 L141.54,241.24 L142.64,240.90 L143.74,241.59 L144.84,240.77 L145.94,241.27 L147.04,241.05 L148.14,240.37 L149.24,240.34 L150.34,240.29 L151.43,240.31 L152.53,240.14 L153.63,239.98 L154.73,239.93 L155.83,240.17 L156.93,239.57 L158.03,239.60 L159.13,240.32 L160.23,240.19 L161.33,240.61 L162.43,241.33 L163.53,240.81 L164.63,240.82 L165.73,240.21 L166.83,240.64 L167.93,240.80 L169.02,240.21 L170.12,241.03 L171.22,241.22 L172.32,240.76 L173.42,241.55 L174.52,241.54 L175.62,241.94 L176.72,241.75 L177.82,242.31 L178.92,242.51 L180.02,241.90 L181.12,242.46 L182.22,243.65 L183.32,244.49 L184.42,244.23 L185.51,244.97 L186.61,245.64 L187.71,245.82 L188.81,246.03 L189.91,246.12 L191.01,246.34 L192.11,246.74 L193.21,246.57 L194.31,246.81 L195.41,247.34 L196.51,246.41 L197.61,246.90 L198.71,246.97 L199.81,246.39 L200.91,246.19 L202.01,246.72 L203.10,245.98 L204.20,245.82 L205.30,245.70 L206.40,245.52 L207.50,244.40 L208.60,244.18 L209.70,243.72 L210.80,244.43 L211.90,244.48" fill="none" stroke="#ff3a3a" stroke-width="1.1"/>
<path d="M41.50,256.46 L42.60,256.91 L43.70,257.83 L44.80,258.16 L45.90,258.58 L47.00,259.43 L48.10,260.48 L49.20,260.83 L50.29,261.26 L51.39,261.14 L52.49,261.90 L53.59,262.03 L54.69,262.34 L55.79,262.68 L56.89,262.85 L57.99,263.50 L59.09,263.26 L60.19,263.10 L61.29,262.96 L62.39,262.16 L63.49,262.15 L64.59,262.36 L65.69,262.35 L66.79,262.64 L67.88,262.91 L68.98,262.28 L70.08,263.09 L71.18,263.41 L72.28,263.47 L73.38,263.35 L74.48,263.91 L75.58,263.48 L76.68,264.21 L77.78,263.92 L78.88,263.36 L79.98,262.89 L81.08,263.30 L82.18,262.62 L83.28,262.65 L84.37,262.30 L85.47,261.61 L86.57,261.18 L87.67,261.00 L88.77,260.43 L89.87,259.75 L90.97,259.53 L92.07,259.71 L93.17,258.48 L94.27,258.10 L95.37,258.36 L96.47,257.60 L97.57,257.50 L98.67,257.07 L99.77,256.58 L100.86,256.95 L101.96,255.72 L103.06,255.61 L104.16,255.02 L105.26,255.15 L106.36,254.40 L107.46,254.14 L108.56,254.22 L109.66,253.44 L110.76,253.40 L111.86,253.48 L112.96,252.30 L114.06,251.96 L115.16,251.84 L116.26,252.13 L117.36,251.67 L118.45,250.96 L119.55,250.76 L120.65,250.47 L121.75,250.89 L122.85,250.53 L123.95,251.36 L125.05,251.68 L126.15,251.85 L127.25,251.71 L128.35,252.06 L129.45,251.13 L130.55,251.53 L131.65,252.36 L132.75,252.15 L133.85,251.74 L134.94,252.33 L136.04,251.98 L137.14,252.19 L138.24,251.62 L139.34,251.50 L140.44,251.78 L141.54,251.44 L142.64,251.71 L143.74,252.35 L144.84,251.66 L145.94,251.30 L147.04,251.34 L148.14,251.48 L149.24,252.15 L150.34,251.69 L151.43,251.61 L152.53,251.40 L153.63,252.37 L154.73,251.76 L155.83,251.52 L156.93,251.36 L158.03,251.52 L159.13,252.02 L160.23,252.96 L161.33,252.75 L162.43,253.01 L163.53,253.88 L164.63,253.99 L165.73,255.19 L166.83,254.61 L167.93,255.43 L169.02,255.98 L170.12,255.54 L171.22,256.14 L172.32,255.54 L173.42,255.24 L174.52,255.39 L175.62,254.94 L176.72,255.22 L177.82,254.68 L178.92,255.04 L180.02,254.62 L181.12,253.91 L182.22,253.04 L183.32,252.94 L184.42,252.57 L185.51,252.18 L186.61,251.86 L187.71,252.23 L188.81,251.25 L189.91,250.97 L191.01,251.75 L192.11,251.17 L193.21,251.45 L194.31,250.63 L195.41,250.99 L196.51,250.54 L197.61,250.51 L198.71,250.27 L199.81,249.80 L200.91,249.16 L202.01,249.09 L203.10,249.62 L204.20,249.45 L205.30,249.28 L206.40,248.43 L207.50,248.59 L208.60,248.30 L209.70,247.65 L210.80,247.36 L211.90,246.57" fill="none" stroke="#0000ff" stroke-width="1.2"/>
<path d="M41.50,310.55 L42.60,309.76 L43.70,308.89 L44.80,308.13 L45.90,307.11 L47.00,306.97 L48.10,305.63 L49.20,305.77 L50.29,305.94 L51.39,305.27 L52.49,305.20 L53.59,303.98 L54.69,304.03 L55.79,303.17 L56.89,302.82 L57.99,302.17 L59.09,300.87 L60.19,300.41 L61.29,300.05 L62.39,300.44 L63.49,299.96 L64.59,298.99 L65.69,299.38 L66.79,298.35 L67.88,298.56 L68.98,297.57 L70.08,296.88 L71.18,297.27 L72.28,295.98 L73.38,295.43 L74.48,295.71 L75.58,294.91 L76.68,293.35 L77.78,293.17 L78.88,291.79 L79.98,291.02 L81.08,289.58 L82.18,289.50 L83.28,288.61 L84.37,288.31 L85.47,287.61 L86.57,286.35 L87.67,285.81 L88.77,284.98 L89.87,284.35 L90.97,284.64 L92.07,285.57 L93.17,286.56 L94.27,286.57 L95.37,287.98 L96.47,288.55 L97.57,289.62 L98.67,291.27 L99.77,291.99 L100.86,292.91 L101.96,294.18 L103.06,295.20 L104.16,294.85 L105.26,296.23 L106.36,295.55 L107.46,296.72 L108.56,297.19 L109.66,296.55 L110.76,297.32 L111.86,296.79 L112.96,296.91 L114.06,296.11 L115.16,295.98 L116.26,295.95 L117.36,296.63 L118.45,295.62 L119.55,296.06 L120.65,296.08 L121.75,295.92 L122.85,295.08 L123.95,295.00 L125.05,295.72 L126.15,296.54 L127.25,296.34 L128.35,297.58 L129.45,298.17 L130.55,298.77 L131.65,298.47 L132.75,300.31 L133.85,300.21 L134.94,301.33 L136.04,302.46 L137.14,303.64 L138.24,303.85 L139.34,304.96 L140.44,304.73 L141.54,304.66 L142.64,304.84 L143.74,304.87 L144.84,304.95 L145.94,305.21 L147.04,305.99 L148.14,306.51 L149.24,305.77 L150.34,305.84 L151.43,307.17 L152.53,306.97 L153.63,307.13 L154.73,307.24 L155.83,307.94 L156.93,308.49 L158.03,308.38 L159.13,308.64 L160.23,308.54 L161.33,309.74 L162.43,308.70 L163.53,309.14 L164.63,309.45 L165.73,308.60 L166.83,309.20 L167.93,309.37 L169.02,308.95 L170.12,309.05 L171.22,308.23 L172.32,308.52 L173.42,308.39 L174.52,309.36 L175.62,308.97 L176.72,309.36 L177.82,310.17 L178.92,310.22 L180.02,310.56 L181.12,310.20 L182.22,310.45 L183.32,310.92 L184.42,310.97 L185.51,311.21 L186.61,311.79 L187.71,311.96 L188.81,312.67 L189.91,313.80 L191.01,314.22 L192.11,313.88 L193.21,313.63 L194.31,313.35 L195.41,312.98 L196.51,313.08 L197.61,313.54 L198.71,313.53 L199.81,312.88 L200.91,313.26 L202.01,313.15 L203.10,312.98 L204.20,312.85 L205.30,312.87 L206.40,312.34 L207.50,312.63 L208.60,312.07 L209.70,312.21 L210.80,312.43 L211.90,312.25" fill="none" stroke="#ff3a3a" stroke-width="1.1"/>
<path d="M41.50,318.04 L42.60,318.35 L43.70,318.25 L44.80,318.28 L45.90,318.27 L47.00,319.27 L48.10,319.33 L49.20,319.93 L50.29,319.78 L51.39,321.30 L52.49,321.83 L53.59,323.49 L54.69,324.50 L55.79,324.68 L56.89,325.20 L57.99,325.74 L59.09,325.58 L60.19,326.36 L61.29,327.02 L62.39,326.80 L63.49,327.76 L64.59,328.01 L65.69,328.55 L66.79,328.37 L67.88,328.48 L68.98,330.17 L70.08,331.53 L71.18,332.50 L72.28,333.46 L73.38,334.81 L74.48,336.26 L75.58,336.86 L76.68,338.56 L77.78,339.14 L78.88,339.53 L79.98,340.29 L81.08,340.23 L82.18,341.12 L83.28,341.36 L84.37,341.19 L85.47,341.56 L86.57,341.84 L87.67,342.18 L88.77,342.58 L89.87,341.76 L90.97,341.71 L92.07,341.39 L93.17,340.47 L94.27,340.19 L95.37,339.04 L96.47,339.35 L97.57,338.41 L98.67,337.42 L99.77,337.47 L100.86,336.54 L101.96,335.86 L103.06,335.47 L104.16,334.18 L105.26,333.34 L106.36,333.15 L107.46,332.05 L108.56,330.38 L109.66,330.38 L110.76,328.92 L111.86,328.65 L112.96,328.62 L114.06,327.55 L115.16,326.44 L116.26,325.76 L117.36,325.01 L118.45,323.97 L119.55,324.17 L120.65,322.71 L121.75,323.11 L122.85,323.47 L123.95,323.08 L125.05,323.73 L126.15,322.92 L127.25,323.72 L128.35,323.63 L129.45,323.38 L130.55,323.62 L131.65,323.06 L132.75,323.12 L133.85,322.72 L134.94,322.05 L136.04,321.64 L137.14,321.54 L138.24,320.85 L139.34,320.13 L140.44,320.50 L141.54,319.61 L142.64,319.49 L143.74,319.81 L144.84,319.14 L145.94,318.98 L147.04,319.09 L148.14,319.60 L149.24,319.35 L150.34,319.23 L151.43,319.45 L152.53,319.97 L153.63,319.23 L154.73,319.26 L155.83,319.59 L156.93,319.11 L158.03,318.54 L159.13,318.58 L160.23,318.40 L161.33,317.84 L162.43,317.92 L163.53,317.65 L164.63,318.01 L165.73,317.50 L166.83,318.06 L167.93,318.59 L169.02,318.72 L170.12,318.31 L171.22,318.74 L172.32,318.62 L173.42,318.89 L174.52,319.18 L175.62,319.70 L176.72,319.86 L177.82,318.77 L178.92,318.09 L180.02,318.20 L181.12,317.40 L182.22,316.99 L183.32,317.44 L184.42,316.34 L185.51,316.63 L186.61,315.86 L187.71,316.15 L188.81,315.87 L189.91,314.82 L191.01,314.78 L192.11,315.43 L193.21,314.88 L194.31,314.48 L195.41,314.70 L196.51,314.55 L197.61,314.01 L198.71,313.80 L199.81,313.38 L200.91,313.67 L202.01,313.43 L203.10,313.96 L204.20,313.93 L205.30,313.43 L206.40,313.96 L207.50,313.37 L208.60,313.38 L209.70,313.98 L210.80,313.78 L211.90,314.26" fill="none" stroke="#0000ff" stroke-width="1.2"/>
<path d="M41.50,406.96 C43.45,405.63 49.32,402.17 53.23,398.97 C57.14,395.77 61.04,391.53 64.95,387.75 C68.86,383.97 72.77,379.45 76.68,376.29 C80.59,373.13 84.50,370.52 88.41,368.78 C92.31,367.04 96.71,366.43 100.13,365.84 C103.55,365.26 106.00,365.19 108.93,365.27 C111.86,365.35 114.30,365.51 117.72,366.30 C121.14,367.10 125.54,368.35 129.45,370.05 C133.36,371.76 137.27,374.20 141.17,376.55 C145.08,378.91 148.99,381.91 152.90,384.16 C156.81,386.42 160.76,388.40 164.63,390.10 C168.50,391.80 172.24,392.93 176.11,394.34 C179.98,395.76 183.97,397.30 187.84,398.59 C191.70,399.89 195.21,401.06 199.32,402.13 C203.43,403.19 210.31,404.53 212.51,405.01" fill="none" stroke="#ff3a3a" stroke-width="1.1"/>
<path d="M41.50,406.79 C43.45,405.42 49.32,401.87 53.23,398.55 C57.14,395.23 61.04,390.84 64.95,386.87 C68.86,382.90 72.77,378.13 76.68,374.73 C80.59,371.34 84.50,368.45 88.41,366.50 C92.31,364.55 96.71,363.73 100.13,363.05 C103.55,362.36 106.00,362.29 108.93,362.38 C111.86,362.47 114.30,362.68 117.72,363.60 C121.14,364.53 125.54,366.02 129.45,367.94 C133.36,369.87 137.27,372.60 141.17,375.18 C145.08,377.76 148.99,380.99 152.90,383.42 C156.81,385.85 160.76,387.96 164.63,389.76 C168.50,391.56 172.24,392.75 176.11,394.21 C179.98,395.68 183.97,397.23 187.84,398.55 C191.70,399.87 195.21,401.04 199.32,402.11 C203.43,403.19 210.31,404.52 212.51,405.01" fill="none" stroke="#0000ff" stroke-width="1.4"/>
</g>
<rect x="41.50" y="213.40" width="171.00" height="200.80" fill="none" stroke="#333" stroke-width="1"/>
<line x1="41.50" y1="280.60" x2="212.50" y2="280.60" stroke="#333" stroke-width="1"/>
<line x1="41.50" y1="347.50" x2="212.50" y2="347.50" stroke="#333" stroke-width="1"/>
<line x1="41.50" y1="414.20" x2="41.50" y2="416.20" stroke="#333" stroke-width="0.7"/>
<text x="42.70" y="426.00" font-size="7.9" font-weight="bold" text-anchor="middle" fill="#000">320</text>
<line x1="53.72" y1="414.20" x2="53.72" y2="415.40" stroke="#333" stroke-width="0.7"/>
<line x1="65.93" y1="414.20" x2="65.93" y2="416.20" stroke="#333" stroke-width="0.7"/>
<text x="67.13" y="426.00" font-size="7.9" font-weight="bold" text-anchor="middle" fill="#000">330</text>
<line x1="78.15" y1="414.20" x2="78.15" y2="415.40" stroke="#333" stroke-width="0.7"/>
<line x1="90.36" y1="414.20" x2="90.36" y2="416.20" stroke="#333" stroke-width="0.7"/>
<text x="91.56" y="426.00" font-size="7.9" font-weight="bold" text-anchor="middle" fill="#000">340</text>
<line x1="102.58" y1="414.20" x2="102.58" y2="415.40" stroke="#333" stroke-width="0.7"/>
<line x1="114.79" y1="414.20" x2="114.79" y2="416.20" stroke="#333" stroke-width="0.7"/>
<text x="115.99" y="426.00" font-size="7.9" font-weight="bold" text-anchor="middle" fill="#000">350</text>
<line x1="127.00" y1="414.20" x2="127.00" y2="415.40" stroke="#333" stroke-width="0.7"/>
<line x1="139.22" y1="414.20" x2="139.22" y2="416.20" stroke="#333" stroke-width="0.7"/>
<text x="140.42" y="426.00" font-size="7.9" font-weight="bold" text-anchor="middle" fill="#000">360</text>
<line x1="151.44" y1="414.20" x2="151.44" y2="415.40" stroke="#333" stroke-width="0.7"/>
<line x1="163.65" y1="414.20" x2="163.65" y2="416.20" stroke="#333" stroke-width="0.7"/>
<text x="164.85" y="426.00" font-size="7.9" font-weight="bold" text-anchor="middle" fill="#000">370</text>
<line x1="175.87" y1="414.20" x2="175.87" y2="415.40" stroke="#333" stroke-width="0.7"/>
<line x1="188.08" y1="414.20" x2="188.08" y2="416.20" stroke="#333" stroke-width="0.7"/>
<text x="189.28" y="426.00" font-size="7.9" font-weight="bold" text-anchor="middle" fill="#000">380</text>
<line x1="200.30" y1="414.20" x2="200.30" y2="415.40" stroke="#333" stroke-width="0.7"/>
<line x1="212.51" y1="414.20" x2="212.51" y2="416.20" stroke="#333" stroke-width="0.7"/>
<text x="213.71" y="426.00" font-size="7.9" font-weight="bold" text-anchor="middle" fill="#000">390</text>
<line x1="39.50" y1="220.26" x2="41.50" y2="220.26" stroke="#333" stroke-width="0.7"/>
<text x="37.00" y="222.96" font-size="7.8" font-weight="bold" text-anchor="end" fill="#000">0.02</text>
<line x1="39.50" y1="233.53" x2="41.50" y2="233.53" stroke="#333" stroke-width="0.7"/>
<text x="37.00" y="236.23" font-size="7.8" font-weight="bold" text-anchor="end" fill="#000">0.01</text>
<line x1="39.50" y1="246.80" x2="41.50" y2="246.80" stroke="#333" stroke-width="0.7"/>
<text x="37.00" y="249.50" font-size="7.8" font-weight="bold" text-anchor="end" fill="#000">0.00</text>
<line x1="39.50" y1="260.07" x2="41.50" y2="260.07" stroke="#333" stroke-width="0.7"/>
<text x="37.00" y="262.77" font-size="7.8" font-weight="bold" text-anchor="end" fill="#000">-0.01</text>
<line x1="39.50" y1="273.34" x2="41.50" y2="273.34" stroke="#333" stroke-width="0.7"/>
<text x="37.00" y="276.04" font-size="7.8" font-weight="bold" text-anchor="end" fill="#000">-0.02</text>
<line x1="40.30" y1="226.90" x2="41.50" y2="226.90" stroke="#333" stroke-width="0.6"/>
<line x1="40.30" y1="240.17" x2="41.50" y2="240.17" stroke="#333" stroke-width="0.6"/>
<line x1="40.30" y1="253.44" x2="41.50" y2="253.44" stroke="#333" stroke-width="0.6"/>
<line x1="40.30" y1="266.70" x2="41.50" y2="266.70" stroke="#333" stroke-width="0.6"/>
<line x1="39.50" y1="347.10" x2="41.50" y2="347.10" stroke="#333" stroke-width="0.7"/>
<text x="37.50" y="349.70" font-size="7.5" font-weight="bold" text-anchor="end" fill="#000">-80</text>
<line x1="39.50" y1="338.80" x2="41.50" y2="338.80" stroke="#333" stroke-width="0.7"/>
<text x="37.50" y="341.40" font-size="7.5" font-weight="bold" text-anchor="end" fill="#000">-60</text>
<line x1="39.50" y1="330.50" x2="41.50" y2="330.50" stroke="#333" stroke-width="0.7"/>
<text x="37.50" y="333.10" font-size="7.5" font-weight="bold" text-anchor="end" fill="#000">-40</text>
<line x1="39.50" y1="322.20" x2="41.50" y2="322.20" stroke="#333" stroke-width="0.7"/>
<text x="37.50" y="324.80" font-size="7.5" font-weight="bold" text-anchor="end" fill="#000">-20</text>
<line x1="39.50" y1="313.90" x2="41.50" y2="313.90" stroke="#333" stroke-width="0.7"/>
<text x="37.50" y="316.50" font-size="7.5" font-weight="bold" text-anchor="end" fill="#000">0</text>
<line x1="39.50" y1="305.60" x2="41.50" y2="305.60" stroke="#333" stroke-width="0.7"/>
<text x="37.50" y="308.20" font-size="7.5" font-weight="bold" text-anchor="end" fill="#000">20</text>
<line x1="39.50" y1="297.30" x2="41.50" y2="297.30" stroke="#333" stroke-width="0.7"/>
<text x="37.50" y="299.90" font-size="7.5" font-weight="bold" text-anchor="end" fill="#000">40</text>
<line x1="39.50" y1="289.00" x2="41.50" y2="289.00" stroke="#333" stroke-width="0.7"/>
<text x="37.50" y="291.60" font-size="7.5" font-weight="bold" text-anchor="end" fill="#000">60</text>
<line x1="39.50" y1="280.70" x2="41.50" y2="280.70" stroke="#333" stroke-width="0.7"/>
<text x="37.50" y="283.30" font-size="7.5" font-weight="bold" text-anchor="end" fill="#000">80</text>
<line x1="40.30" y1="342.95" x2="41.50" y2="342.95" stroke="#333" stroke-width="0.6"/>
<line x1="40.30" y1="334.65" x2="41.50" y2="334.65" stroke="#333" stroke-width="0.6"/>
<line x1="40.30" y1="326.35" x2="41.50" y2="326.35" stroke="#333" stroke-width="0.6"/>
<line x1="40.30" y1="318.05" x2="41.50" y2="318.05" stroke="#333" stroke-width="0.6"/>
<line x1="40.30" y1="309.75" x2="41.50" y2="309.75" stroke="#333" stroke-width="0.6"/>
<line x1="40.30" y1="301.45" x2="41.50" y2="301.45" stroke="#333" stroke-width="0.6"/>
<line x1="40.30" y1="293.15" x2="41.50" y2="293.15" stroke="#333" stroke-width="0.6"/>
<line x1="40.30" y1="284.85" x2="41.50" y2="284.85" stroke="#333" stroke-width="0.6"/>
<line x1="39.50" y1="413.80" x2="41.50" y2="413.80" stroke="#333" stroke-width="0.7"/>
<text x="36.30" y="416.50" font-size="7.8" font-weight="bold" text-anchor="end" fill="#000">0.00</text>
<line x1="39.50" y1="397.11" x2="41.50" y2="397.11" stroke="#333" stroke-width="0.7"/>
<text x="36.30" y="399.81" font-size="7.8" font-weight="bold" text-anchor="end" fill="#000">0.15</text>
<line x1="39.50" y1="380.41" x2="41.50" y2="380.41" stroke="#333" stroke-width="0.7"/>
<text x="36.30" y="383.11" font-size="7.8" font-weight="bold" text-anchor="end" fill="#000">0.30</text>
<line x1="39.50" y1="363.72" x2="41.50" y2="363.72" stroke="#333" stroke-width="0.7"/>
<text x="36.30" y="366.42" font-size="7.8" font-weight="bold" text-anchor="end" fill="#000">0.45</text>
<line x1="40.30" y1="405.45" x2="41.50" y2="405.45" stroke="#333" stroke-width="0.6"/>
<line x1="40.30" y1="388.76" x2="41.50" y2="388.76" stroke="#333" stroke-width="0.6"/>
<line x1="40.30" y1="372.06" x2="41.50" y2="372.06" stroke="#333" stroke-width="0.6"/>
<text x="130.60" y="436.60" font-size="8.6" font-weight="bold" text-anchor="middle" fill="#000">Wavelength (nm)</text>
<text x="11.30" y="314.20" font-size="7.0" font-weight="bold" text-anchor="middle" fill="#000" transform="rotate(-90 11.30 314.20)">CPL Intensity (mdeg)</text>
<text x="10.60" y="380.50" font-size="9.2" font-weight="bold" text-anchor="middle" fill="#000" transform="rotate(-90 10.60 380.50)">DC (V)</text>
<text transform="translate(7.5 254.0) rotate(-90)" font-size="8.7" font-weight="bold"><tspan font-style="italic">g</tspan><tspan font-size="7.3" dy="4.6">PL</tspan></text>
<line x1="127.60" y1="218.10" x2="139.60" y2="218.10" stroke="#ff3a3a" stroke-width="1.1"/>
<line x1="127.60" y1="226.40" x2="139.60" y2="226.40" stroke="#0000ff" stroke-width="1.2"/>
<text x="141.50" y="220.50" font-size="6.6" font-weight="bold" text-anchor="start" fill="#000"><tspan font-style="italic">cis-trans</tspan>-TWG1 (<tspan font-style="italic">SSR</tspan>)</text>
<text x="141.50" y="228.80" font-size="6.6" font-weight="bold" text-anchor="start" fill="#000"><tspan font-style="italic">cis-trans</tspan> -TWG1 (<tspan font-style="italic">RRS</tspan>)</text>
<text x="228.00" y="209.00" font-size="13" font-weight="bold" text-anchor="start" fill="#000">e</text>
<line x1="260.90" y1="387.60" x2="260.90" y2="232.00" stroke="#4472c4" stroke-width="1.6"/>
<path d="M260.9,228.3 L266.2,238.6 L260.9,235.2 L255.6,238.6 Z" fill="#4472c4" stroke="#4472c4" stroke-width="0.6" stroke-linejoin="round"/>
<text x="253.40" y="301.50" font-size="9.0" font-weight="bold" text-anchor="middle" fill="#000" transform="rotate(-90 253.40 301.50)">Energy Level</text>
<rect x="295.00" y="251.30" width="21.80" height="91.50" fill="#ffe5b8" stroke="none" stroke-width="1"/>
<rect x="295.00" y="251.30" width="21.80" height="5.00" fill="#ffc000" stroke="none" stroke-width="1"/>
<rect x="295.00" y="338.00" width="21.80" height="4.80" fill="#ffc000" stroke="none" stroke-width="1"/>
<rect x="322.80" y="261.70" width="21.80" height="107.80" fill="#b5e5fb" stroke="none" stroke-width="1"/>
<rect x="322.80" y="261.70" width="21.80" height="3.90" fill="#00b0f0" stroke="none" stroke-width="1"/>
<rect x="322.80" y="365.00" width="21.80" height="4.50" fill="#00b0f0" stroke="none" stroke-width="1"/>
<rect x="351.70" y="249.50" width="21.40" height="113.30" fill="#ffccff" stroke="none" stroke-width="1"/>
<rect x="351.70" y="249.50" width="21.40" height="5.30" fill="#ad8fd3" stroke="none" stroke-width="1"/>
<rect x="351.70" y="357.70" width="21.40" height="5.10" fill="#ad8fd3" stroke="none" stroke-width="1"/>
<rect x="381.30" y="272.90" width="21.70" height="105.30" fill="#ffdade" stroke="none" stroke-width="1"/>
<rect x="381.30" y="272.90" width="21.70" height="4.70" fill="#ff7a7c" stroke="none" stroke-width="1"/>
<rect x="381.30" y="373.00" width="21.70" height="5.20" fill="#ff7a7c" stroke="none" stroke-width="1"/>
<rect x="269.90" y="327.00" width="21.80" height="4.60" fill="#44546a" stroke="none" stroke-width="1"/>
<rect x="411.70" y="279.00" width="21.40" height="4.30" fill="#44546a" stroke="none" stroke-width="1"/>
<text x="305.70" y="246.30" font-size="8.9" font-weight="bold" text-anchor="middle" fill="#000">-2.0</text>
<text x="333.60" y="257.70" font-size="8.9" font-weight="bold" text-anchor="middle" fill="#000">-2.4</text>
<text x="362.20" y="244.90" font-size="8.9" font-weight="bold" text-anchor="middle" fill="#000">-1.97</text>
<text x="391.80" y="266.00" font-size="8.9" font-weight="bold" text-anchor="middle" fill="#000">-2.75</text>
<text x="422.40" y="274.70" font-size="8.9" font-weight="bold" text-anchor="middle" fill="#000">-2.9</text>
<text x="423.00" y="294.80" font-size="8.9" font-weight="bold" text-anchor="middle" fill="#000">LiF/Al</text>
<text x="278.90" y="319.80" font-size="8.9" font-weight="bold" text-anchor="middle" fill="#000">-4.8</text>
<text x="280.70" y="342.70" font-size="8.9" font-weight="bold" text-anchor="middle" fill="#000">ITO</text>
<text x="306.20" y="354.60" font-size="8.9" font-weight="bold" text-anchor="middle" fill="#000">-5.1</text>
<text x="333.20" y="379.30" font-size="8.9" font-weight="bold" text-anchor="middle" fill="#000">-5.9</text>
<text x="362.20" y="374.70" font-size="8.9" font-weight="bold" text-anchor="middle" fill="#000">-5.71</text>
<text x="393.40" y="390.00" font-size="8.9" font-weight="bold" text-anchor="middle" fill="#000">-6.75</text>
<text x="309.20" y="293.80" font-size="8.9" font-weight="bold" text-anchor="middle" fill="#000" transform="rotate(-90 309.20 293.80)">MoO<tspan font-size="6" dy="1.8">3</tspan></text>
<text x="337.90" y="314.80" font-size="8.9" font-weight="bold" text-anchor="middle" fill="#000" transform="rotate(-90 337.90 314.80)">mCP</text>
<text x="366.20" y="307.40" font-size="9.0" font-weight="bold" text-anchor="middle" fill="#000" transform="rotate(-90 366.20 307.40)"><tspan font-style="italic">cis-trans</tspan>-TWG1</text>
<text x="396.00" y="327.00" font-size="8.9" font-weight="bold" text-anchor="middle" fill="#000" transform="rotate(-90 396.00 327.00)">Tmpypb</text>
<text x="449.60" y="208.70" font-size="13" font-weight="bold" text-anchor="start" fill="#000">f</text>
<rect x="493.40" y="237.90" width="175.20" height="140.00" fill="url(#bgL)" stroke="none" stroke-width="1"/>
<g clip-path="url(#clipF)">
<path d="M493.40,358.70 L498.00,315.30 L501.40,285.70 L504.20,262.80 L507.10,249.10 L508.70,257.10 L511.00,258.30 L512.80,262.80 L515.10,272.00 L518.50,285.70 L522.00,303.90 L525.40,319.90 L528.80,333.60 L533.40,345.00 L537.90,351.90 L544.80,358.70 L553.90,364.40 L565.30,367.90 L581.30,370.60 L600.00,371.60 L630.00,372.10 L669.00,372.40" fill="none" stroke="#ff4848" stroke-width="1.1" stroke-linejoin="round"/>
<path d="M493.40,347.30 L499.10,310.80 L503.70,274.20 L506.00,276.50 L508.70,285.70 L511.70,276.50 L515.10,251.40 L517.90,250.30 L520.80,256.00 L525.40,269.70 L528.80,285.70 L533.40,308.50 L537.90,326.80 L543.70,342.70 L549.40,354.20 L556.20,361.00 L565.30,366.00 L576.80,369.00 L590.00,371.30 L610.00,372.00 L669.00,372.40" fill="none" stroke="#1e1eff" stroke-width="1.2" stroke-linejoin="round"/>
</g>
<rect x="493.40" y="237.90" width="175.20" height="140.00" fill="none" stroke="#333" stroke-width="1"/>
<line x1="494.00" y1="377.90" x2="494.00" y2="380.10" stroke="#333" stroke-width="0.7"/>
<text x="494.00" y="389.90" font-size="8.6" font-weight="bold" text-anchor="middle" fill="#000">350</text>
<line x1="511.50" y1="377.90" x2="511.50" y2="379.20" stroke="#333" stroke-width="0.7"/>
<line x1="529.00" y1="377.90" x2="529.00" y2="380.10" stroke="#333" stroke-width="0.7"/>
<text x="529.00" y="389.90" font-size="8.6" font-weight="bold" text-anchor="middle" fill="#000">400</text>
<line x1="546.50" y1="377.90" x2="546.50" y2="379.20" stroke="#333" stroke-width="0.7"/>
<line x1="564.00" y1="377.90" x2="564.00" y2="380.10" stroke="#333" stroke-width="0.7"/>
<text x="564.00" y="389.90" font-size="8.6" font-weight="bold" text-anchor="middle" fill="#000">450</text>
<line x1="581.50" y1="377.90" x2="581.50" y2="379.20" stroke="#333" stroke-width="0.7"/>
<line x1="599.00" y1="377.90" x2="599.00" y2="380.10" stroke="#333" stroke-width="0.7"/>
<text x="599.00" y="389.90" font-size="8.6" font-weight="bold" text-anchor="middle" fill="#000">500</text>
<line x1="616.50" y1="377.90" x2="616.50" y2="379.20" stroke="#333" stroke-width="0.7"/>
<line x1="634.00" y1="377.90" x2="634.00" y2="380.10" stroke="#333" stroke-width="0.7"/>
<text x="634.00" y="389.90" font-size="8.6" font-weight="bold" text-anchor="middle" fill="#000">550</text>
<line x1="651.50" y1="377.90" x2="651.50" y2="379.20" stroke="#333" stroke-width="0.7"/>
<line x1="669.00" y1="377.90" x2="669.00" y2="380.10" stroke="#333" stroke-width="0.7"/>
<text x="669.00" y="389.90" font-size="8.6" font-weight="bold" text-anchor="middle" fill="#000">600</text>
<line x1="491.20" y1="372.50" x2="493.40" y2="372.50" stroke="#333" stroke-width="0.7"/>
<text x="490.80" y="375.50" font-size="8.6" font-weight="bold" text-anchor="end" fill="#000">0.0</text>
<line x1="492.10" y1="360.27" x2="493.40" y2="360.27" stroke="#333" stroke-width="0.7"/>
<line x1="491.20" y1="348.04" x2="493.40" y2="348.04" stroke="#333" stroke-width="0.7"/>
<text x="490.80" y="351.04" font-size="8.6" font-weight="bold" text-anchor="end" fill="#000">0.2</text>
<line x1="492.10" y1="335.81" x2="493.40" y2="335.81" stroke="#333" stroke-width="0.7"/>
<line x1="491.20" y1="323.58" x2="493.40" y2="323.58" stroke="#333" stroke-width="0.7"/>
<text x="490.80" y="326.58" font-size="8.6" font-weight="bold" text-anchor="end" fill="#000">0.4</text>
<line x1="492.10" y1="311.35" x2="493.40" y2="311.35" stroke="#333" stroke-width="0.7"/>
<line x1="491.20" y1="299.12" x2="493.40" y2="299.12" stroke="#333" stroke-width="0.7"/>
<text x="490.80" y="302.12" font-size="8.6" font-weight="bold" text-anchor="end" fill="#000">0.6</text>
<line x1="492.10" y1="286.89" x2="493.40" y2="286.89" stroke="#333" stroke-width="0.7"/>
<line x1="491.20" y1="274.66" x2="493.40" y2="274.66" stroke="#333" stroke-width="0.7"/>
<text x="490.80" y="277.66" font-size="8.6" font-weight="bold" text-anchor="end" fill="#000">0.8</text>
<line x1="492.10" y1="262.43" x2="493.40" y2="262.43" stroke="#333" stroke-width="0.7"/>
<line x1="491.20" y1="250.20" x2="493.40" y2="250.20" stroke="#333" stroke-width="0.7"/>
<text x="490.80" y="253.20" font-size="8.6" font-weight="bold" text-anchor="end" fill="#000">1.0</text>
<text x="587.00" y="401.20" font-size="9.6" font-weight="bold" text-anchor="middle" fill="#000">Wavelength(nm)</text>
<text x="472.60" y="313.20" font-size="9.5" font-weight="bold" text-anchor="middle" fill="#000" transform="rotate(-90 472.60 313.20)">EL Intensity(arb. units)</text>
<line x1="602.90" y1="247.00" x2="618.40" y2="247.00" stroke="#ff4848" stroke-width="1.1"/>
<line x1="602.90" y1="256.80" x2="618.40" y2="256.80" stroke="#1e1eff" stroke-width="1.2"/>
<text x="622.40" y="250.30" font-size="9.4" font-weight="bold" text-anchor="start" fill="#000">Device 1</text>
<text x="622.40" y="260.10" font-size="9.4" font-weight="bold" text-anchor="start" fill="#000">Device 2</text>
<g clip-path="url(#cieClip)">
<rect x="580" y="280.20" width="83" height="1.05" fill="url(#cr0)"/>
<rect x="580" y="281.20" width="83" height="1.05" fill="url(#cr1)"/>
<rect x="580" y="282.20" width="83" height="1.05" fill="url(#cr2)"/>
<rect x="580" y="283.20" width="83" height="1.05" fill="url(#cr3)"/>
<rect x="580" y="284.20" width="83" height="1.05" fill="url(#cr4)"/>
<rect x="580" y="285.20" width="83" height="1.05" fill="url(#cr5)"/>
<rect x="580" y="286.20" width="83" height="1.05" fill="url(#cr6)"/>
<rect x="580" y="287.20" width="83" height="1.05" fill="url(#cr7)"/>
<rect x="580" y="288.20" width="83" height="1.05" fill="url(#cr8)"/>
<rect x="580" y="289.20" width="83" height="1.05" fill="url(#cr9)"/>
<rect x="580" y="290.20" width="83" height="1.05" fill="url(#cr10)"/>
<rect x="580" y="291.20" width="83" height="1.05" fill="url(#cr11)"/>
<rect x="580" y="292.20" width="83" height="1.05" fill="url(#cr12)"/>
<rect x="580" y="293.20" width="83" height="1.05" fill="url(#cr13)"/>
<rect x="580" y="294.20" width="83" height="1.05" fill="url(#cr14)"/>
<rect x="580" y="295.20" width="83" height="1.05" fill="url(#cr15)"/>
<rect x="580" y="296.20" width="83" height="1.05" fill="url(#cr16)"/>
<rect x="580" y="297.20" width="83" height="1.05" fill="url(#cr17)"/>
<rect x="580" y="298.20" width="83" height="1.05" fill="url(#cr18)"/>
<rect x="580" y="299.20" width="83" height="1.05" fill="url(#cr19)"/>
<rect x="580" y="300.20" width="83" height="1.05" fill="url(#cr20)"/>
<rect x="580" y="301.20" width="83" height="1.05" fill="url(#cr21)"/>
<rect x="580" y="302.20" width="83" height="1.05" fill="url(#cr22)"/>
<rect x="580" y="303.20" width="83" height="1.05" fill="url(#cr23)"/>
<rect x="580" y="304.20" width="83" height="1.05" fill="url(#cr24)"/>
<rect x="580" y="305.20" width="83" height="1.05" fill="url(#cr25)"/>
<rect x="580" y="306.20" width="83" height="1.05" fill="url(#cr26)"/>
<rect x="580" y="307.20" width="83" height="1.05" fill="url(#cr27)"/>
<rect x="580" y="308.20" width="83" height="1.05" fill="url(#cr28)"/>
<rect x="580" y="309.20" width="83" height="1.05" fill="url(#cr29)"/>
<rect x="580" y="310.20" width="83" height="1.05" fill="url(#cr30)"/>
<rect x="580" y="311.20" width="83" height="1.05" fill="url(#cr31)"/>
<rect x="580" y="312.20" width="83" height="1.05" fill="url(#cr32)"/>
<rect x="580" y="313.20" width="83" height="1.05" fill="url(#cr33)"/>
<rect x="580" y="314.20" width="83" height="1.05" fill="url(#cr34)"/>
<rect x="580" y="315.20" width="83" height="1.05" fill="url(#cr35)"/>
<rect x="580" y="316.20" width="83" height="1.05" fill="url(#cr36)"/>
<rect x="580" y="317.20" width="83" height="1.05" fill="url(#cr37)"/>
<rect x="580" y="318.20" width="83" height="1.05" fill="url(#cr38)"/>
<rect x="580" y="319.20" width="83" height="1.05" fill="url(#cr39)"/>
<rect x="580" y="320.20" width="83" height="1.05" fill="url(#cr40)"/>
<rect x="580" y="321.20" width="83" height="1.05" fill="url(#cr41)"/>
</g>
<path d="M585.4,280.2 L587.6,286.6 L589.6,292.5 L591.5,298.5 L594.7,306.6 L597.2,311.7 L599.2,314.9 L600.7,316.7 L602.9,318.8 L604.6,320.4 L605.4,321.6" fill="none" stroke="#111" stroke-width="1.1" stroke-linejoin="round"/>
<line x1="575.60" y1="280.00" x2="575.60" y2="322.20" stroke="#111" stroke-width="0.9"/>
<line x1="575.60" y1="322.20" x2="662.80" y2="322.20" stroke="#111" stroke-width="0.9"/>
<line x1="575.60" y1="322.20" x2="575.60" y2="323.80" stroke="#111" stroke-width="0.6"/>
<text x="575.60" y="329.40" font-size="6.9" font-weight="bold" text-anchor="middle" fill="#000">0.0</text>
<line x1="584.32" y1="322.20" x2="584.32" y2="323.20" stroke="#111" stroke-width="0.6"/>
<line x1="593.04" y1="322.20" x2="593.04" y2="323.80" stroke="#111" stroke-width="0.6"/>
<text x="593.04" y="329.40" font-size="6.9" font-weight="bold" text-anchor="middle" fill="#000">0.1</text>
<line x1="601.76" y1="322.20" x2="601.76" y2="323.20" stroke="#111" stroke-width="0.6"/>
<line x1="610.48" y1="322.20" x2="610.48" y2="323.80" stroke="#111" stroke-width="0.6"/>
<text x="610.48" y="329.40" font-size="6.9" font-weight="bold" text-anchor="middle" fill="#000">0.2</text>
<line x1="619.20" y1="322.20" x2="619.20" y2="323.20" stroke="#111" stroke-width="0.6"/>
<line x1="627.92" y1="322.20" x2="627.92" y2="323.80" stroke="#111" stroke-width="0.6"/>
<text x="627.92" y="329.40" font-size="6.9" font-weight="bold" text-anchor="middle" fill="#000">0.3</text>
<line x1="636.64" y1="322.20" x2="636.64" y2="323.20" stroke="#111" stroke-width="0.6"/>
<line x1="645.36" y1="322.20" x2="645.36" y2="323.80" stroke="#111" stroke-width="0.6"/>
<text x="645.36" y="329.40" font-size="6.9" font-weight="bold" text-anchor="middle" fill="#000">0.4</text>
<line x1="654.08" y1="322.20" x2="654.08" y2="323.20" stroke="#111" stroke-width="0.6"/>
<line x1="662.80" y1="322.20" x2="662.80" y2="323.80" stroke="#111" stroke-width="0.6"/>
<text x="662.80" y="329.40" font-size="6.9" font-weight="bold" text-anchor="middle" fill="#000">0.5</text>
<line x1="574.00" y1="321.90" x2="575.60" y2="321.90" stroke="#111" stroke-width="0.6"/>
<text x="573.00" y="324.30" font-size="6.9" font-weight="bold" text-anchor="end" fill="#000">0.0</text>
<line x1="574.60" y1="313.10" x2="575.60" y2="313.10" stroke="#111" stroke-width="0.6"/>
<line x1="574.00" y1="304.30" x2="575.60" y2="304.30" stroke="#111" stroke-width="0.6"/>
<text x="573.00" y="306.70" font-size="6.9" font-weight="bold" text-anchor="end" fill="#000">0.1</text>
<line x1="574.60" y1="295.50" x2="575.60" y2="295.50" stroke="#111" stroke-width="0.6"/>
<line x1="574.00" y1="286.70" x2="575.60" y2="286.70" stroke="#111" stroke-width="0.6"/>
<text x="573.00" y="289.10" font-size="6.9" font-weight="bold" text-anchor="end" fill="#000">0.2</text>
<text x="646.70" y="336.60" font-size="7.0" font-weight="bold" text-anchor="middle" fill="#000">x</text>
<text x="588.20" y="302.20" font-size="6.6" font-weight="bold" text-anchor="end" fill="#2020ff">480</text>
<line x1="588.40" y1="299.80" x2="591.00" y2="299.80" stroke="#111" stroke-width="0.7"/>
<text x="599.20" y="322.00" font-size="6.6" font-weight="bold" text-anchor="end" fill="#2020ff">460</text>
<circle cx="604.60" cy="314.60" r="1.9" fill="#fff" stroke="none" stroke-width="1"/>
<circle cx="606.80" cy="316.70" r="1.9" fill="#fff" stroke="none" stroke-width="1"/>
<line x1="599.30" y1="287.60" x2="603.60" y2="311.20" stroke="#f01010" stroke-width="1.2"/>
<path d="M603.60,311.20 L601.55,308.32 L604.50,307.78 Z" fill="#ee1010" stroke="none" stroke-width="1"/>
<line x1="627.80" y1="297.80" x2="610.60" y2="314.50" stroke="#f01010" stroke-width="1.2"/>
<path d="M610.60,314.50 L611.85,311.19 L613.94,313.35 Z" fill="#ee1010" stroke="none" stroke-width="1"/>
<text x="587.40" y="285.80" font-size="4.75" font-weight="bold" text-anchor="start" fill="#ffffff">Device-1 (0.166, 0.047)</text>
<text x="610.20" y="295.50" font-size="4.85" font-weight="bold" text-anchor="start" fill="#ffffff">Device-2 (0.173, 0.043)</text>
<text x="0.50" y="443.20" font-size="13" font-weight="bold" text-anchor="start" fill="#000">g</text>
<rect x="40.60" y="458.60" width="172.00" height="124.90" fill="url(#bgL)" stroke="none" stroke-width="1"/>
<path d="M48.50,499.80 L63.50,498.90 L76.10,498.30 L87.30,498.00 L97.40,497.80 L105.90,497.90 L114.50,498.30 L122.10,498.60 L128.30,499.30 L134.20,500.20 L139.80,501.30 L144.70,502.20 L148.90,503.50 L153.00,504.80 L156.50,506.10 L159.80,507.70 L162.80,509.40 L165.70,511.40 L168.30,513.40 L170.70,515.70 L172.70,517.90 L174.50,520.60 L176.00,523.20 L176.90,525.20 L176.50,527.50" fill="none" stroke="#ff3c3c" stroke-width="0.9"/>
<circle cx="48.50" cy="499.80" r="2.5" fill="url(#ballR)" stroke="none" stroke-width="1"/>
<circle cx="63.50" cy="498.90" r="2.5" fill="url(#ballR)" stroke="none" stroke-width="1"/>
<circle cx="76.10" cy="498.30" r="2.5" fill="url(#ballR)" stroke="none" stroke-width="1"/>
<circle cx="87.30" cy="498.00" r="2.5" fill="url(#ballR)" stroke="none" stroke-width="1"/>
<circle cx="97.40" cy="497.80" r="2.5" fill="url(#ballR)" stroke="none" stroke-width="1"/>
<circle cx="105.90" cy="497.90" r="2.5" fill="url(#ballR)" stroke="none" stroke-width="1"/>
<circle cx="114.50" cy="498.30" r="2.5" fill="url(#ballR)" stroke="none" stroke-width="1"/>
<circle cx="122.10" cy="498.60" r="2.5" fill="url(#ballR)" stroke="none" stroke-width="1"/>
<circle cx="128.30" cy="499.30" r="2.5" fill="url(#ballR)" stroke="none" stroke-width="1"/>
<circle cx="134.20" cy="500.20" r="2.5" fill="url(#ballR)" stroke="none" stroke-width="1"/>
<circle cx="139.80" cy="501.30" r="2.5" fill="url(#ballR)" stroke="none" stroke-width="1"/>
<circle cx="144.70" cy="502.20" r="2.5" fill="url(#ballR)" stroke="none" stroke-width="1"/>
<circle cx="148.90" cy="503.50" r="2.5" fill="url(#ballR)" stroke="none" stroke-width="1"/>
<circle cx="153.00" cy="504.80" r="2.5" fill="url(#ballR)" stroke="none" stroke-width="1"/>
<circle cx="156.50" cy="506.10" r="2.5" fill="url(#ballR)" stroke="none" stroke-width="1"/>
<circle cx="159.80" cy="507.70" r="2.5" fill="url(#ballR)" stroke="none" stroke-width="1"/>
<circle cx="162.80" cy="509.40" r="2.5" fill="url(#ballR)" stroke="none" stroke-width="1"/>
<circle cx="165.70" cy="511.40" r="2.5" fill="url(#ballR)" stroke="none" stroke-width="1"/>
<circle cx="168.30" cy="513.40" r="2.5" fill="url(#ballR)" stroke="none" stroke-width="1"/>
<circle cx="170.70" cy="515.70" r="2.5" fill="url(#ballR)" stroke="none" stroke-width="1"/>
<circle cx="172.70" cy="517.90" r="2.5" fill="url(#ballR)" stroke="none" stroke-width="1"/>
<circle cx="174.50" cy="520.60" r="2.5" fill="url(#ballR)" stroke="none" stroke-width="1"/>
<circle cx="176.00" cy="523.20" r="2.5" fill="url(#ballR)" stroke="none" stroke-width="1"/>
<circle cx="176.90" cy="525.20" r="2.5" fill="url(#ballR)" stroke="none" stroke-width="1"/>
<circle cx="176.50" cy="527.50" r="2.5" fill="url(#ballR)" stroke="none" stroke-width="1"/>
<path d="M48.50,482.00 L63.50,482.70 L76.10,483.60 L87.30,484.40 L97.40,485.30 L105.90,486.00 L114.50,486.80 L122.10,487.70 L128.30,488.80 L134.20,490.00 L139.80,491.00 L144.70,492.10 L148.90,493.40 L153.00,494.70 L156.50,496.00 L159.80,497.60 L162.80,499.20 L165.70,500.90 L168.30,502.60 L170.70,504.40 L172.70,506.50 L174.50,508.80 L176.00,511.40 L177.30,514.70 L178.20,518.00 L178.60,521.90" fill="none" stroke="#0000ff" stroke-width="0.9"/>
<circle cx="48.50" cy="482.00" r="2.5" fill="url(#ballB)" stroke="none" stroke-width="1"/>
<circle cx="63.50" cy="482.70" r="2.5" fill="url(#ballB)" stroke="none" stroke-width="1"/>
<circle cx="76.10" cy="483.60" r="2.5" fill="url(#ballB)" stroke="none" stroke-width="1"/>
<circle cx="87.30" cy="484.40" r="2.5" fill="url(#ballB)" stroke="none" stroke-width="1"/>
<circle cx="97.40" cy="485.30" r="2.5" fill="url(#ballB)" stroke="none" stroke-width="1"/>
<circle cx="105.90" cy="486.00" r="2.5" fill="url(#ballB)" stroke="none" stroke-width="1"/>
<circle cx="114.50" cy="486.80" r="2.5" fill="url(#ballB)" stroke="none" stroke-width="1"/>
<circle cx="122.10" cy="487.70" r="2.5" fill="url(#ballB)" stroke="none" stroke-width="1"/>
<circle cx="128.30" cy="488.80" r="2.5" fill="url(#ballB)" stroke="none" stroke-width="1"/>
<circle cx="134.20" cy="490.00" r="2.5" fill="url(#ballB)" stroke="none" stroke-width="1"/>
<circle cx="139.80" cy="491.00" r="2.5" fill="url(#ballB)" stroke="none" stroke-width="1"/>
<circle cx="144.70" cy="492.10" r="2.5" fill="url(#ballB)" stroke="none" stroke-width="1"/>
<circle cx="148.90" cy="493.40" r="2.5" fill="url(#ballB)" stroke="none" stroke-width="1"/>
<circle cx="153.00" cy="494.70" r="2.5" fill="url(#ballB)" stroke="none" stroke-width="1"/>
<circle cx="156.50" cy="496.00" r="2.5" fill="url(#ballB)" stroke="none" stroke-width="1"/>
<circle cx="159.80" cy="497.60" r="2.5" fill="url(#ballB)" stroke="none" stroke-width="1"/>
<circle cx="162.80" cy="499.20" r="2.5" fill="url(#ballB)" stroke="none" stroke-width="1"/>
<circle cx="165.70" cy="500.90" r="2.5" fill="url(#ballB)" stroke="none" stroke-width="1"/>
<circle cx="168.30" cy="502.60" r="2.5" fill="url(#ballB)" stroke="none" stroke-width="1"/>
<circle cx="170.70" cy="504.40" r="2.5" fill="url(#ballB)" stroke="none" stroke-width="1"/>
<circle cx="172.70" cy="506.50" r="2.5" fill="url(#ballB)" stroke="none" stroke-width="1"/>
<circle cx="174.50" cy="508.80" r="2.5" fill="url(#ballB)" stroke="none" stroke-width="1"/>
<circle cx="176.00" cy="511.40" r="2.5" fill="url(#ballB)" stroke="none" stroke-width="1"/>
<circle cx="177.30" cy="514.70" r="2.5" fill="url(#ballB)" stroke="none" stroke-width="1"/>
<circle cx="178.20" cy="518.00" r="2.5" fill="url(#ballB)" stroke="none" stroke-width="1"/>
<circle cx="178.60" cy="521.90" r="2.5" fill="url(#ballB)" stroke="none" stroke-width="1"/>
<rect x="40.60" y="458.60" width="172.00" height="124.90" fill="none" stroke="#333" stroke-width="1"/>
<line x1="40.60" y1="583.50" x2="40.60" y2="585.70" stroke="#333" stroke-width="0.7"/>
<line x1="57.86" y1="583.50" x2="57.86" y2="584.70" stroke="#333" stroke-width="0.7"/>
<line x1="67.95" y1="583.50" x2="67.95" y2="584.70" stroke="#333" stroke-width="0.7"/>
<line x1="75.12" y1="583.50" x2="75.12" y2="584.70" stroke="#333" stroke-width="0.7"/>
<line x1="80.67" y1="583.50" x2="80.67" y2="584.70" stroke="#333" stroke-width="0.7"/>
<line x1="85.21" y1="583.50" x2="85.21" y2="584.70" stroke="#333" stroke-width="0.7"/>
<line x1="89.05" y1="583.50" x2="89.05" y2="584.70" stroke="#333" stroke-width="0.7"/>
<line x1="92.37" y1="583.50" x2="92.37" y2="584.70" stroke="#333" stroke-width="0.7"/>
<line x1="95.31" y1="583.50" x2="95.31" y2="584.70" stroke="#333" stroke-width="0.7"/>
<line x1="97.93" y1="583.50" x2="97.93" y2="585.70" stroke="#333" stroke-width="0.7"/>
<line x1="115.19" y1="583.50" x2="115.19" y2="584.70" stroke="#333" stroke-width="0.7"/>
<line x1="125.28" y1="583.50" x2="125.28" y2="584.70" stroke="#333" stroke-width="0.7"/>
<line x1="132.45" y1="583.50" x2="132.45" y2="584.70" stroke="#333" stroke-width="0.7"/>
<line x1="138.00" y1="583.50" x2="138.00" y2="584.70" stroke="#333" stroke-width="0.7"/>
<line x1="142.54" y1="583.50" x2="142.54" y2="584.70" stroke="#333" stroke-width="0.7"/>
<line x1="146.38" y1="583.50" x2="146.38" y2="584.70" stroke="#333" stroke-width="0.7"/>
<line x1="149.70" y1="583.50" x2="149.70" y2="584.70" stroke="#333" stroke-width="0.7"/>
<line x1="152.64" y1="583.50" x2="152.64" y2="584.70" stroke="#333" stroke-width="0.7"/>
<line x1="155.26" y1="583.50" x2="155.26" y2="585.70" stroke="#333" stroke-width="0.7"/>
<line x1="172.52" y1="583.50" x2="172.52" y2="584.70" stroke="#333" stroke-width="0.7"/>
<line x1="182.61" y1="583.50" x2="182.61" y2="584.70" stroke="#333" stroke-width="0.7"/>
<line x1="189.78" y1="583.50" x2="189.78" y2="584.70" stroke="#333" stroke-width="0.7"/>
<line x1="195.33" y1="583.50" x2="195.33" y2="584.70" stroke="#333" stroke-width="0.7"/>
<line x1="199.87" y1="583.50" x2="199.87" y2="584.70" stroke="#333" stroke-width="0.7"/>
<line x1="203.71" y1="583.50" x2="203.71" y2="584.70" stroke="#333" stroke-width="0.7"/>
<line x1="207.03" y1="583.50" x2="207.03" y2="584.70" stroke="#333" stroke-width="0.7"/>
<line x1="209.97" y1="583.50" x2="209.97" y2="584.70" stroke="#333" stroke-width="0.7"/>
<line x1="212.60" y1="583.50" x2="212.60" y2="585.70" stroke="#333" stroke-width="0.7"/>
<line x1="38.40" y1="583.50" x2="40.60" y2="583.50" stroke="#333" stroke-width="0.7"/>
<line x1="39.40" y1="564.70" x2="40.60" y2="564.70" stroke="#333" stroke-width="0.7"/>
<line x1="39.40" y1="553.70" x2="40.60" y2="553.70" stroke="#333" stroke-width="0.7"/>
<line x1="39.40" y1="545.90" x2="40.60" y2="545.90" stroke="#333" stroke-width="0.7"/>
<line x1="39.40" y1="539.85" x2="40.60" y2="539.85" stroke="#333" stroke-width="0.7"/>
<line x1="39.40" y1="534.90" x2="40.60" y2="534.90" stroke="#333" stroke-width="0.7"/>
<line x1="39.40" y1="530.72" x2="40.60" y2="530.72" stroke="#333" stroke-width="0.7"/>
<line x1="39.40" y1="527.10" x2="40.60" y2="527.10" stroke="#333" stroke-width="0.7"/>
<line x1="39.40" y1="523.91" x2="40.60" y2="523.91" stroke="#333" stroke-width="0.7"/>
<line x1="38.40" y1="521.05" x2="40.60" y2="521.05" stroke="#333" stroke-width="0.7"/>
<line x1="39.40" y1="502.25" x2="40.60" y2="502.25" stroke="#333" stroke-width="0.7"/>
<line x1="39.40" y1="491.25" x2="40.60" y2="491.25" stroke="#333" stroke-width="0.7"/>
<line x1="39.40" y1="483.45" x2="40.60" y2="483.45" stroke="#333" stroke-width="0.7"/>
<line x1="39.40" y1="477.40" x2="40.60" y2="477.40" stroke="#333" stroke-width="0.7"/>
<line x1="39.40" y1="472.45" x2="40.60" y2="472.45" stroke="#333" stroke-width="0.7"/>
<line x1="39.40" y1="468.27" x2="40.60" y2="468.27" stroke="#333" stroke-width="0.7"/>
<line x1="39.40" y1="464.65" x2="40.60" y2="464.65" stroke="#333" stroke-width="0.7"/>
<line x1="39.40" y1="461.46" x2="40.60" y2="461.46" stroke="#333" stroke-width="0.7"/>
<line x1="38.40" y1="458.60" x2="40.60" y2="458.60" stroke="#333" stroke-width="0.7"/>
<text x="39.10" y="595.90" font-size="7.4" font-weight="bold" text-anchor="start" fill="#000">10<tspan font-size="5.03" dy="-2.81">0</tspan></text>
<text x="98.10" y="595.90" font-size="7.4" font-weight="bold" text-anchor="middle" fill="#000">10<tspan font-size="5.03" dy="-2.81">1</tspan></text>
<text x="155.60" y="595.90" font-size="7.4" font-weight="bold" text-anchor="middle" fill="#000">10<tspan font-size="5.03" dy="-2.81">2</tspan></text>
<text x="213.20" y="595.90" font-size="7.4" font-weight="bold" text-anchor="middle" fill="#000">10<tspan font-size="5.03" dy="-2.81">3</tspan></text>
<text x="36.00" y="586.40" font-size="7.4" font-weight="bold" text-anchor="end" fill="#000">10<tspan font-size="5.03" dy="-2.81">-1</tspan></text>
<text x="36.00" y="523.60" font-size="7.4" font-weight="bold" text-anchor="end" fill="#000">10<tspan font-size="5.03" dy="-2.81">0</tspan></text>
<text x="36.00" y="463.40" font-size="7.4" font-weight="bold" text-anchor="end" fill="#000">10<tspan font-size="5.03" dy="-2.81">1</tspan></text>
<text x="127.30" y="609.40" font-size="8.2" font-weight="bold" text-anchor="middle" fill="#000">Luminance (cd/m<tspan font-size="5.2" dy="-3">2</tspan><tspan dy="3">)</tspan></text>
<text x="12.90" y="521.60" font-size="7.6" font-weight="bold" text-anchor="middle" fill="#000" transform="rotate(-90 12.90 521.60)">External Quantum Efficiency (%)</text>
<line x1="157.80" y1="465.60" x2="174.20" y2="465.60" stroke="#ff3c3c" stroke-width="0.9"/>
<circle cx="165.70" cy="465.60" r="2.5" fill="url(#ballR)" stroke="none" stroke-width="1"/>
<line x1="157.80" y1="475.30" x2="174.20" y2="475.30" stroke="#0000ff" stroke-width="0.9"/>
<circle cx="165.70" cy="475.30" r="2.5" fill="url(#ballB)" stroke="none" stroke-width="1"/>
<text x="177.00" y="467.10" font-size="8.05" font-weight="bold" text-anchor="start" fill="#000">Device 1</text>
<text x="177.00" y="476.70" font-size="8.05" font-weight="bold" text-anchor="start" fill="#000">Device 2</text>
<text x="228.00" y="422.70" font-size="13" font-weight="bold" text-anchor="start" fill="#000">h</text>
<rect x="253.40" y="435.00" width="167.10" height="146.90" fill="url(#bgL)" stroke="none" stroke-width="1"/>
<clipPath id="clipH"><rect x="253.4" y="435" width="167.1" height="146.9"/></clipPath><g clip-path="url(#clipH)">
<path d="M253.10,582.00 L257.88,582.00 L262.66,582.00 L267.44,582.00 L272.22,582.00 L277.00,582.00 L281.78,582.00 L286.56,582.00 L291.34,582.00 L296.12,582.00 L300.90,582.00 L305.68,581.80 L310.46,581.30 L315.24,580.80 L320.02,580.10 L324.80,579.30 L329.58,578.40 L334.36,577.10 L339.14,575.80 L343.92,574.20 L348.70,572.30 L353.48,570.30 L358.26,568.00 L363.04,565.30 L367.82,562.30 L372.60,559.30 L377.38,556.10 L382.16,552.80 L386.94,549.30 L391.72,545.70 L396.50,541.80 L401.28,537.60 L406.06,533.00 L410.84,528.00 L415.62,522.80 L420.40,517.30" fill="none" stroke="#0000ff" stroke-width="0.9"/>
<circle cx="253.10" cy="582.00" r="2.5" fill="url(#ballB)" stroke="none" stroke-width="1"/>
<circle cx="257.88" cy="582.00" r="2.5" fill="url(#ballB)" stroke="none" stroke-width="1"/>
<circle cx="262.66" cy="582.00" r="2.5" fill="url(#ballB)" stroke="none" stroke-width="1"/>
<circle cx="267.44" cy="582.00" r="2.5" fill="url(#ballB)" stroke="none" stroke-width="1"/>
<circle cx="272.22" cy="582.00" r="2.5" fill="url(#ballB)" stroke="none" stroke-width="1"/>
<circle cx="277.00" cy="582.00" r="2.5" fill="url(#ballB)" stroke="none" stroke-width="1"/>
<circle cx="281.78" cy="582.00" r="2.5" fill="url(#ballB)" stroke="none" stroke-width="1"/>
<circle cx="286.56" cy="582.00" r="2.5" fill="url(#ballB)" stroke="none" stroke-width="1"/>
<circle cx="291.34" cy="582.00" r="2.5" fill="url(#ballB)" stroke="none" stroke-width="1"/>
<circle cx="296.12" cy="582.00" r="2.5" fill="url(#ballB)" stroke="none" stroke-width="1"/>
<circle cx="300.90" cy="582.00" r="2.5" fill="url(#ballB)" stroke="none" stroke-width="1"/>
<circle cx="305.68" cy="581.80" r="2.5" fill="url(#ballB)" stroke="none" stroke-width="1"/>
<circle cx="310.46" cy="581.30" r="2.5" fill="url(#ballB)" stroke="none" stroke-width="1"/>
<circle cx="315.24" cy="580.80" r="2.5" fill="url(#ballB)" stroke="none" stroke-width="1"/>
<circle cx="320.02" cy="580.10" r="2.5" fill="url(#ballB)" stroke="none" stroke-width="1"/>
<circle cx="324.80" cy="579.30" r="2.5" fill="url(#ballB)" stroke="none" stroke-width="1"/>
<circle cx="329.58" cy="578.40" r="2.5" fill="url(#ballB)" stroke="none" stroke-width="1"/>
<circle cx="334.36" cy="577.10" r="2.5" fill="url(#ballB)" stroke="none" stroke-width="1"/>
<circle cx="339.14" cy="575.80" r="2.5" fill="url(#ballB)" stroke="none" stroke-width="1"/>
<circle cx="343.92" cy="574.20" r="2.5" fill="url(#ballB)" stroke="none" stroke-width="1"/>
<circle cx="348.70" cy="572.30" r="2.5" fill="url(#ballB)" stroke="none" stroke-width="1"/>
<circle cx="353.48" cy="570.30" r="2.5" fill="url(#ballB)" stroke="none" stroke-width="1"/>
<circle cx="358.26" cy="568.00" r="2.5" fill="url(#ballB)" stroke="none" stroke-width="1"/>
<circle cx="363.04" cy="565.30" r="2.5" fill="url(#ballB)" stroke="none" stroke-width="1"/>
<circle cx="367.82" cy="562.30" r="2.5" fill="url(#ballB)" stroke="none" stroke-width="1"/>
<circle cx="372.60" cy="559.30" r="2.5" fill="url(#ballB)" stroke="none" stroke-width="1"/>
<circle cx="377.38" cy="556.10" r="2.5" fill="url(#ballB)" stroke="none" stroke-width="1"/>
<circle cx="382.16" cy="552.80" r="2.5" fill="url(#ballB)" stroke="none" stroke-width="1"/>
<circle cx="386.94" cy="549.30" r="2.5" fill="url(#ballB)" stroke="none" stroke-width="1"/>
<circle cx="391.72" cy="545.70" r="2.5" fill="url(#ballB)" stroke="none" stroke-width="1"/>
<circle cx="396.50" cy="541.80" r="2.5" fill="url(#ballB)" stroke="none" stroke-width="1"/>
<circle cx="401.28" cy="537.60" r="2.5" fill="url(#ballB)" stroke="none" stroke-width="1"/>
<circle cx="406.06" cy="533.00" r="2.5" fill="url(#ballB)" stroke="none" stroke-width="1"/>
<circle cx="410.84" cy="528.00" r="2.5" fill="url(#ballB)" stroke="none" stroke-width="1"/>
<circle cx="415.62" cy="522.80" r="2.5" fill="url(#ballB)" stroke="none" stroke-width="1"/>
<circle cx="420.40" cy="517.30" r="2.5" fill="url(#ballB)" stroke="none" stroke-width="1"/>
<path d="M253.10,582.00 L257.88,582.00 L262.66,582.00 L267.44,582.00 L272.22,582.00 L277.00,582.00 L281.78,582.00 L286.56,582.00 L291.34,582.00 L296.12,581.80 L300.90,581.30 L305.68,580.80 L310.46,580.10 L315.24,579.30 L320.02,578.40 L324.80,577.10 L329.58,575.80 L334.36,574.20 L339.14,572.30 L343.92,570.30 L348.70,568.00 L353.48,565.30 L358.26,562.30 L363.04,559.30 L367.82,556.10 L372.60,552.80 L377.38,549.30 L382.16,545.70 L386.94,541.80 L391.72,537.60 L396.50,533.00 L401.28,528.00 L406.06,522.80" fill="none" stroke="#ff3c3c" stroke-width="0.9"/>
<circle cx="253.10" cy="582.00" r="2.5" fill="url(#ballR)" stroke="none" stroke-width="1"/>
<circle cx="257.88" cy="582.00" r="2.5" fill="url(#ballR)" stroke="none" stroke-width="1"/>
<circle cx="262.66" cy="582.00" r="2.5" fill="url(#ballR)" stroke="none" stroke-width="1"/>
<circle cx="267.44" cy="582.00" r="2.5" fill="url(#ballR)" stroke="none" stroke-width="1"/>
<circle cx="272.22" cy="582.00" r="2.5" fill="url(#ballR)" stroke="none" stroke-width="1"/>
<circle cx="277.00" cy="582.00" r="2.5" fill="url(#ballR)" stroke="none" stroke-width="1"/>
<circle cx="281.78" cy="582.00" r="2.5" fill="url(#ballR)" stroke="none" stroke-width="1"/>
<circle cx="286.56" cy="582.00" r="2.5" fill="url(#ballR)" stroke="none" stroke-width="1"/>
<circle cx="291.34" cy="582.00" r="2.5" fill="url(#ballR)" stroke="none" stroke-width="1"/>
<circle cx="296.12" cy="581.80" r="2.5" fill="url(#ballR)" stroke="none" stroke-width="1"/>
<circle cx="300.90" cy="581.30" r="2.5" fill="url(#ballR)" stroke="none" stroke-width="1"/>
<circle cx="305.68" cy="580.80" r="2.5" fill="url(#ballR)" stroke="none" stroke-width="1"/>
<circle cx="310.46" cy="580.10" r="2.5" fill="url(#ballR)" stroke="none" stroke-width="1"/>
<circle cx="315.24" cy="579.30" r="2.5" fill="url(#ballR)" stroke="none" stroke-width="1"/>
<circle cx="320.02" cy="578.40" r="2.5" fill="url(#ballR)" stroke="none" stroke-width="1"/>
<circle cx="324.80" cy="577.10" r="2.5" fill="url(#ballR)" stroke="none" stroke-width="1"/>
<circle cx="329.58" cy="575.80" r="2.5" fill="url(#ballR)" stroke="none" stroke-width="1"/>
<circle cx="334.36" cy="574.20" r="2.5" fill="url(#ballR)" stroke="none" stroke-width="1"/>
<circle cx="339.14" cy="572.30" r="2.5" fill="url(#ballR)" stroke="none" stroke-width="1"/>
<circle cx="343.92" cy="570.30" r="2.5" fill="url(#ballR)" stroke="none" stroke-width="1"/>
<circle cx="348.70" cy="568.00" r="2.5" fill="url(#ballR)" stroke="none" stroke-width="1"/>
<circle cx="353.48" cy="565.30" r="2.5" fill="url(#ballR)" stroke="none" stroke-width="1"/>
<circle cx="358.26" cy="562.30" r="2.5" fill="url(#ballR)" stroke="none" stroke-width="1"/>
<circle cx="363.04" cy="559.30" r="2.5" fill="url(#ballR)" stroke="none" stroke-width="1"/>
<circle cx="367.82" cy="556.10" r="2.5" fill="url(#ballR)" stroke="none" stroke-width="1"/>
<circle cx="372.60" cy="552.80" r="2.5" fill="url(#ballR)" stroke="none" stroke-width="1"/>
<circle cx="377.38" cy="549.30" r="2.5" fill="url(#ballR)" stroke="none" stroke-width="1"/>
<circle cx="382.16" cy="545.70" r="2.5" fill="url(#ballR)" stroke="none" stroke-width="1"/>
<circle cx="386.94" cy="541.80" r="2.5" fill="url(#ballR)" stroke="none" stroke-width="1"/>
<circle cx="391.72" cy="537.60" r="2.5" fill="url(#ballR)" stroke="none" stroke-width="1"/>
<circle cx="396.50" cy="533.00" r="2.5" fill="url(#ballR)" stroke="none" stroke-width="1"/>
<circle cx="401.28" cy="528.00" r="2.5" fill="url(#ballR)" stroke="none" stroke-width="1"/>
<circle cx="406.06" cy="522.80" r="2.5" fill="url(#ballR)" stroke="none" stroke-width="1"/>
<path d="M253.10,582.00 L257.88,582.00 L262.66,582.00 L267.44,582.00 L272.22,582.00 L277.00,582.00 L281.78,582.00 L286.56,575.60 L291.34,562.50 L296.12,551.80 L300.90,541.70 L305.68,533.00 L310.46,525.20 L315.24,518.70 L320.02,512.20 L324.80,507.20 L329.58,501.70 L334.36,497.30 L339.14,493.90 L343.92,490.00 L348.70,486.10 L353.48,483.00 L358.26,480.40 L363.04,477.80 L367.82,475.70 L372.60,473.30 L377.38,471.20 L382.16,469.70 L386.94,468.40 L391.72,467.30 L396.50,466.50 L401.28,465.80 L406.06,465.20 L410.84,464.70 L415.62,464.40 L420.40,464.20" fill="none" stroke="#0000ff" stroke-width="0.9"/>
<circle cx="253.10" cy="582.00" r="2.5" fill="url(#ballB)" stroke="none" stroke-width="1"/>
<circle cx="257.88" cy="582.00" r="2.5" fill="url(#ballB)" stroke="none" stroke-width="1"/>
<circle cx="262.66" cy="582.00" r="2.5" fill="url(#ballB)" stroke="none" stroke-width="1"/>
<circle cx="267.44" cy="582.00" r="2.5" fill="url(#ballB)" stroke="none" stroke-width="1"/>
<circle cx="272.22" cy="582.00" r="2.5" fill="url(#ballB)" stroke="none" stroke-width="1"/>
<circle cx="277.00" cy="582.00" r="2.5" fill="url(#ballB)" stroke="none" stroke-width="1"/>
<circle cx="281.78" cy="582.00" r="2.5" fill="url(#ballB)" stroke="none" stroke-width="1"/>
<circle cx="286.56" cy="575.60" r="2.5" fill="url(#ballB)" stroke="none" stroke-width="1"/>
<circle cx="291.34" cy="562.50" r="2.5" fill="url(#ballB)" stroke="none" stroke-width="1"/>
<circle cx="296.12" cy="551.80" r="2.5" fill="url(#ballB)" stroke="none" stroke-width="1"/>
<circle cx="300.90" cy="541.70" r="2.5" fill="url(#ballB)" stroke="none" stroke-width="1"/>
<circle cx="305.68" cy="533.00" r="2.5" fill="url(#ballB)" stroke="none" stroke-width="1"/>
<circle cx="310.46" cy="525.20" r="2.5" fill="url(#ballB)" stroke="none" stroke-width="1"/>
<circle cx="315.24" cy="518.70" r="2.5" fill="url(#ballB)" stroke="none" stroke-width="1"/>
<circle cx="320.02" cy="512.20" r="2.5" fill="url(#ballB)" stroke="none" stroke-width="1"/>
<circle cx="324.80" cy="507.20" r="2.5" fill="url(#ballB)" stroke="none" stroke-width="1"/>
<circle cx="329.58" cy="501.70" r="2.5" fill="url(#ballB)" stroke="none" stroke-width="1"/>
<circle cx="334.36" cy="497.30" r="2.5" fill="url(#ballB)" stroke="none" stroke-width="1"/>
<circle cx="339.14" cy="493.90" r="2.5" fill="url(#ballB)" stroke="none" stroke-width="1"/>
<circle cx="343.92" cy="490.00" r="2.5" fill="url(#ballB)" stroke="none" stroke-width="1"/>
<circle cx="348.70" cy="486.10" r="2.5" fill="url(#ballB)" stroke="none" stroke-width="1"/>
<circle cx="353.48" cy="483.00" r="2.5" fill="url(#ballB)" stroke="none" stroke-width="1"/>
<circle cx="358.26" cy="480.40" r="2.5" fill="url(#ballB)" stroke="none" stroke-width="1"/>
<circle cx="363.04" cy="477.80" r="2.5" fill="url(#ballB)" stroke="none" stroke-width="1"/>
<circle cx="367.82" cy="475.70" r="2.5" fill="url(#ballB)" stroke="none" stroke-width="1"/>
<circle cx="372.60" cy="473.30" r="2.5" fill="url(#ballB)" stroke="none" stroke-width="1"/>
<circle cx="377.38" cy="471.20" r="2.5" fill="url(#ballB)" stroke="none" stroke-width="1"/>
<circle cx="382.16" cy="469.70" r="2.5" fill="url(#ballB)" stroke="none" stroke-width="1"/>
<circle cx="386.94" cy="468.40" r="2.5" fill="url(#ballB)" stroke="none" stroke-width="1"/>
<circle cx="391.72" cy="467.30" r="2.5" fill="url(#ballB)" stroke="none" stroke-width="1"/>
<circle cx="396.50" cy="466.50" r="2.5" fill="url(#ballB)" stroke="none" stroke-width="1"/>
<circle cx="401.28" cy="465.80" r="2.5" fill="url(#ballB)" stroke="none" stroke-width="1"/>
<circle cx="406.06" cy="465.20" r="2.5" fill="url(#ballB)" stroke="none" stroke-width="1"/>
<circle cx="410.84" cy="464.70" r="2.5" fill="url(#ballB)" stroke="none" stroke-width="1"/>
<circle cx="415.62" cy="464.40" r="2.5" fill="url(#ballB)" stroke="none" stroke-width="1"/>
<circle cx="420.40" cy="464.20" r="2.5" fill="url(#ballB)" stroke="none" stroke-width="1"/>
<path d="M253.10,582.00 L257.88,582.00 L262.66,582.00 L267.44,582.00 L272.22,582.00 L277.00,582.00 L281.78,582.00 L286.56,573.00 L291.34,559.70 L296.12,548.70 L300.90,537.70 L305.68,529.70 L310.46,521.80 L315.24,514.80 L320.02,508.30 L324.80,503.60 L329.58,498.40 L334.36,493.90 L339.14,490.50 L343.92,486.90 L348.70,484.00 L353.48,481.10 L358.26,479.10 L363.04,477.00 L367.82,475.10 L372.60,473.80 L377.38,472.80 L382.16,471.80 L386.94,471.20 L391.72,471.00 L396.50,470.70 L401.28,470.70 L406.06,471.00" fill="none" stroke="#ff3c3c" stroke-width="0.9"/>
<circle cx="253.10" cy="582.00" r="2.5" fill="url(#ballR)" stroke="none" stroke-width="1"/>
<circle cx="257.88" cy="582.00" r="2.5" fill="url(#ballR)" stroke="none" stroke-width="1"/>
<circle cx="262.66" cy="582.00" r="2.5" fill="url(#ballR)" stroke="none" stroke-width="1"/>
<circle cx="267.44" cy="582.00" r="2.5" fill="url(#ballR)" stroke="none" stroke-width="1"/>
<circle cx="272.22" cy="582.00" r="2.5" fill="url(#ballR)" stroke="none" stroke-width="1"/>
<circle cx="277.00" cy="582.00" r="2.5" fill="url(#ballR)" stroke="none" stroke-width="1"/>
<circle cx="281.78" cy="582.00" r="2.5" fill="url(#ballR)" stroke="none" stroke-width="1"/>
<circle cx="286.56" cy="573.00" r="2.5" fill="url(#ballR)" stroke="none" stroke-width="1"/>
<circle cx="291.34" cy="559.70" r="2.5" fill="url(#ballR)" stroke="none" stroke-width="1"/>
<circle cx="296.12" cy="548.70" r="2.5" fill="url(#ballR)" stroke="none" stroke-width="1"/>
<circle cx="300.90" cy="537.70" r="2.5" fill="url(#ballR)" stroke="none" stroke-width="1"/>
<circle cx="305.68" cy="529.70" r="2.5" fill="url(#ballR)" stroke="none" stroke-width="1"/>
<circle cx="310.46" cy="521.80" r="2.5" fill="url(#ballR)" stroke="none" stroke-width="1"/>
<circle cx="315.24" cy="514.80" r="2.5" fill="url(#ballR)" stroke="none" stroke-width="1"/>
<circle cx="320.02" cy="508.30" r="2.5" fill="url(#ballR)" stroke="none" stroke-width="1"/>
<circle cx="324.80" cy="503.60" r="2.5" fill="url(#ballR)" stroke="none" stroke-width="1"/>
<circle cx="329.58" cy="498.40" r="2.5" fill="url(#ballR)" stroke="none" stroke-width="1"/>
<circle cx="334.36" cy="493.90" r="2.5" fill="url(#ballR)" stroke="none" stroke-width="1"/>
<circle cx="339.14" cy="490.50" r="2.5" fill="url(#ballR)" stroke="none" stroke-width="1"/>
<circle cx="343.92" cy="486.90" r="2.5" fill="url(#ballR)" stroke="none" stroke-width="1"/>
<circle cx="348.70" cy="484.00" r="2.5" fill="url(#ballR)" stroke="none" stroke-width="1"/>
<circle cx="353.48" cy="481.10" r="2.5" fill="url(#ballR)" stroke="none" stroke-width="1"/>
<circle cx="358.26" cy="479.10" r="2.5" fill="url(#ballR)" stroke="none" stroke-width="1"/>
<circle cx="363.04" cy="477.00" r="2.5" fill="url(#ballR)" stroke="none" stroke-width="1"/>
<circle cx="367.82" cy="475.10" r="2.5" fill="url(#ballR)" stroke="none" stroke-width="1"/>
<circle cx="372.60" cy="473.80" r="2.5" fill="url(#ballR)" stroke="none" stroke-width="1"/>
<circle cx="377.38" cy="472.80" r="2.5" fill="url(#ballR)" stroke="none" stroke-width="1"/>
<circle cx="382.16" cy="471.80" r="2.5" fill="url(#ballR)" stroke="none" stroke-width="1"/>
<circle cx="386.94" cy="471.20" r="2.5" fill="url(#ballR)" stroke="none" stroke-width="1"/>
<circle cx="391.72" cy="471.00" r="2.5" fill="url(#ballR)" stroke="none" stroke-width="1"/>
<circle cx="396.50" cy="470.70" r="2.5" fill="url(#ballR)" stroke="none" stroke-width="1"/>
<circle cx="401.28" cy="470.70" r="2.5" fill="url(#ballR)" stroke="none" stroke-width="1"/>
<circle cx="406.06" cy="471.00" r="2.5" fill="url(#ballR)" stroke="none" stroke-width="1"/>
</g>
<rect x="253.40" y="435.00" width="167.10" height="146.90" fill="none" stroke="#333" stroke-width="1"/>
<line x1="253.10" y1="581.90" x2="253.10" y2="583.10" stroke="#333" stroke-width="0.7"/>
<line x1="265.05" y1="581.90" x2="265.05" y2="583.10" stroke="#333" stroke-width="0.7"/>
<line x1="277.00" y1="581.90" x2="277.00" y2="584.10" stroke="#333" stroke-width="0.7"/>
<text x="277.00" y="594.30" font-size="8.1" font-weight="bold" text-anchor="middle" fill="#000">4</text>
<line x1="288.95" y1="581.90" x2="288.95" y2="583.10" stroke="#333" stroke-width="0.7"/>
<line x1="300.90" y1="581.90" x2="300.90" y2="583.10" stroke="#333" stroke-width="0.7"/>
<line x1="312.85" y1="581.90" x2="312.85" y2="583.10" stroke="#333" stroke-width="0.7"/>
<line x1="324.80" y1="581.90" x2="324.80" y2="584.10" stroke="#333" stroke-width="0.7"/>
<text x="324.80" y="594.30" font-size="8.1" font-weight="bold" text-anchor="middle" fill="#000">6</text>
<line x1="336.75" y1="581.90" x2="336.75" y2="583.10" stroke="#333" stroke-width="0.7"/>
<line x1="348.70" y1="581.90" x2="348.70" y2="583.10" stroke="#333" stroke-width="0.7"/>
<line x1="360.65" y1="581.90" x2="360.65" y2="583.10" stroke="#333" stroke-width="0.7"/>
<line x1="372.60" y1="581.90" x2="372.60" y2="584.10" stroke="#333" stroke-width="0.7"/>
<text x="372.60" y="594.30" font-size="8.1" font-weight="bold" text-anchor="middle" fill="#000">8</text>
<line x1="384.55" y1="581.90" x2="384.55" y2="583.10" stroke="#333" stroke-width="0.7"/>
<line x1="396.50" y1="581.90" x2="396.50" y2="583.10" stroke="#333" stroke-width="0.7"/>
<line x1="408.45" y1="581.90" x2="408.45" y2="583.10" stroke="#333" stroke-width="0.7"/>
<line x1="420.40" y1="581.90" x2="420.40" y2="584.10" stroke="#333" stroke-width="0.7"/>
<text x="420.40" y="594.30" font-size="8.1" font-weight="bold" text-anchor="middle" fill="#000">10</text>
<line x1="251.20" y1="581.90" x2="253.40" y2="581.90" stroke="#333" stroke-width="0.7"/>
<line x1="252.20" y1="567.16" x2="253.40" y2="567.16" stroke="#333" stroke-width="0.7"/>
<line x1="252.20" y1="558.54" x2="253.40" y2="558.54" stroke="#333" stroke-width="0.7"/>
<line x1="252.20" y1="552.42" x2="253.40" y2="552.42" stroke="#333" stroke-width="0.7"/>
<line x1="252.20" y1="547.67" x2="253.40" y2="547.67" stroke="#333" stroke-width="0.7"/>
<line x1="252.20" y1="543.80" x2="253.40" y2="543.80" stroke="#333" stroke-width="0.7"/>
<line x1="252.20" y1="540.52" x2="253.40" y2="540.52" stroke="#333" stroke-width="0.7"/>
<line x1="252.20" y1="537.68" x2="253.40" y2="537.68" stroke="#333" stroke-width="0.7"/>
<line x1="252.20" y1="535.17" x2="253.40" y2="535.17" stroke="#333" stroke-width="0.7"/>
<line x1="251.20" y1="532.93" x2="253.40" y2="532.93" stroke="#333" stroke-width="0.7"/>
<line x1="252.20" y1="518.19" x2="253.40" y2="518.19" stroke="#333" stroke-width="0.7"/>
<line x1="252.20" y1="509.57" x2="253.40" y2="509.57" stroke="#333" stroke-width="0.7"/>
<line x1="252.20" y1="503.45" x2="253.40" y2="503.45" stroke="#333" stroke-width="0.7"/>
<line x1="252.20" y1="498.71" x2="253.40" y2="498.71" stroke="#333" stroke-width="0.7"/>
<line x1="252.20" y1="494.83" x2="253.40" y2="494.83" stroke="#333" stroke-width="0.7"/>
<line x1="252.20" y1="491.55" x2="253.40" y2="491.55" stroke="#333" stroke-width="0.7"/>
<line x1="252.20" y1="488.71" x2="253.40" y2="488.71" stroke="#333" stroke-width="0.7"/>
<line x1="252.20" y1="486.21" x2="253.40" y2="486.21" stroke="#333" stroke-width="0.7"/>
<line x1="251.20" y1="483.97" x2="253.40" y2="483.97" stroke="#333" stroke-width="0.7"/>
<line x1="252.20" y1="469.23" x2="253.40" y2="469.23" stroke="#333" stroke-width="0.7"/>
<line x1="252.20" y1="460.60" x2="253.40" y2="460.60" stroke="#333" stroke-width="0.7"/>
<line x1="252.20" y1="454.49" x2="253.40" y2="454.49" stroke="#333" stroke-width="0.7"/>
<line x1="252.20" y1="449.74" x2="253.40" y2="449.74" stroke="#333" stroke-width="0.7"/>
<line x1="252.20" y1="445.86" x2="253.40" y2="445.86" stroke="#333" stroke-width="0.7"/>
<line x1="252.20" y1="442.59" x2="253.40" y2="442.59" stroke="#333" stroke-width="0.7"/>
<line x1="252.20" y1="439.75" x2="253.40" y2="439.75" stroke="#333" stroke-width="0.7"/>
<line x1="252.20" y1="437.24" x2="253.40" y2="437.24" stroke="#333" stroke-width="0.7"/>
<line x1="251.20" y1="435.00" x2="253.40" y2="435.00" stroke="#333" stroke-width="0.7"/>
<text x="248.60" y="584.70" font-size="7.4" font-weight="bold" text-anchor="end" fill="#000">10<tspan font-size="5.03" dy="-2.81">0</tspan></text>
<text x="248.60" y="535.73" font-size="7.4" font-weight="bold" text-anchor="end" fill="#000">10<tspan font-size="5.03" dy="-2.81">1</tspan></text>
<text x="248.60" y="486.77" font-size="7.4" font-weight="bold" text-anchor="end" fill="#000">10<tspan font-size="5.03" dy="-2.81">2</tspan></text>
<text x="248.60" y="437.80" font-size="7.4" font-weight="bold" text-anchor="end" fill="#000">10<tspan font-size="5.03" dy="-2.81">3</tspan></text>
<line x1="420.50" y1="581.90" x2="422.70" y2="581.90" stroke="#333" stroke-width="0.7"/>
<text x="423.70" y="584.70" font-size="8.1" font-weight="bold" text-anchor="start" fill="#000">0</text>
<line x1="420.50" y1="569.66" x2="421.70" y2="569.66" stroke="#333" stroke-width="0.7"/>
<line x1="420.50" y1="557.42" x2="421.70" y2="557.42" stroke="#333" stroke-width="0.7"/>
<line x1="420.50" y1="545.17" x2="421.70" y2="545.17" stroke="#333" stroke-width="0.7"/>
<line x1="420.50" y1="532.93" x2="422.70" y2="532.93" stroke="#333" stroke-width="0.7"/>
<text x="423.70" y="535.73" font-size="8.1" font-weight="bold" text-anchor="start" fill="#000">200</text>
<line x1="420.50" y1="520.69" x2="421.70" y2="520.69" stroke="#333" stroke-width="0.7"/>
<line x1="420.50" y1="508.45" x2="421.70" y2="508.45" stroke="#333" stroke-width="0.7"/>
<line x1="420.50" y1="496.21" x2="421.70" y2="496.21" stroke="#333" stroke-width="0.7"/>
<line x1="420.50" y1="483.97" x2="422.70" y2="483.97" stroke="#333" stroke-width="0.7"/>
<text x="423.70" y="486.77" font-size="8.1" font-weight="bold" text-anchor="start" fill="#000">400</text>
<line x1="420.50" y1="471.73" x2="421.70" y2="471.73" stroke="#333" stroke-width="0.7"/>
<line x1="420.50" y1="459.48" x2="421.70" y2="459.48" stroke="#333" stroke-width="0.7"/>
<line x1="420.50" y1="447.24" x2="421.70" y2="447.24" stroke="#333" stroke-width="0.7"/>
<line x1="420.50" y1="435.00" x2="422.70" y2="435.00" stroke="#333" stroke-width="0.7"/>
<text x="423.70" y="437.80" font-size="8.1" font-weight="bold" text-anchor="start" fill="#000">600</text>
<text x="336.30" y="609.30" font-size="8.3" font-weight="bold" text-anchor="middle" fill="#000">Voltage (V)</text>
<text x="231.30" y="509.00" font-size="8.1" font-weight="bold" text-anchor="middle" fill="#000" transform="rotate(-90 231.30 509.00)">Luminance (cd m<tspan font-size="5.2" dy="-3">-2</tspan><tspan dy="3">)</tspan></text>
<text x="449.60" y="508.30" font-size="8.2" font-weight="bold" text-anchor="middle" fill="#000" transform="rotate(-90 449.60 508.30)">Current Density (mA cm<tspan font-size="5.2" dy="-3">-2</tspan><tspan dy="3">)</tspan></text>
<line x1="260.00" y1="444.70" x2="269.80" y2="444.70" stroke="#ff3c3c" stroke-width="0.9"/>
<circle cx="264.90" cy="444.70" r="2.5" fill="url(#ballR)" stroke="none" stroke-width="1"/>
<line x1="260.00" y1="455.30" x2="269.80" y2="455.30" stroke="#0000ff" stroke-width="0.9"/>
<circle cx="264.90" cy="455.30" r="2.5" fill="url(#ballB)" stroke="none" stroke-width="1"/>
<text x="272.70" y="446.40" font-size="8.0" font-weight="bold" text-anchor="start" fill="#000">Device 1</text>
<text x="272.70" y="457.00" font-size="8.0" font-weight="bold" text-anchor="start" fill="#000">Device 2</text>
<text x="449.80" y="422.70" font-size="13" font-weight="bold" text-anchor="start" fill="#000">i</text>
<rect x="508.60" y="431.50" width="157.70" height="150.60" fill="url(#bgL)" stroke="none" stroke-width="1"/>
<rect x="508.60" y="431.50" width="157.70" height="150.60" fill="none" stroke="#333" stroke-width="1"/>
<path d="M513.71,434.21 h4.18 v4.18 h-4.18 Z" fill="#0000ff" stroke="none" stroke-width="1"/>
<text x="522.00" y="438.40" font-size="5.9" font-weight="bold" text-anchor="start" fill="#000">PBD</text>
<path d="M513.60,443.02 a2.2,2.2 0 1,0 4.4,0 a2.2,2.2 0 1,0 -4.4,0 Z" fill="#0000ff" stroke="none" stroke-width="1"/>
<text x="522.00" y="445.12" font-size="5.9" font-weight="bold" text-anchor="start" fill="#000">TAZ</text>
<path d="M515.80,447.21 L518.33,451.72 L513.27,451.72 Z" fill="#0000ff" stroke="none" stroke-width="1"/>
<text x="522.00" y="451.84" font-size="5.9" font-weight="bold" text-anchor="start" fill="#000">OXD-7</text>
<path d="M515.80,458.99 L518.33,454.48 L513.27,454.48 Z" fill="#0000ff" stroke="none" stroke-width="1"/>
<text x="522.00" y="458.56" font-size="5.9" font-weight="bold" text-anchor="start" fill="#000">PS-4</text>
<path d="M515.80,460.32 L518.66,463.18 L515.80,466.04 L512.94,463.18 Z" fill="#0000ff" stroke="none" stroke-width="1"/>
<text x="522.00" y="465.28" font-size="5.9" font-weight="bold" text-anchor="start" fill="#000">B2</text>
<path d="M513.27,469.90 L517.78,467.37 L517.78,472.43 Z" fill="#0000ff" stroke="none" stroke-width="1"/>
<text x="522.00" y="472.00" font-size="5.9" font-weight="bold" text-anchor="start" fill="#000">TB2</text>
<path d="M518.33,476.62 L513.82,474.09 L513.82,479.15 Z" fill="#0000ff" stroke="none" stroke-width="1"/>
<text x="522.00" y="478.72" font-size="5.9" font-weight="bold" text-anchor="start" fill="#000">1SBFN</text>
<path d="M518.33,483.34 L517.06,485.53 L514.53,485.53 L513.27,483.34 L514.53,481.15 L517.06,481.15 Z" fill="#0000ff" stroke="none" stroke-width="1"/>
<text x="522.00" y="485.44" font-size="5.9" font-weight="bold" text-anchor="start" fill="#000">2SBFN</text>
<path d="M515.80,487.15 L516.47,489.14 L518.57,489.16 L516.88,490.41 L517.51,492.41 L515.80,491.20 L514.09,492.41 L514.72,490.41 L513.03,489.16 L515.13,489.14 Z" fill="#0000ff" stroke="none" stroke-width="1"/>
<text x="522.00" y="492.16" font-size="5.9" font-weight="bold" text-anchor="start" fill="#000">BSBFB</text>
<path d="M515.80,494.25 L518.21,496.00 L517.29,498.83 L514.31,498.83 L513.39,496.00 Z" fill="#0000ff" stroke="none" stroke-width="1"/>
<text x="522.00" y="498.88" font-size="5.9" font-weight="bold" text-anchor="start" fill="#000">TSBFB</text>
<path d="M513.60,503.50 a2.2,2.2 0 1,0 4.4,0 a2.2,2.2 0 1,0 -4.4,0 Z" fill="#ffffff" stroke="#0000ff" stroke-width="0.6"/>
<path d="M513.60,503.50 a2.2,2.2 0 1,0 4.4,0 a2.2,2.2 0 1,0 -4.4,0 Z" fill="#0000ff" clip-path="url(#hL)"/>
<text x="522.00" y="505.60" font-size="5.9" font-weight="bold" text-anchor="start" fill="#000">CBP</text>
<path d="M513.71,508.13 h4.18 v4.18 h-4.18 Z" fill="#ffffff" stroke="#0000ff" stroke-width="0.6"/>
<path d="M513.71,508.13 h4.18 v4.18 h-4.18 Z" fill="#0000ff" clip-path="url(#hT)"/>
<text x="522.00" y="512.32" font-size="5.9" font-weight="bold" text-anchor="start" fill="#000">DPPP</text>
<path d="M513.71,514.85 h4.18 v4.18 h-4.18 Z" fill="#ffffff" stroke="#0000ff" stroke-width="0.6"/>
<path d="M513.71,514.85 h4.18 v4.18 h-4.18 Z" fill="#0000ff" clip-path="url(#hR)"/>
<text x="522.00" y="519.04" font-size="5.9" font-weight="bold" text-anchor="start" fill="#000">SSS</text>
<path d="M513.71,521.57 h4.18 v4.18 h-4.18 Z" fill="#ffffff" stroke="#0000ff" stroke-width="0.6"/>
<path d="M513.71,521.57 h4.18 v4.18 h-4.18 Z" fill="#0000ff" clip-path="url(#hB)"/>
<text x="522.00" y="525.76" font-size="5.9" font-weight="bold" text-anchor="start" fill="#000">Tol-PPI</text>
<path d="M513.71,528.29 h4.18 v4.18 h-4.18 Z" fill="#ffffff" stroke="#8a00f0" stroke-width="0.6"/>
<path d="M513.71,528.29 h4.18 v4.18 h-4.18 Z" fill="#8a00f0" clip-path="url(#hL)"/>
<text x="522.00" y="532.48" font-size="5.9" font-weight="bold" text-anchor="start" fill="#000">3a</text>
<path d="M513.60,537.10 a2.2,2.2 0 1,0 4.4,0 a2.2,2.2 0 1,0 -4.4,0 Z" fill="#ffffff" stroke="#8a00f0" stroke-width="0.6"/>
<path d="M513.60,537.10 a2.2,2.2 0 1,0 4.4,0 a2.2,2.2 0 1,0 -4.4,0 Z" fill="#8a00f0" clip-path="url(#hB)"/>
<text x="522.00" y="539.20" font-size="5.9" font-weight="bold" text-anchor="start" fill="#000">Purine 2</text>
<path d="M551.40,433.64 L554.26,436.50 L551.40,439.36 L548.54,436.50 Z" fill="#ffffff" stroke="#5cb82e" stroke-width="0.6"/>
<path d="M551.40,433.64 L554.26,436.50 L551.40,439.36 L548.54,436.50 Z" fill="#5cb82e" clip-path="url(#hB)"/>
<text x="555.90" y="438.60" font-size="5.9" font-weight="bold" text-anchor="start" fill="#000">2Na-CzCN</text>
<path d="M551.40,440.28 L554.26,443.14 L551.40,446.00 L548.54,443.14 Z" fill="#ffffff" stroke="#5cb82e" stroke-width="0.6"/>
<path d="M551.40,440.28 L554.26,443.14 L551.40,446.00 L548.54,443.14 Z" fill="#5cb82e" clip-path="url(#hR)"/>
<text x="555.90" y="445.24" font-size="5.9" font-weight="bold" text-anchor="start" fill="#000">CTPPI</text>
<path d="M551.40,446.92 L554.26,449.78 L551.40,452.64 L548.54,449.78 Z" fill="#ffffff" stroke="#5cb82e" stroke-width="0.6"/>
<path d="M551.40,446.92 L554.26,449.78 L551.40,452.64 L548.54,449.78 Z" fill="#5cb82e" clip-path="url(#hB)"/>
<text x="555.90" y="451.88" font-size="5.9" font-weight="bold" text-anchor="start" fill="#000">C2MPI</text>
<path d="M551.40,453.89 L553.93,458.40 L548.87,458.40 Z" fill="#ffffff" stroke="#5cb82e" stroke-width="0.6"/>
<path d="M551.40,453.89 L553.93,458.40 L548.87,458.40 Z" fill="#5cb82e" clip-path="url(#hR)"/>
<text x="555.90" y="458.52" font-size="5.9" font-weight="bold" text-anchor="start" fill="#000">DCz-pPy</text>
<path d="M551.40,460.53 L553.93,465.04 L548.87,465.04 Z" fill="#ffffff" stroke="#5cb82e" stroke-width="0.6"/>
<path d="M551.40,460.53 L553.93,465.04 L548.87,465.04 Z" fill="#5cb82e" clip-path="url(#hB)"/>
<text x="555.90" y="465.16" font-size="5.9" font-weight="bold" text-anchor="start" fill="#000">2BuCz-CNCz</text>
<path d="M551.40,467.17 L553.93,471.68 L548.87,471.68 Z" fill="#ffffff" stroke="#5cb82e" stroke-width="0.6"/>
<path d="M551.40,467.17 L553.93,471.68 L548.87,471.68 Z" fill="#5cb82e" clip-path="url(#hR)"/>
<text x="555.90" y="471.80" font-size="5.9" font-weight="bold" text-anchor="start" fill="#000">POPCN-2CP</text>
<path d="M551.40,473.81 L553.93,478.32 L548.87,478.32 Z" fill="#ffffff" stroke="#000000" stroke-width="0.6"/>
<path d="M551.40,473.81 L553.93,478.32 L548.87,478.32 Z" fill="#000000" clip-path="url(#hT)"/>
<text x="555.90" y="478.44" font-size="5.9" font-weight="bold" text-anchor="start" fill="#000">ICZ-TAZ</text>
<path d="M549.20,482.98 a2.2,2.2 0 1,0 4.4,0 a2.2,2.2 0 1,0 -4.4,0 Z" fill="#ffffff" stroke="#000000" stroke-width="0.6"/>
<path d="M549.20,482.98 a2.2,2.2 0 1,0 4.4,0 a2.2,2.2 0 1,0 -4.4,0 Z" fill="#000000" clip-path="url(#hR)"/>
<text x="555.90" y="485.08" font-size="5.9" font-weight="bold" text-anchor="start" fill="#000">CZ-MPS</text>
<path d="M549.20,489.62 a2.2,2.2 0 1,0 4.4,0 a2.2,2.2 0 1,0 -4.4,0 Z" fill="#ffffff" stroke="#000000" stroke-width="0.6"/>
<path d="M549.20,489.62 a2.2,2.2 0 1,0 4.4,0 a2.2,2.2 0 1,0 -4.4,0 Z" fill="#000000" clip-path="url(#hB)"/>
<text x="555.90" y="491.72" font-size="5.9" font-weight="bold" text-anchor="start" fill="#000">CzP2PO</text>
<path d="M549.20,496.26 a2.2,2.2 0 1,0 4.4,0 a2.2,2.2 0 1,0 -4.4,0 Z" fill="#ffffff" stroke="#000000" stroke-width="0.6"/>
<path d="M549.20,496.26 a2.2,2.2 0 1,0 4.4,0 a2.2,2.2 0 1,0 -4.4,0 Z" fill="#000000" clip-path="url(#hL)"/>
<text x="555.90" y="498.36" font-size="5.9" font-weight="bold" text-anchor="start" fill="#000">tBCzP2PO</text>
<path d="M551.40,500.37 L553.93,504.88 L548.87,504.88 Z" fill="#ff0000" stroke="none" stroke-width="1"/>
<text x="555.90" y="505.00" font-size="5.9" font-weight="bold" text-anchor="start" fill="#ff0000"><tspan font-style="italic">cis-trans</tspan>-TGW1</text>
<g>
<path d="M603.70,448.60 a2.4,2.4 0 1,0 4.8,0 a2.4,2.4 0 1,0 -4.8,0 Z" fill="#ffffff" stroke="#000000" stroke-width="0.6"/>
<path d="M603.70,448.60 a2.4,2.4 0 1,0 4.8,0 a2.4,2.4 0 1,0 -4.8,0 Z" fill="#000000" clip-path="url(#hL)"/>
<path d="M640.50,483.74 L643.26,488.66 L637.74,488.66 Z" fill="#ffffff" stroke="#5cb82e" stroke-width="0.6"/>
<path d="M640.50,483.74 L643.26,488.66 L637.74,488.66 Z" fill="#5cb82e" clip-path="url(#hB)"/>
<path d="M618.00,500.20 a2.4,2.4 0 1,0 4.8,0 a2.4,2.4 0 1,0 -4.8,0 Z" fill="#ffffff" stroke="#000000" stroke-width="0.6"/>
<path d="M618.00,500.20 a2.4,2.4 0 1,0 4.8,0 a2.4,2.4 0 1,0 -4.8,0 Z" fill="#000000" clip-path="url(#hR)"/>
<path d="M589.30,511.50 a2.4,2.4 0 1,0 4.8,0 a2.4,2.4 0 1,0 -4.8,0 Z" fill="#ffffff" stroke="#000000" stroke-width="0.6"/>
<path d="M589.30,511.50 a2.4,2.4 0 1,0 4.8,0 a2.4,2.4 0 1,0 -4.8,0 Z" fill="#000000" clip-path="url(#hB)"/>
<path d="M640.20,509.58 L643.32,512.70 L640.20,515.82 L637.08,512.70 Z" fill="#ffffff" stroke="#5cb82e" stroke-width="0.6"/>
<path d="M640.20,509.58 L643.32,512.70 L640.20,515.82 L637.08,512.70 Z" fill="#5cb82e" clip-path="url(#hR)"/>
<path d="M617.40,529.74 L620.16,534.66 L614.64,534.66 Z" fill="#ffffff" stroke="#5cb82e" stroke-width="0.6"/>
<path d="M617.40,529.74 L620.16,534.66 L614.64,534.66 Z" fill="#5cb82e" clip-path="url(#hR)"/>
<path d="M646.40,527.28 L649.52,530.40 L646.40,533.52 L643.28,530.40 Z" fill="#ffffff" stroke="#5cb82e" stroke-width="0.6"/>
<path d="M646.40,527.28 L649.52,530.40 L646.40,533.52 L643.28,530.40 Z" fill="#5cb82e" clip-path="url(#hB)"/>
<path d="M580.82,544.12 h4.56 v4.56 h-4.56 Z" fill="#0000ff" stroke="none" stroke-width="1"/>
<path d="M581.42,541.42 h4.56 v4.56 h-4.56 Z" fill="#0000ff" stroke="none" stroke-width="1"/>
<path d="M583.80,541.80 a2.4,2.4 0 1,0 4.8,0 a2.4,2.4 0 1,0 -4.8,0 Z" fill="#0000ff" stroke="none" stroke-width="1"/>
<path d="M603.90,550.50 a2.4,2.4 0 1,0 4.8,0 a2.4,2.4 0 1,0 -4.8,0 Z" fill="#0000ff" stroke="none" stroke-width="1"/>
<path d="M617.60,550.64 L620.36,555.56 L614.84,555.56 Z" fill="#ffffff" stroke="#000000" stroke-width="0.6"/>
<path d="M617.60,550.64 L620.36,555.56 L614.84,555.56 Z" fill="#000000" clip-path="url(#hT)"/>
<path d="M629.00,547.78 L632.12,550.90 L629.00,554.02 L625.88,550.90 Z" fill="#0000ff" stroke="none" stroke-width="1"/>
<path d="M639.50,550.88 L642.62,554.00 L639.50,557.12 L636.38,554.00 Z" fill="#ffffff" stroke="#5cb82e" stroke-width="0.6"/>
<path d="M639.50,550.88 L642.62,554.00 L639.50,557.12 L636.38,554.00 Z" fill="#5cb82e" clip-path="url(#hB)"/>
<path d="M640.80,549.64 L643.56,554.56 L638.04,554.56 Z" fill="#ffffff" stroke="#5cb82e" stroke-width="0.6"/>
<path d="M640.80,549.64 L643.56,554.56 L638.04,554.56 Z" fill="#5cb82e" clip-path="url(#hR)"/>
<path d="M643.90,547.74 L646.66,552.66 L641.14,552.66 Z" fill="#ffffff" stroke="#5cb82e" stroke-width="0.6"/>
<path d="M643.90,547.74 L646.66,552.66 L641.14,552.66 Z" fill="#5cb82e" clip-path="url(#hB)"/>
<path d="M612.26,557.30 L607.34,554.54 L607.34,560.06 Z" fill="#0000ff" stroke="none" stroke-width="1"/>
<path d="M629.52,557.32 h4.56 v4.56 h-4.56 Z" fill="#ffffff" stroke="#0000ff" stroke-width="0.6"/>
<path d="M629.52,557.32 h4.56 v4.56 h-4.56 Z" fill="#0000ff" clip-path="url(#hR)"/>
<path d="M637.22,555.72 h4.56 v4.56 h-4.56 Z" fill="#ffffff" stroke="#8a00f0" stroke-width="0.6"/>
<path d="M637.22,555.72 h4.56 v4.56 h-4.56 Z" fill="#8a00f0" clip-path="url(#hL)"/>
<path d="M603.16,563.30 L601.78,565.69 L599.02,565.69 L597.64,563.30 L599.02,560.91 L601.78,560.91 Z" fill="#0000ff" stroke="none" stroke-width="1"/>
<path d="M635.30,564.20 a2.4,2.4 0 1,0 4.8,0 a2.4,2.4 0 1,0 -4.8,0 Z" fill="#0000ff" stroke="none" stroke-width="1"/>
<path d="M638.52,560.62 h4.56 v4.56 h-4.56 Z" fill="#ffffff" stroke="#0000ff" stroke-width="0.6"/>
<path d="M638.52,560.62 h4.56 v4.56 h-4.56 Z" fill="#0000ff" clip-path="url(#hB)"/>
<path d="M649.62,560.22 h4.56 v4.56 h-4.56 Z" fill="#0000ff" stroke="none" stroke-width="1"/>
<path d="M629.40,568.50 a2.4,2.4 0 1,0 4.8,0 a2.4,2.4 0 1,0 -4.8,0 Z" fill="#ffffff" stroke="#8a00f0" stroke-width="0.6"/>
<path d="M629.40,568.50 a2.4,2.4 0 1,0 4.8,0 a2.4,2.4 0 1,0 -4.8,0 Z" fill="#8a00f0" clip-path="url(#hB)"/>
<path d="M617.20,565.93 L617.93,568.10 L620.22,568.12 L618.38,569.48 L619.07,571.67 L617.20,570.34 L615.33,571.67 L616.02,569.48 L614.18,568.12 L616.47,568.10 Z" fill="#0000ff" stroke="none" stroke-width="1"/>
<path d="M621.00,571.60 a2.4,2.4 0 1,0 4.8,0 a2.4,2.4 0 1,0 -4.8,0 Z" fill="#ffffff" stroke="#0000ff" stroke-width="0.6"/>
<path d="M621.00,571.60 a2.4,2.4 0 1,0 4.8,0 a2.4,2.4 0 1,0 -4.8,0 Z" fill="#0000ff" clip-path="url(#hL)"/>
<path d="M632.62,579.62 h4.56 v4.56 h-4.56 Z" fill="#0000ff" stroke="none" stroke-width="1"/>
<path d="M528.90,585.36 L531.66,580.44 L526.14,580.44 Z" fill="#0000ff" stroke="none" stroke-width="1"/>
<path d="M553.32,566.22 h4.56 v4.56 h-4.56 Z" fill="#ffffff" stroke="#0000ff" stroke-width="0.6"/>
<path d="M553.32,566.22 h4.56 v4.56 h-4.56 Z" fill="#0000ff" clip-path="url(#hB)"/>
<path d="M600.40,560.54 L603.02,562.45 L602.02,565.53 L598.78,565.53 L597.78,562.45 Z" fill="#0000ff" stroke="none" stroke-width="1"/>
<path d="M566.00,558.61 L568.99,563.94 L563.01,563.94 Z" fill="#ff0000" stroke="none" stroke-width="1"/>
<path d="M611.80,542.51 L614.79,547.84 L608.81,547.84 Z" fill="#ff0000" stroke="none" stroke-width="1"/>
</g>
<text x="565.30" y="559.00" font-size="5.8" font-weight="bold" text-anchor="middle" fill="#ff0000">Device 1</text>
<text x="609.60" y="543.60" font-size="5.8" font-weight="bold" text-anchor="middle" fill="#ff0000">Device 2</text>
<line x1="508.50" y1="582.10" x2="508.50" y2="584.30" stroke="#333" stroke-width="0.7"/>
<text x="507.90" y="595.20" font-size="8.2" font-weight="bold" text-anchor="middle" fill="#000">350</text>
<line x1="522.82" y1="582.10" x2="522.82" y2="583.30" stroke="#333" stroke-width="0.7"/>
<line x1="537.13" y1="582.10" x2="537.13" y2="584.30" stroke="#333" stroke-width="0.7"/>
<text x="536.80" y="595.20" font-size="8.2" font-weight="bold" text-anchor="middle" fill="#000">360</text>
<line x1="551.45" y1="582.10" x2="551.45" y2="583.30" stroke="#333" stroke-width="0.7"/>
<line x1="565.76" y1="582.10" x2="565.76" y2="584.30" stroke="#333" stroke-width="0.7"/>
<text x="565.00" y="595.20" font-size="8.2" font-weight="bold" text-anchor="middle" fill="#000">370</text>
<line x1="580.08" y1="582.10" x2="580.08" y2="583.30" stroke="#333" stroke-width="0.7"/>
<line x1="594.39" y1="582.10" x2="594.39" y2="584.30" stroke="#333" stroke-width="0.7"/>
<text x="591.80" y="595.20" font-size="8.2" font-weight="bold" text-anchor="middle" fill="#000">380</text>
<line x1="608.71" y1="582.10" x2="608.71" y2="583.30" stroke="#333" stroke-width="0.7"/>
<line x1="623.02" y1="582.10" x2="623.02" y2="584.30" stroke="#333" stroke-width="0.7"/>
<text x="619.40" y="595.20" font-size="8.2" font-weight="bold" text-anchor="middle" fill="#000">390</text>
<line x1="637.34" y1="582.10" x2="637.34" y2="583.30" stroke="#333" stroke-width="0.7"/>
<line x1="651.65" y1="582.10" x2="651.65" y2="584.30" stroke="#333" stroke-width="0.7"/>
<text x="647.20" y="595.20" font-size="8.2" font-weight="bold" text-anchor="middle" fill="#000">400</text>
<line x1="665.97" y1="582.10" x2="665.97" y2="583.30" stroke="#333" stroke-width="0.7"/>
<line x1="506.40" y1="582.10" x2="508.60" y2="582.10" stroke="#333" stroke-width="0.7"/>
<text x="504.60" y="585.00" font-size="8.2" font-weight="bold" text-anchor="end" fill="#000">0</text>
<line x1="507.40" y1="573.53" x2="508.60" y2="573.53" stroke="#333" stroke-width="0.7"/>
<line x1="506.40" y1="564.96" x2="508.60" y2="564.96" stroke="#333" stroke-width="0.7"/>
<text x="504.60" y="567.86" font-size="8.2" font-weight="bold" text-anchor="end" fill="#000">2</text>
<line x1="507.40" y1="556.39" x2="508.60" y2="556.39" stroke="#333" stroke-width="0.7"/>
<line x1="506.40" y1="547.82" x2="508.60" y2="547.82" stroke="#333" stroke-width="0.7"/>
<text x="504.60" y="550.72" font-size="8.2" font-weight="bold" text-anchor="end" fill="#000">4</text>
<line x1="507.40" y1="539.25" x2="508.60" y2="539.25" stroke="#333" stroke-width="0.7"/>
<line x1="506.40" y1="530.68" x2="508.60" y2="530.68" stroke="#333" stroke-width="0.7"/>
<text x="504.60" y="533.58" font-size="8.2" font-weight="bold" text-anchor="end" fill="#000">6</text>
<line x1="507.40" y1="522.11" x2="508.60" y2="522.11" stroke="#333" stroke-width="0.7"/>
<line x1="506.40" y1="513.54" x2="508.60" y2="513.54" stroke="#333" stroke-width="0.7"/>
<text x="504.60" y="516.44" font-size="8.2" font-weight="bold" text-anchor="end" fill="#000">8</text>
<line x1="507.40" y1="504.97" x2="508.60" y2="504.97" stroke="#333" stroke-width="0.7"/>
<line x1="506.40" y1="496.40" x2="508.60" y2="496.40" stroke="#333" stroke-width="0.7"/>
<text x="504.60" y="499.30" font-size="8.2" font-weight="bold" text-anchor="end" fill="#000">10</text>
<line x1="507.40" y1="487.83" x2="508.60" y2="487.83" stroke="#333" stroke-width="0.7"/>
<line x1="506.40" y1="479.26" x2="508.60" y2="479.26" stroke="#333" stroke-width="0.7"/>
<text x="504.60" y="482.16" font-size="8.2" font-weight="bold" text-anchor="end" fill="#000">12</text>
<line x1="507.40" y1="470.69" x2="508.60" y2="470.69" stroke="#333" stroke-width="0.7"/>
<line x1="506.40" y1="462.12" x2="508.60" y2="462.12" stroke="#333" stroke-width="0.7"/>
<text x="504.60" y="465.02" font-size="8.2" font-weight="bold" text-anchor="end" fill="#000">14</text>
<line x1="507.40" y1="453.55" x2="508.60" y2="453.55" stroke="#333" stroke-width="0.7"/>
<line x1="506.40" y1="444.98" x2="508.60" y2="444.98" stroke="#333" stroke-width="0.7"/>
<text x="504.60" y="447.88" font-size="8.2" font-weight="bold" text-anchor="end" fill="#000">16</text>
<line x1="507.40" y1="436.41" x2="508.60" y2="436.41" stroke="#333" stroke-width="0.7"/>
<text x="586.30" y="609.20" font-size="8.75" font-weight="bold" text-anchor="middle" fill="#000">Wavelength (nm)</text>
<text x="492.60" y="507.80" font-size="8.3" font-weight="bold" text-anchor="middle" fill="#000" transform="rotate(-90 492.60 507.80)">External Quantum Efficiency (%)</text>
</svg></body></html>
